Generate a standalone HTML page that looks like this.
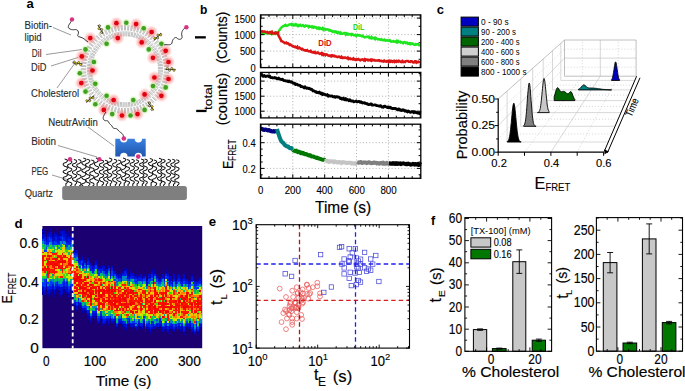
<!DOCTYPE html>
<html><head><meta charset="utf-8"><style>
html,body{margin:0;padding:0;background:#fff;width:685px;height:391px;overflow:hidden}
svg{display:block}
text{font-family:"Liberation Sans", sans-serif}
</style></head><body>
<svg width="685" height="391" viewBox="0 0 685 391" font-family="Liberation Sans, sans-serif">
<rect width="685" height="391" fill="#fff"/>
<text x="26.5" y="8.2" font-size="13" font-weight="bold" >a</text>
<text x="24.5" y="29.2" font-size="10.5" stroke="#2a2a2a" stroke-width="0.12" fill="#2a2a2a" textLength="27.5" lengthAdjust="spacingAndGlyphs" >Biotin-</text>
<text x="24.5" y="41.1" font-size="10.5" stroke="#2a2a2a" stroke-width="0.12" fill="#2a2a2a" textLength="17.2" lengthAdjust="spacingAndGlyphs" >lipid</text>
<text x="31.8" y="56.8" font-size="10.5" stroke="#2a2a2a" stroke-width="0.12" fill="#2a2a2a" textLength="10" lengthAdjust="spacingAndGlyphs" >DiI</text>
<text x="31.1" y="70.6" font-size="10.5" stroke="#2a2a2a" stroke-width="0.12" fill="#2a2a2a" textLength="15.4" lengthAdjust="spacingAndGlyphs" >DiD</text>
<text x="31.1" y="97.4" font-size="10.5" stroke="#2a2a2a" stroke-width="0.12" fill="#2a2a2a" textLength="48" lengthAdjust="spacingAndGlyphs" >Cholesterol</text>
<text x="48.2" y="125.7" font-size="10.5" stroke="#2a2a2a" stroke-width="0.12" fill="#2a2a2a" textLength="49.6" lengthAdjust="spacingAndGlyphs" >NeutrAvidin</text>
<text x="31.2" y="144.7" font-size="10.5" stroke="#2a2a2a" stroke-width="0.12" fill="#2a2a2a" textLength="24.8" lengthAdjust="spacingAndGlyphs" >Biotin</text>
<text x="31.5" y="174.7" font-size="10.5" stroke="#2a2a2a" stroke-width="0.12" fill="#2a2a2a" textLength="16.7" lengthAdjust="spacingAndGlyphs" >PEG</text>
<text x="24.8" y="197.2" font-size="10.5" stroke="#2a2a2a" stroke-width="0.12" fill="#2a2a2a" textLength="28.2" lengthAdjust="spacingAndGlyphs" >Quartz</text>
<g stroke="#555" stroke-width="0.6" fill="none">
<line x1="53" y1="27.5" x2="71" y2="35"/>
<line x1="46" y1="54.5" x2="82" y2="49.5"/>
<line x1="51" y1="66" x2="78" y2="57.5"/>
<line x1="57" y1="88" x2="75" y2="63"/>
<line x1="88" y1="127" x2="114" y2="146"/>
<line x1="58" y1="145.5" x2="97" y2="157"/>
<line x1="52" y1="175" x2="69" y2="180"/>
</g>
<g stroke="#9c9c9c" stroke-width="0.65">
<line x1="169.3" y1="68.8" x2="163.9" y2="68.8"/>
<line x1="169.3" y1="69.8" x2="163.9" y2="69.8"/>
<line x1="163.1" y1="70.2" x2="158.0" y2="70.1"/>
<line x1="163.0" y1="71.4" x2="157.9" y2="71.1"/>
<line x1="169.2" y1="72.2" x2="163.8" y2="71.9"/>
<line x1="169.1" y1="73.3" x2="163.7" y2="72.8"/>
<line x1="162.9" y1="73.2" x2="157.8" y2="72.7"/>
<line x1="162.8" y1="74.4" x2="157.7" y2="73.7"/>
<line x1="168.8" y1="75.7" x2="163.5" y2="74.9"/>
<line x1="168.7" y1="76.8" x2="163.3" y2="75.8"/>
<line x1="162.5" y1="76.1" x2="157.5" y2="75.2"/>
<line x1="162.2" y1="77.3" x2="157.3" y2="76.3"/>
<line x1="168.2" y1="79.1" x2="162.9" y2="77.9"/>
<line x1="167.9" y1="80.2" x2="162.7" y2="78.8"/>
<line x1="161.8" y1="79.1" x2="156.9" y2="77.7"/>
<line x1="161.5" y1="80.2" x2="156.6" y2="78.8"/>
<line x1="167.3" y1="82.5" x2="162.1" y2="80.9"/>
<line x1="167.0" y1="83.5" x2="161.8" y2="81.8"/>
<line x1="161.0" y1="81.9" x2="156.1" y2="80.2"/>
<line x1="160.5" y1="83.1" x2="155.8" y2="81.2"/>
<line x1="166.1" y1="85.8" x2="161.1" y2="83.8"/>
<line x1="165.7" y1="86.7" x2="160.8" y2="84.6"/>
<line x1="159.9" y1="84.7" x2="155.2" y2="82.6"/>
<line x1="159.3" y1="85.8" x2="154.7" y2="83.6"/>
<line x1="164.7" y1="88.9" x2="159.9" y2="86.5"/>
<line x1="164.2" y1="89.9" x2="159.4" y2="87.4"/>
<line x1="158.5" y1="87.4" x2="154.0" y2="85.0"/>
<line x1="157.9" y1="88.4" x2="153.5" y2="85.9"/>
<line x1="163.0" y1="92.0" x2="158.4" y2="89.2"/>
<line x1="162.5" y1="92.9" x2="157.9" y2="90.0"/>
<line x1="157.0" y1="90.0" x2="152.7" y2="87.2"/>
<line x1="156.3" y1="91.0" x2="152.1" y2="88.1"/>
<line x1="161.1" y1="94.9" x2="156.7" y2="91.8"/>
<line x1="160.5" y1="95.8" x2="156.2" y2="92.5"/>
<line x1="155.3" y1="92.4" x2="151.2" y2="89.3"/>
<line x1="154.5" y1="93.4" x2="150.6" y2="90.1"/>
<line x1="159.0" y1="97.7" x2="154.9" y2="94.2"/>
<line x1="158.3" y1="98.5" x2="154.3" y2="94.9"/>
<line x1="153.4" y1="94.7" x2="149.6" y2="91.3"/>
<line x1="152.6" y1="95.6" x2="148.9" y2="92.1"/>
<line x1="156.7" y1="100.2" x2="152.8" y2="96.5"/>
<line x1="155.9" y1="101.0" x2="152.2" y2="97.1"/>
<line x1="151.3" y1="96.9" x2="147.8" y2="93.2"/>
<line x1="150.4" y1="97.7" x2="147.0" y2="93.9"/>
<line x1="154.2" y1="102.6" x2="150.6" y2="98.6"/>
<line x1="153.4" y1="103.3" x2="149.9" y2="99.2"/>
<line x1="149.1" y1="98.8" x2="145.8" y2="94.9"/>
<line x1="148.1" y1="99.6" x2="145.0" y2="95.5"/>
<line x1="151.5" y1="104.8" x2="148.2" y2="100.5"/>
<line x1="150.6" y1="105.4" x2="147.5" y2="101.0"/>
<line x1="146.7" y1="100.6" x2="143.8" y2="96.4"/>
<line x1="145.7" y1="101.3" x2="142.9" y2="97.0"/>
<line x1="148.6" y1="106.8" x2="145.7" y2="102.2"/>
<line x1="147.7" y1="107.3" x2="144.9" y2="102.7"/>
<line x1="144.1" y1="102.2" x2="141.6" y2="97.8"/>
<line x1="143.1" y1="102.8" x2="140.7" y2="98.3"/>
<line x1="145.6" y1="108.5" x2="143.1" y2="103.7"/>
<line x1="144.6" y1="109.0" x2="142.2" y2="104.2"/>
<line x1="141.5" y1="103.6" x2="139.3" y2="99.0"/>
<line x1="140.4" y1="104.2" x2="138.3" y2="99.5"/>
<line x1="142.4" y1="110.0" x2="140.3" y2="105.1"/>
<line x1="141.5" y1="110.4" x2="139.5" y2="105.4"/>
<line x1="138.8" y1="104.8" x2="136.9" y2="100.1"/>
<line x1="137.6" y1="105.3" x2="135.9" y2="100.4"/>
<line x1="139.2" y1="111.3" x2="137.5" y2="106.1"/>
<line x1="138.2" y1="111.6" x2="136.6" y2="106.4"/>
<line x1="135.9" y1="105.8" x2="134.5" y2="100.9"/>
<line x1="134.8" y1="106.1" x2="133.4" y2="101.2"/>
<line x1="135.9" y1="112.2" x2="134.5" y2="107.0"/>
<line x1="134.8" y1="112.5" x2="133.6" y2="107.2"/>
<line x1="133.0" y1="106.5" x2="132.0" y2="101.6"/>
<line x1="131.8" y1="106.8" x2="130.9" y2="101.8"/>
<line x1="132.5" y1="113.0" x2="131.5" y2="107.6"/>
<line x1="131.4" y1="113.1" x2="130.6" y2="107.8"/>
<line x1="130.1" y1="107.1" x2="129.4" y2="102.0"/>
<line x1="128.9" y1="107.2" x2="128.4" y2="102.1"/>
<line x1="129.0" y1="113.4" x2="128.5" y2="108.0"/>
<line x1="127.9" y1="113.5" x2="127.6" y2="108.1"/>
<line x1="127.1" y1="107.3" x2="126.8" y2="102.2"/>
<line x1="125.9" y1="107.4" x2="125.8" y2="102.3"/>
<line x1="125.5" y1="113.6" x2="125.5" y2="108.2"/>
<line x1="124.5" y1="113.6" x2="124.5" y2="108.2"/>
<line x1="124.1" y1="107.4" x2="124.2" y2="102.3"/>
<line x1="122.9" y1="107.3" x2="123.2" y2="102.2"/>
<line x1="122.1" y1="113.5" x2="122.4" y2="108.1"/>
<line x1="121.0" y1="113.4" x2="121.5" y2="108.0"/>
<line x1="121.1" y1="107.2" x2="121.6" y2="102.1"/>
<line x1="119.9" y1="107.1" x2="120.6" y2="102.0"/>
<line x1="118.6" y1="113.1" x2="119.4" y2="107.8"/>
<line x1="117.5" y1="113.0" x2="118.5" y2="107.6"/>
<line x1="118.2" y1="106.8" x2="119.1" y2="101.8"/>
<line x1="117.0" y1="106.5" x2="118.0" y2="101.6"/>
<line x1="115.2" y1="112.5" x2="116.4" y2="107.2"/>
<line x1="114.1" y1="112.2" x2="115.5" y2="107.0"/>
<line x1="115.2" y1="106.1" x2="116.6" y2="101.2"/>
<line x1="114.1" y1="105.8" x2="115.5" y2="100.9"/>
<line x1="111.8" y1="111.6" x2="113.4" y2="106.4"/>
<line x1="110.8" y1="111.3" x2="112.5" y2="106.1"/>
<line x1="112.4" y1="105.3" x2="114.1" y2="100.4"/>
<line x1="111.2" y1="104.8" x2="113.1" y2="100.1"/>
<line x1="108.5" y1="110.4" x2="110.5" y2="105.4"/>
<line x1="107.6" y1="110.0" x2="109.7" y2="105.1"/>
<line x1="109.6" y1="104.2" x2="111.7" y2="99.5"/>
<line x1="108.5" y1="103.6" x2="110.7" y2="99.0"/>
<line x1="105.4" y1="109.0" x2="107.8" y2="104.2"/>
<line x1="104.4" y1="108.5" x2="106.9" y2="103.7"/>
<line x1="106.9" y1="102.8" x2="109.3" y2="98.3"/>
<line x1="105.9" y1="102.2" x2="108.4" y2="97.8"/>
<line x1="102.3" y1="107.3" x2="105.1" y2="102.7"/>
<line x1="101.4" y1="106.8" x2="104.3" y2="102.2"/>
<line x1="104.3" y1="101.3" x2="107.1" y2="97.0"/>
<line x1="103.3" y1="100.6" x2="106.2" y2="96.4"/>
<line x1="99.4" y1="105.4" x2="102.5" y2="101.0"/>
<line x1="98.5" y1="104.8" x2="101.8" y2="100.5"/>
<line x1="101.9" y1="99.6" x2="105.0" y2="95.5"/>
<line x1="100.9" y1="98.8" x2="104.2" y2="94.9"/>
<line x1="96.6" y1="103.3" x2="100.1" y2="99.2"/>
<line x1="95.8" y1="102.6" x2="99.4" y2="98.6"/>
<line x1="99.6" y1="97.7" x2="103.0" y2="93.9"/>
<line x1="98.7" y1="96.9" x2="102.2" y2="93.2"/>
<line x1="94.1" y1="101.0" x2="97.8" y2="97.1"/>
<line x1="93.3" y1="100.2" x2="97.2" y2="96.5"/>
<line x1="97.4" y1="95.6" x2="101.1" y2="92.1"/>
<line x1="96.6" y1="94.7" x2="100.4" y2="91.3"/>
<line x1="91.7" y1="98.5" x2="95.7" y2="94.9"/>
<line x1="91.0" y1="97.7" x2="95.1" y2="94.2"/>
<line x1="95.5" y1="93.4" x2="99.4" y2="90.1"/>
<line x1="94.7" y1="92.4" x2="98.8" y2="89.3"/>
<line x1="89.5" y1="95.8" x2="93.8" y2="92.5"/>
<line x1="88.9" y1="94.9" x2="93.3" y2="91.8"/>
<line x1="93.7" y1="91.0" x2="97.9" y2="88.1"/>
<line x1="93.0" y1="90.0" x2="97.3" y2="87.2"/>
<line x1="87.5" y1="92.9" x2="92.1" y2="90.0"/>
<line x1="87.0" y1="92.0" x2="91.6" y2="89.2"/>
<line x1="92.1" y1="88.4" x2="96.5" y2="85.9"/>
<line x1="91.5" y1="87.4" x2="96.0" y2="85.0"/>
<line x1="85.8" y1="89.9" x2="90.6" y2="87.4"/>
<line x1="85.3" y1="88.9" x2="90.1" y2="86.5"/>
<line x1="90.7" y1="85.8" x2="95.3" y2="83.6"/>
<line x1="90.1" y1="84.7" x2="94.8" y2="82.6"/>
<line x1="84.3" y1="86.7" x2="89.2" y2="84.6"/>
<line x1="83.9" y1="85.8" x2="88.9" y2="83.8"/>
<line x1="89.5" y1="83.1" x2="94.2" y2="81.2"/>
<line x1="89.0" y1="81.9" x2="93.9" y2="80.2"/>
<line x1="83.0" y1="83.5" x2="88.2" y2="81.8"/>
<line x1="82.7" y1="82.5" x2="87.9" y2="80.9"/>
<line x1="88.5" y1="80.2" x2="93.4" y2="78.8"/>
<line x1="88.2" y1="79.1" x2="93.1" y2="77.7"/>
<line x1="82.1" y1="80.2" x2="87.3" y2="78.8"/>
<line x1="81.8" y1="79.1" x2="87.1" y2="77.9"/>
<line x1="87.8" y1="77.3" x2="92.7" y2="76.3"/>
<line x1="87.5" y1="76.1" x2="92.5" y2="75.2"/>
<line x1="81.3" y1="76.8" x2="86.7" y2="75.8"/>
<line x1="81.2" y1="75.7" x2="86.5" y2="74.9"/>
<line x1="87.2" y1="74.4" x2="92.3" y2="73.7"/>
<line x1="87.1" y1="73.2" x2="92.2" y2="72.7"/>
<line x1="80.9" y1="73.3" x2="86.3" y2="72.8"/>
<line x1="80.8" y1="72.2" x2="86.2" y2="71.9"/>
<line x1="87.0" y1="71.4" x2="92.1" y2="71.1"/>
<line x1="86.9" y1="70.2" x2="92.0" y2="70.1"/>
<line x1="80.7" y1="69.8" x2="86.1" y2="69.8"/>
<line x1="80.7" y1="68.8" x2="86.1" y2="68.8"/>
<line x1="86.9" y1="68.4" x2="92.0" y2="68.5"/>
<line x1="87.0" y1="67.2" x2="92.1" y2="67.5"/>
<line x1="80.8" y1="66.4" x2="86.2" y2="66.7"/>
<line x1="80.9" y1="65.3" x2="86.3" y2="65.8"/>
<line x1="87.1" y1="65.4" x2="92.2" y2="65.9"/>
<line x1="87.2" y1="64.2" x2="92.3" y2="64.9"/>
<line x1="81.2" y1="62.9" x2="86.5" y2="63.7"/>
<line x1="81.3" y1="61.8" x2="86.7" y2="62.8"/>
<line x1="87.5" y1="62.5" x2="92.5" y2="63.4"/>
<line x1="87.8" y1="61.3" x2="92.7" y2="62.3"/>
<line x1="81.8" y1="59.5" x2="87.1" y2="60.7"/>
<line x1="82.1" y1="58.4" x2="87.3" y2="59.8"/>
<line x1="88.2" y1="59.5" x2="93.1" y2="60.9"/>
<line x1="88.5" y1="58.4" x2="93.4" y2="59.8"/>
<line x1="82.7" y1="56.1" x2="87.9" y2="57.7"/>
<line x1="83.0" y1="55.1" x2="88.2" y2="56.8"/>
<line x1="89.0" y1="56.7" x2="93.9" y2="58.4"/>
<line x1="89.5" y1="55.5" x2="94.2" y2="57.4"/>
<line x1="83.9" y1="52.8" x2="88.9" y2="54.8"/>
<line x1="84.3" y1="51.9" x2="89.2" y2="54.0"/>
<line x1="90.1" y1="53.9" x2="94.8" y2="56.0"/>
<line x1="90.7" y1="52.8" x2="95.3" y2="55.0"/>
<line x1="85.3" y1="49.7" x2="90.1" y2="52.1"/>
<line x1="85.8" y1="48.7" x2="90.6" y2="51.2"/>
<line x1="91.5" y1="51.2" x2="96.0" y2="53.6"/>
<line x1="92.1" y1="50.2" x2="96.5" y2="52.7"/>
<line x1="87.0" y1="46.6" x2="91.6" y2="49.4"/>
<line x1="87.5" y1="45.7" x2="92.1" y2="48.6"/>
<line x1="93.0" y1="48.6" x2="97.3" y2="51.4"/>
<line x1="93.7" y1="47.6" x2="97.9" y2="50.5"/>
<line x1="88.9" y1="43.7" x2="93.3" y2="46.8"/>
<line x1="89.5" y1="42.8" x2="93.8" y2="46.1"/>
<line x1="94.7" y1="46.2" x2="98.8" y2="49.3"/>
<line x1="95.5" y1="45.2" x2="99.4" y2="48.5"/>
<line x1="91.0" y1="40.9" x2="95.1" y2="44.4"/>
<line x1="91.7" y1="40.1" x2="95.7" y2="43.7"/>
<line x1="96.6" y1="43.9" x2="100.4" y2="47.3"/>
<line x1="97.4" y1="43.0" x2="101.1" y2="46.5"/>
<line x1="93.3" y1="38.4" x2="97.2" y2="42.1"/>
<line x1="94.1" y1="37.6" x2="97.8" y2="41.5"/>
<line x1="98.7" y1="41.7" x2="102.2" y2="45.4"/>
<line x1="99.6" y1="40.9" x2="103.0" y2="44.7"/>
<line x1="95.8" y1="36.0" x2="99.4" y2="40.0"/>
<line x1="96.6" y1="35.3" x2="100.1" y2="39.4"/>
<line x1="100.9" y1="39.8" x2="104.2" y2="43.7"/>
<line x1="101.9" y1="39.0" x2="105.0" y2="43.1"/>
<line x1="98.5" y1="33.8" x2="101.8" y2="38.1"/>
<line x1="99.4" y1="33.2" x2="102.5" y2="37.6"/>
<line x1="103.3" y1="38.0" x2="106.2" y2="42.2"/>
<line x1="104.3" y1="37.3" x2="107.1" y2="41.6"/>
<line x1="101.4" y1="31.8" x2="104.3" y2="36.4"/>
<line x1="102.3" y1="31.3" x2="105.1" y2="35.9"/>
<line x1="105.9" y1="36.4" x2="108.4" y2="40.8"/>
<line x1="106.9" y1="35.8" x2="109.3" y2="40.3"/>
<line x1="104.4" y1="30.1" x2="106.9" y2="34.9"/>
<line x1="105.4" y1="29.6" x2="107.8" y2="34.4"/>
<line x1="108.5" y1="35.0" x2="110.7" y2="39.6"/>
<line x1="109.6" y1="34.4" x2="111.7" y2="39.1"/>
<line x1="107.6" y1="28.6" x2="109.7" y2="33.5"/>
<line x1="108.5" y1="28.2" x2="110.5" y2="33.2"/>
<line x1="111.2" y1="33.8" x2="113.1" y2="38.5"/>
<line x1="112.4" y1="33.3" x2="114.1" y2="38.2"/>
<line x1="110.8" y1="27.3" x2="112.5" y2="32.5"/>
<line x1="111.8" y1="27.0" x2="113.4" y2="32.2"/>
<line x1="114.1" y1="32.8" x2="115.5" y2="37.7"/>
<line x1="115.2" y1="32.5" x2="116.6" y2="37.4"/>
<line x1="114.1" y1="26.4" x2="115.5" y2="31.6"/>
<line x1="115.2" y1="26.1" x2="116.4" y2="31.4"/>
<line x1="117.0" y1="32.1" x2="118.0" y2="37.0"/>
<line x1="118.2" y1="31.8" x2="119.1" y2="36.8"/>
<line x1="117.5" y1="25.6" x2="118.5" y2="31.0"/>
<line x1="118.6" y1="25.5" x2="119.4" y2="30.8"/>
<line x1="119.9" y1="31.5" x2="120.6" y2="36.6"/>
<line x1="121.1" y1="31.4" x2="121.6" y2="36.5"/>
<line x1="121.0" y1="25.2" x2="121.5" y2="30.6"/>
<line x1="122.1" y1="25.1" x2="122.4" y2="30.5"/>
<line x1="122.9" y1="31.3" x2="123.2" y2="36.4"/>
<line x1="124.1" y1="31.2" x2="124.2" y2="36.3"/>
<line x1="124.5" y1="25.0" x2="124.5" y2="30.4"/>
<line x1="125.5" y1="25.0" x2="125.5" y2="30.4"/>
<line x1="125.9" y1="31.2" x2="125.8" y2="36.3"/>
<line x1="127.1" y1="31.3" x2="126.8" y2="36.4"/>
<line x1="127.9" y1="25.1" x2="127.6" y2="30.5"/>
<line x1="129.0" y1="25.2" x2="128.5" y2="30.6"/>
<line x1="128.9" y1="31.4" x2="128.4" y2="36.5"/>
<line x1="130.1" y1="31.5" x2="129.4" y2="36.6"/>
<line x1="131.4" y1="25.5" x2="130.6" y2="30.8"/>
<line x1="132.5" y1="25.6" x2="131.5" y2="31.0"/>
<line x1="131.8" y1="31.8" x2="130.9" y2="36.8"/>
<line x1="133.0" y1="32.1" x2="132.0" y2="37.0"/>
<line x1="134.8" y1="26.1" x2="133.6" y2="31.4"/>
<line x1="135.9" y1="26.4" x2="134.5" y2="31.6"/>
<line x1="134.8" y1="32.5" x2="133.4" y2="37.4"/>
<line x1="135.9" y1="32.8" x2="134.5" y2="37.7"/>
<line x1="138.2" y1="27.0" x2="136.6" y2="32.2"/>
<line x1="139.2" y1="27.3" x2="137.5" y2="32.5"/>
<line x1="137.6" y1="33.3" x2="135.9" y2="38.2"/>
<line x1="138.8" y1="33.8" x2="136.9" y2="38.5"/>
<line x1="141.5" y1="28.2" x2="139.5" y2="33.2"/>
<line x1="142.4" y1="28.6" x2="140.3" y2="33.5"/>
<line x1="140.4" y1="34.4" x2="138.3" y2="39.1"/>
<line x1="141.5" y1="35.0" x2="139.3" y2="39.6"/>
<line x1="144.6" y1="29.6" x2="142.2" y2="34.4"/>
<line x1="145.6" y1="30.1" x2="143.1" y2="34.9"/>
<line x1="143.1" y1="35.8" x2="140.7" y2="40.3"/>
<line x1="144.1" y1="36.4" x2="141.6" y2="40.8"/>
<line x1="147.7" y1="31.3" x2="144.9" y2="35.9"/>
<line x1="148.6" y1="31.8" x2="145.7" y2="36.4"/>
<line x1="145.7" y1="37.3" x2="142.9" y2="41.6"/>
<line x1="146.7" y1="38.0" x2="143.8" y2="42.2"/>
<line x1="150.6" y1="33.2" x2="147.5" y2="37.6"/>
<line x1="151.5" y1="33.8" x2="148.2" y2="38.1"/>
<line x1="148.1" y1="39.0" x2="145.0" y2="43.1"/>
<line x1="149.1" y1="39.8" x2="145.8" y2="43.7"/>
<line x1="153.4" y1="35.3" x2="149.9" y2="39.4"/>
<line x1="154.2" y1="36.0" x2="150.6" y2="40.0"/>
<line x1="150.4" y1="40.9" x2="147.0" y2="44.7"/>
<line x1="151.3" y1="41.7" x2="147.8" y2="45.4"/>
<line x1="155.9" y1="37.6" x2="152.2" y2="41.5"/>
<line x1="156.7" y1="38.4" x2="152.8" y2="42.1"/>
<line x1="152.6" y1="43.0" x2="148.9" y2="46.5"/>
<line x1="153.4" y1="43.9" x2="149.6" y2="47.3"/>
<line x1="158.3" y1="40.1" x2="154.3" y2="43.7"/>
<line x1="159.0" y1="40.9" x2="154.9" y2="44.4"/>
<line x1="154.5" y1="45.2" x2="150.6" y2="48.5"/>
<line x1="155.3" y1="46.2" x2="151.2" y2="49.3"/>
<line x1="160.5" y1="42.8" x2="156.2" y2="46.1"/>
<line x1="161.1" y1="43.7" x2="156.7" y2="46.8"/>
<line x1="156.3" y1="47.6" x2="152.1" y2="50.5"/>
<line x1="157.0" y1="48.6" x2="152.7" y2="51.4"/>
<line x1="162.5" y1="45.7" x2="157.9" y2="48.6"/>
<line x1="163.0" y1="46.6" x2="158.4" y2="49.4"/>
<line x1="157.9" y1="50.2" x2="153.5" y2="52.7"/>
<line x1="158.5" y1="51.2" x2="154.0" y2="53.6"/>
<line x1="164.2" y1="48.7" x2="159.4" y2="51.2"/>
<line x1="164.7" y1="49.7" x2="159.9" y2="52.1"/>
<line x1="159.3" y1="52.8" x2="154.7" y2="55.0"/>
<line x1="159.9" y1="53.9" x2="155.2" y2="56.0"/>
<line x1="165.7" y1="51.9" x2="160.8" y2="54.0"/>
<line x1="166.1" y1="52.8" x2="161.1" y2="54.8"/>
<line x1="160.5" y1="55.5" x2="155.8" y2="57.4"/>
<line x1="161.0" y1="56.7" x2="156.1" y2="58.4"/>
<line x1="167.0" y1="55.1" x2="161.8" y2="56.8"/>
<line x1="167.3" y1="56.1" x2="162.1" y2="57.7"/>
<line x1="161.5" y1="58.4" x2="156.6" y2="59.8"/>
<line x1="161.8" y1="59.5" x2="156.9" y2="60.9"/>
<line x1="167.9" y1="58.4" x2="162.7" y2="59.8"/>
<line x1="168.2" y1="59.5" x2="162.9" y2="60.7"/>
<line x1="162.2" y1="61.3" x2="157.3" y2="62.3"/>
<line x1="162.5" y1="62.5" x2="157.5" y2="63.4"/>
<line x1="168.7" y1="61.8" x2="163.3" y2="62.8"/>
<line x1="168.8" y1="62.9" x2="163.5" y2="63.7"/>
<line x1="162.8" y1="64.2" x2="157.7" y2="64.9"/>
<line x1="162.9" y1="65.4" x2="157.8" y2="65.9"/>
<line x1="169.1" y1="65.3" x2="163.7" y2="65.8"/>
<line x1="169.2" y1="66.4" x2="163.8" y2="66.7"/>
<line x1="163.0" y1="67.2" x2="157.9" y2="67.5"/>
<line x1="163.1" y1="68.4" x2="158.0" y2="68.5"/>
</g>
<defs><radialGradient id="glr"><stop offset="0" stop-color="#ff5050" stop-opacity="0.8"/><stop offset="0.55" stop-color="#ff7070" stop-opacity="0.45"/><stop offset="1" stop-color="#ffa0a0" stop-opacity="0"/></radialGradient><radialGradient id="glg"><stop offset="0" stop-color="#a0e070" stop-opacity="0.9"/><stop offset="0.6" stop-color="#b8ec90" stop-opacity="0.5"/><stop offset="1" stop-color="#d0f4b0" stop-opacity="0"/></radialGradient><linearGradient id="nav" x1="0" y1="0" x2="0" y2="1"><stop offset="0" stop-color="#3a80e0"/><stop offset="1" stop-color="#1e56ae"/></linearGradient></defs>
<circle cx="116.4" cy="23.2" r="6.8" fill="url(#glr)"/><circle cx="116.4" cy="23.2" r="2.35" fill="#e00010"/>
<circle cx="126.3" cy="22.7" r="4.6" fill="url(#glg)"/><circle cx="126.3" cy="22.7" r="2.3" fill="#40a020"/>
<circle cx="136.1" cy="24.1" r="6.8" fill="url(#glr)"/><circle cx="136.1" cy="24.1" r="2.35" fill="#e00010"/>
<circle cx="143.7" cy="28.3" r="4.6" fill="url(#glg)"/><circle cx="143.7" cy="28.3" r="2.3" fill="#40a020"/>
<circle cx="151.6" cy="32" r="6.8" fill="url(#glr)"/><circle cx="151.6" cy="32" r="2.35" fill="#e00010"/>
<circle cx="161.4" cy="43.8" r="4.6" fill="url(#glg)"/><circle cx="161.4" cy="43.8" r="2.3" fill="#40a020"/>
<circle cx="165.7" cy="50.8" r="6.8" fill="url(#glr)"/><circle cx="165.7" cy="50.8" r="2.35" fill="#e00010"/>
<circle cx="168.5" cy="62" r="6.8" fill="url(#glr)"/><circle cx="168.5" cy="62" r="2.35" fill="#e00010"/>
<circle cx="168.5" cy="79" r="6.8" fill="url(#glr)"/><circle cx="168.5" cy="79" r="2.35" fill="#e00010"/>
<circle cx="165.7" cy="87.4" r="4.6" fill="url(#glg)"/><circle cx="165.7" cy="87.4" r="2.3" fill="#40a020"/>
<circle cx="161.4" cy="95.8" r="6.8" fill="url(#glr)"/><circle cx="161.4" cy="95.8" r="2.35" fill="#e00010"/>
<circle cx="144.6" cy="109.9" r="4.6" fill="url(#glg)"/><circle cx="144.6" cy="109.9" r="2.3" fill="#40a020"/>
<circle cx="137.5" cy="114.1" r="6.8" fill="url(#glr)"/><circle cx="137.5" cy="114.1" r="2.35" fill="#e00010"/>
<circle cx="130.5" cy="115.5" r="4.6" fill="url(#glg)"/><circle cx="130.5" cy="115.5" r="2.3" fill="#40a020"/>
<circle cx="122" cy="115.5" r="6.8" fill="url(#glr)"/><circle cx="122" cy="115.5" r="2.35" fill="#e00010"/>
<circle cx="112.2" cy="114.1" r="4.6" fill="url(#glg)"/><circle cx="112.2" cy="114.1" r="2.3" fill="#40a020"/>
<circle cx="103.8" cy="109.9" r="6.8" fill="url(#glr)"/><circle cx="103.8" cy="109.9" r="2.35" fill="#e00010"/>
<circle cx="95.3" cy="104.2" r="4.6" fill="url(#glg)"/><circle cx="95.3" cy="104.2" r="2.3" fill="#40a020"/>
<circle cx="85.5" cy="91.6" r="4.6" fill="url(#glg)"/><circle cx="85.5" cy="91.6" r="2.3" fill="#40a020"/>
<circle cx="81.3" cy="83.1" r="6.8" fill="url(#glr)"/><circle cx="81.3" cy="83.1" r="2.35" fill="#e00010"/>
<circle cx="79.8" cy="73.3" r="4.6" fill="url(#glg)"/><circle cx="79.8" cy="73.3" r="2.3" fill="#40a020"/>
<circle cx="81.8" cy="56.4" r="6.8" fill="url(#glr)"/><circle cx="81.8" cy="56.4" r="2.35" fill="#e00010"/>
<circle cx="85.5" cy="49.4" r="4.6" fill="url(#glg)"/><circle cx="85.5" cy="49.4" r="2.3" fill="#40a020"/>
<circle cx="90.3" cy="38.1" r="6.8" fill="url(#glr)"/><circle cx="90.3" cy="38.1" r="2.35" fill="#e00010"/>
<circle cx="108" cy="27.4" r="4.6" fill="url(#glg)"/><circle cx="108" cy="27.4" r="2.3" fill="#40a020"/>
<circle cx="117.8" cy="38.1" r="6.8" fill="url(#glr)"/><circle cx="117.8" cy="38.1" r="2.35" fill="#e00010"/>
<circle cx="106.6" cy="43.8" r="4.6" fill="url(#glg)"/><circle cx="106.6" cy="43.8" r="2.3" fill="#40a020"/>
<circle cx="92.5" cy="70.5" r="6.8" fill="url(#glr)"/><circle cx="92.5" cy="70.5" r="2.35" fill="#e00010"/>
<circle cx="93.9" cy="62" r="4.6" fill="url(#glg)"/><circle cx="93.9" cy="62" r="2.3" fill="#40a020"/>
<circle cx="95.3" cy="83.7" r="4.6" fill="url(#glg)"/><circle cx="95.3" cy="83.7" r="2.3" fill="#40a020"/>
<circle cx="113.6" cy="100" r="6.8" fill="url(#glr)"/><circle cx="113.6" cy="100" r="2.35" fill="#e00010"/>
<circle cx="106.6" cy="95.8" r="4.6" fill="url(#glg)"/><circle cx="106.6" cy="95.8" r="2.3" fill="#40a020"/>
<circle cx="133.3" cy="100" r="4.6" fill="url(#glg)"/><circle cx="133.3" cy="100" r="2.3" fill="#40a020"/>
<circle cx="144.6" cy="94.4" r="6.8" fill="url(#glr)"/><circle cx="144.6" cy="94.4" r="2.35" fill="#e00010"/>
<circle cx="153" cy="86" r="4.6" fill="url(#glg)"/><circle cx="153" cy="86" r="2.3" fill="#40a020"/>
<circle cx="154.4" cy="77.5" r="6.8" fill="url(#glr)"/><circle cx="154.4" cy="77.5" r="2.35" fill="#e00010"/>
<circle cx="153" cy="57.8" r="6.8" fill="url(#glr)"/><circle cx="153" cy="57.8" r="2.35" fill="#e00010"/>
<circle cx="148.8" cy="49.4" r="4.6" fill="url(#glg)"/><circle cx="148.8" cy="49.4" r="2.3" fill="#40a020"/>
<circle cx="141.7" cy="42.4" r="6.8" fill="url(#glr)"/><circle cx="141.7" cy="42.4" r="2.35" fill="#e00010"/>
<g transform="translate(100.5,29.2) rotate(-121)"><path d="M-5,0 L5,0" stroke="#222" stroke-width="1"/><circle cx="-3.2" cy="-0.9" r="1.1" fill="#e8d020" stroke="#222" stroke-width="0.5"/><circle cx="-1" cy="0.9" r="1.1" fill="#e8d020" stroke="#222" stroke-width="0.5"/><circle cx="1.2" cy="-0.9" r="1.1" fill="#e8d020" stroke="#222" stroke-width="0.5"/><circle cx="3.4" cy="0.9" r="1.1" fill="#e8d020" stroke="#222" stroke-width="0.5"/></g>
<g transform="translate(157.7,36.6) rotate(-45)"><path d="M-5,0 L5,0" stroke="#222" stroke-width="1"/><circle cx="-3.2" cy="-0.9" r="1.1" fill="#e8d020" stroke="#222" stroke-width="0.5"/><circle cx="-1" cy="0.9" r="1.1" fill="#e8d020" stroke="#222" stroke-width="0.5"/><circle cx="1.2" cy="-0.9" r="1.1" fill="#e8d020" stroke="#222" stroke-width="0.5"/><circle cx="3.4" cy="0.9" r="1.1" fill="#e8d020" stroke="#222" stroke-width="0.5"/></g>
<g transform="translate(170.6,69.4) rotate(0)"><path d="M-5,0 L5,0" stroke="#222" stroke-width="1"/><circle cx="-3.2" cy="-0.9" r="1.1" fill="#e8d020" stroke="#222" stroke-width="0.5"/><circle cx="-1" cy="0.9" r="1.1" fill="#e8d020" stroke="#222" stroke-width="0.5"/><circle cx="1.2" cy="-0.9" r="1.1" fill="#e8d020" stroke="#222" stroke-width="0.5"/><circle cx="3.4" cy="0.9" r="1.1" fill="#e8d020" stroke="#222" stroke-width="0.5"/></g>
<g transform="translate(150.7,106.1) rotate(55)"><path d="M-5,0 L5,0" stroke="#222" stroke-width="1"/><circle cx="-3.2" cy="-0.9" r="1.1" fill="#e8d020" stroke="#222" stroke-width="0.5"/><circle cx="-1" cy="0.9" r="1.1" fill="#e8d020" stroke="#222" stroke-width="0.5"/><circle cx="1.2" cy="-0.9" r="1.1" fill="#e8d020" stroke="#222" stroke-width="0.5"/><circle cx="3.4" cy="0.9" r="1.1" fill="#e8d020" stroke="#222" stroke-width="0.5"/></g>
<g transform="translate(90,99.2) rotate(139)"><path d="M-5,0 L5,0" stroke="#222" stroke-width="1"/><circle cx="-3.2" cy="-0.9" r="1.1" fill="#e8d020" stroke="#222" stroke-width="0.5"/><circle cx="-1" cy="0.9" r="1.1" fill="#e8d020" stroke="#222" stroke-width="0.5"/><circle cx="1.2" cy="-0.9" r="1.1" fill="#e8d020" stroke="#222" stroke-width="0.5"/><circle cx="3.4" cy="0.9" r="1.1" fill="#e8d020" stroke="#222" stroke-width="0.5"/></g>
<g transform="translate(77.5,63.3) rotate(-173)"><path d="M-5,0 L5,0" stroke="#222" stroke-width="1"/><circle cx="-3.2" cy="-0.9" r="1.1" fill="#e8d020" stroke="#222" stroke-width="0.5"/><circle cx="-1" cy="0.9" r="1.1" fill="#e8d020" stroke="#222" stroke-width="0.5"/><circle cx="1.2" cy="-0.9" r="1.1" fill="#e8d020" stroke="#222" stroke-width="0.5"/><circle cx="3.4" cy="0.9" r="1.1" fill="#e8d020" stroke="#222" stroke-width="0.5"/></g>
<g fill="none" stroke="#222" stroke-width="0.9">
<path d="M72,20 C70,24 66,27 70,29 C74,31 76,28 78,31 C80,34 75,36 80,37 C84,38 85,40 88,42"/>
<path d="M186,27 C182,30 181,33 182,36 C183,40 178,40 177,38 C175,36 172,40 172,43 C171,46 166,44 164,45"/>
<path d="M106,112 C104,115 102,118 104,120 C106,122 107,119 108.5,122 C110,125 111,124 112.5,127 C114,130 116,127 118,130 C120,133 122.5,132 123.8,137"/>
</g>
<circle cx="72" cy="19.4" r="2.2" fill="#d63384"/>
<circle cx="186.4" cy="27.3" r="2.2" fill="#d63384"/>
<path d="M115.3,138.8 H120.1 A3.7,3.7 0 0 0 127.5,138.8 H134.7 A3.7,3.7 0 0 0 142.1,138.8 H145.7 V156.4 H142.1 A3.7,3.7 0 0 0 134.7,156.4 H127.5 A3.7,3.7 0 0 0 120.1,156.4 H115.3 Z" fill="url(#nav)"/>
<circle cx="123.8" cy="138.5" r="2.3" fill="#d63384"/>
<circle cx="138.2" cy="156.6" r="2.3" fill="#d63384"/>
<g fill="none" stroke="#111" stroke-width="1.05">
<path d="M64.7,159.1 q5.0,1.0 1.2,3.5 q-5.0,1.1 -1.2,3.7 q5.0,1.1 1.2,3.7 q-5.0,1.0 -1.2,3.3 q5.0,1.0 1.2,3.2 q-5.0,1.2 -1.2,3.9 q5.0,1.0 1.2,3.4 L65.9,186"/>
<path d="M69.1,160.2 q5.0,1.1 1.2,3.6 q-5.0,1.2 -1.2,3.9 q5.0,1.1 1.2,3.6 q-5.0,1.1 -1.2,3.7 q5.0,1.0 1.2,3.3 q-5.0,1.1 -1.2,3.7 q5.0,1.2 1.2,3.9 L70.3,186"/>
<path d="M73.9,159.6 q5.0,1.1 1.2,3.7 q-5.0,1.0 -1.2,3.3 q5.0,1.1 1.2,3.8 q-5.0,1.1 -1.2,3.7 q5.0,1.0 1.2,3.4 q-5.0,1.0 -1.2,3.2 q5.0,1.2 1.2,3.9 L75.1,186"/>
<path d="M78.3,159.5 q5.0,1.2 1.2,3.9 q-5.0,1.1 -1.2,3.8 q5.0,1.2 1.2,3.9 q-5.0,1.1 -1.2,3.5 q5.0,1.2 1.2,3.8 q-5.0,1.1 -1.2,3.6 q5.0,1.2 1.2,3.9 L79.5,186"/>
<path d="M83.3,158.0 q5.0,1.0 1.2,3.3 q-5.0,1.0 -1.2,3.4 q5.0,1.2 1.2,4.0 q-5.0,1.1 -1.2,3.5 q5.0,1.1 1.2,3.7 q-5.0,1.0 -1.2,3.4 q5.0,1.1 1.2,3.6 q-5.0,1.1 -1.2,3.5 L83.3,186"/>
<path d="M87.1,159.2 q5.0,1.1 1.2,3.7 q-5.0,1.2 -1.2,3.9 q5.0,1.1 1.2,3.7 q-5.0,1.2 -1.2,3.9 q5.0,1.2 1.2,3.9 q-5.0,1.2 -1.2,4.0 q5.0,1.1 1.2,3.7 L88.3,186"/>
<path d="M91.3,159.9 q5.0,1.2 1.2,4.0 q-5.0,1.2 -1.2,3.9 q5.0,1.1 1.2,3.7 q-5.0,1.1 -1.2,3.8 q5.0,1.0 1.2,3.4 q-5.0,1.2 -1.2,3.9 q5.0,1.1 1.2,3.7 L92.5,186"/>
<path d="M95.9,158.0 q5.0,1.2 1.2,3.9 q-5.0,1.2 -1.2,4.0 q5.0,1.0 1.2,3.3 q-5.0,1.2 -1.2,3.8 q5.0,1.1 1.2,3.5 q-5.0,1.0 -1.2,3.3 q5.0,1.0 1.2,3.4 L97.1,186"/>
<path d="M100.9,159.9 q5.0,1.0 1.2,3.2 q-5.0,1.1 -1.2,3.7 q5.0,1.0 1.2,3.2 q-5.0,1.1 -1.2,3.8 q5.0,1.0 1.2,3.5 q-5.0,1.2 -1.2,3.9 q5.0,1.2 1.2,4.0 L102.1,186"/>
<path d="M105.1,160.2 q5.0,1.0 1.2,3.4 q-5.0,1.0 -1.2,3.3 q5.0,1.1 1.2,3.7 q-5.0,1.0 -1.2,3.2 q5.0,1.0 1.2,3.4 q-5.0,1.1 -1.2,3.5 q5.0,1.1 1.2,3.7 L106.3,186"/>
<path d="M109.1,157.9 q5.0,1.2 1.2,3.9 q-5.0,1.0 -1.2,3.5 q5.0,1.2 1.2,4.0 q-5.0,1.2 -1.2,3.9 q5.0,1.1 1.2,3.5 q-5.0,1.1 -1.2,3.6 q5.0,1.1 1.2,3.6 L110.3,186"/>
<path d="M114.1,159.2 q5.0,1.1 1.2,3.6 q-5.0,1.1 -1.2,3.7 q5.0,1.2 1.2,4.0 q-5.0,1.1 -1.2,3.6 q5.0,1.1 1.2,3.5 q-5.0,1.1 -1.2,3.8 q5.0,1.0 1.2,3.4 L115.3,186"/>
<path d="M118.2,160.1 q5.0,1.1 1.2,3.6 q-5.0,1.1 -1.2,3.6 q5.0,1.0 1.2,3.2 q-5.0,1.1 -1.2,3.5 q5.0,1.1 1.2,3.7 q-5.0,1.0 -1.2,3.2 q5.0,1.1 1.2,3.7 L119.4,186"/>
<path d="M123.0,157.9 q5.0,1.1 1.2,3.7 q-5.0,1.1 -1.2,3.6 q5.0,1.1 1.2,3.7 q-5.0,1.0 -1.2,3.5 q5.0,1.1 1.2,3.8 q-5.0,1.1 -1.2,3.8 q5.0,1.0 1.2,3.2 L124.2,186"/>
<path d="M126.8,159.4 q5.0,1.2 1.2,4.0 q-5.0,1.0 -1.2,3.4 q5.0,1.1 1.2,3.6 q-5.0,1.1 -1.2,3.7 q5.0,1.0 1.2,3.5 q-5.0,1.0 -1.2,3.5 q5.0,1.0 1.2,3.5 L128.0,186"/>
<path d="M131.6,159.2 q5.0,1.0 1.2,3.4 q-5.0,1.1 -1.2,3.5 q5.0,1.1 1.2,3.8 q-5.0,1.0 -1.2,3.2 q5.0,1.1 1.2,3.7 q-5.0,1.1 -1.2,3.8 q5.0,1.0 1.2,3.4 L132.8,186"/>
<path d="M135.9,159.7 q5.0,1.0 1.2,3.4 q-5.0,1.0 -1.2,3.3 q5.0,1.1 1.2,3.5 q-5.0,1.1 -1.2,3.8 q5.0,1.0 1.2,3.3 q-5.0,1.0 -1.2,3.5 q5.0,1.0 1.2,3.5 L137.1,186"/>
<path d="M141.1,158.9 q5.0,1.2 1.2,3.9 q-5.0,1.0 -1.2,3.3 q5.0,1.0 1.2,3.5 q-5.0,1.1 -1.2,3.7 q5.0,1.2 1.2,3.9 q-5.0,1.1 -1.2,3.6 q5.0,1.0 1.2,3.4 L142.3,186"/>
<path d="M144.6,159.1 q5.0,1.0 1.2,3.4 q-5.0,1.2 -1.2,3.8 q5.0,1.2 1.2,3.9 q-5.0,1.0 -1.2,3.3 q5.0,1.0 1.2,3.4 q-5.0,1.2 -1.2,3.8 q5.0,1.1 1.2,3.7 L145.8,186"/>
<path d="M149.9,158.6 q5.0,1.0 1.2,3.3 q-5.0,1.0 -1.2,3.4 q5.0,1.2 1.2,3.8 q-5.0,1.0 -1.2,3.4 q5.0,1.0 1.2,3.5 q-5.0,1.1 -1.2,3.5 q5.0,1.1 1.2,3.5 L151.1,186"/>
<path d="M153.9,160.0 q5.0,1.0 1.2,3.3 q-5.0,1.0 -1.2,3.2 q5.0,1.2 1.2,4.0 q-5.0,1.2 -1.2,3.9 q5.0,1.2 1.2,4.0 q-5.0,1.1 -1.2,3.5 q5.0,1.2 1.2,4.0 L155.1,186"/>
<path d="M159.0,158.3 q5.0,1.1 1.2,3.8 q-5.0,1.2 -1.2,3.9 q5.0,1.1 1.2,3.7 q-5.0,1.1 -1.2,3.6 q5.0,1.0 1.2,3.4 q-5.0,1.0 -1.2,3.5 q5.0,1.0 1.2,3.4 L160.2,186"/>
<path d="M162.4,159.2 q5.0,1.0 1.2,3.4 q-5.0,1.2 -1.2,3.8 q5.0,1.0 1.2,3.2 q-5.0,1.2 -1.2,3.9 q5.0,1.1 1.2,3.8 q-5.0,1.2 -1.2,3.9 q5.0,1.2 1.2,3.9 L163.6,186"/>
<path d="M167.8,159.2 q5.0,1.0 1.2,3.2 q-5.0,1.1 -1.2,3.8 q5.0,1.0 1.2,3.3 q-5.0,1.0 -1.2,3.4 q5.0,1.1 1.2,3.7 q-5.0,1.1 -1.2,3.6 q5.0,1.1 1.2,3.5 L169.0,186"/>
<path d="M172.3,159.3 q5.0,1.0 1.2,3.5 q-5.0,1.0 -1.2,3.4 q5.0,1.2 1.2,3.9 q-5.0,1.1 -1.2,3.6 q5.0,1.1 1.2,3.8 q-5.0,1.0 -1.2,3.5 q5.0,1.0 1.2,3.4 L173.5,186"/>
<path d="M176.3,159.8 q5.0,1.0 1.2,3.3 q-5.0,1.2 -1.2,3.8 q5.0,1.2 1.2,3.9 q-5.0,1.2 -1.2,3.8 q5.0,1.2 1.2,3.9 q-5.0,1.0 -1.2,3.2 q5.0,1.1 1.2,3.7 L177.5,186"/>
</g>
<rect x="62.2" y="186" width="124.7" height="14" rx="2.5" fill="#7f7f7f"/>
<circle cx="70" cy="159.3" r="2.2" fill="#d63384"/>
<circle cx="99.3" cy="159.3" r="2.2" fill="#d63384"/>
<text x="200" y="14.3" font-size="12" font-weight="bold" >b</text>
<g stroke="#9a9a9a" stroke-width="0.8" stroke-dasharray="1,2.2">
<line x1="292.8" y1="14.9" x2="292.8" y2="67.6"/>
<line x1="324.7" y1="14.9" x2="324.7" y2="67.6"/>
<line x1="356.5" y1="14.9" x2="356.5" y2="67.6"/>
<line x1="388.4" y1="14.9" x2="388.4" y2="67.6"/>
<line x1="260.5" y1="51.1" x2="420.8" y2="51.1"/>
<line x1="260.5" y1="34.6" x2="420.8" y2="34.6"/>
<line x1="260.5" y1="18.1" x2="420.8" y2="18.1"/>
</g>
<g stroke="#9a9a9a" stroke-width="0.8" stroke-dasharray="1,2.2">
<line x1="292.8" y1="72.4" x2="292.8" y2="117.9"/>
<line x1="324.7" y1="72.4" x2="324.7" y2="117.9"/>
<line x1="356.5" y1="72.4" x2="356.5" y2="117.9"/>
<line x1="388.4" y1="72.4" x2="388.4" y2="117.9"/>
<line x1="260.5" y1="111.2" x2="420.8" y2="111.2"/>
<line x1="260.5" y1="96.2" x2="420.8" y2="96.2"/>
<line x1="260.5" y1="81.1" x2="420.8" y2="81.1"/>
</g>
<g stroke="#9a9a9a" stroke-width="0.8" stroke-dasharray="1,2.2">
<line x1="292.8" y1="124.2" x2="292.8" y2="178.3"/>
<line x1="324.7" y1="124.2" x2="324.7" y2="178.3"/>
<line x1="356.5" y1="124.2" x2="356.5" y2="178.3"/>
<line x1="388.4" y1="124.2" x2="388.4" y2="178.3"/>
<line x1="260.5" y1="168.4" x2="420.8" y2="168.4"/>
<line x1="260.5" y1="142.7" x2="420.8" y2="142.7"/>
</g>
<path d="M261.0,32.9L261.7,33.1L262.4,33.7L263.1,33.0L263.8,33.1L264.5,33.3L265.2,32.7L265.9,33.2L266.6,33.4L267.3,33.7L268.0,32.7L268.7,33.1L269.4,32.8L270.1,33.8L270.8,33.7L271.5,32.7L272.2,34.0L272.9,34.0L273.6,33.6L274.3,33.5L275.0,32.9L275.7,32.6L276.4,33.4L277.1,32.7L277.8,32.9L278.5,32.0L279.2,30.4L279.9,29.7L280.6,28.5L281.3,27.8L282.0,26.8L282.7,26.6L283.4,26.0L284.1,25.9L284.8,25.2L285.5,24.8L286.2,25.8L286.9,25.7L287.6,25.5L288.3,25.2L289.0,24.6L289.7,24.4L290.4,24.4L291.1,24.1L291.8,25.0L292.5,24.5L293.2,25.2L293.9,24.6L294.6,25.5L295.3,25.4L296.0,24.3L296.7,24.7L297.4,25.8L298.1,25.2L298.8,26.0L299.5,25.3L300.2,24.9L300.9,25.7L301.6,26.0L302.3,25.4L303.0,25.2L303.7,25.6L304.4,26.6L305.1,26.4L305.8,25.5L306.5,25.8L307.2,25.7L307.9,25.8L308.6,26.9L309.3,26.2L310.0,26.8L310.7,26.8L311.4,26.5L312.1,27.4L312.8,26.7L313.5,27.5L314.2,26.9L314.9,27.4L315.6,27.2L316.3,27.4L317.0,28.5L317.7,28.4L318.4,27.8L319.1,28.7L319.8,27.9L320.5,28.3L321.2,29.0L321.9,28.9L322.6,28.2L323.3,29.6L324.0,28.6L324.7,28.8L325.4,29.7L326.1,29.3L326.8,29.4L327.5,29.3L328.2,29.5L328.9,30.3L329.6,30.0L330.3,30.7L331.0,30.6L331.7,30.9L332.4,31.7L333.1,31.3L333.8,31.6L334.5,32.1L335.2,31.4L335.9,31.5L336.6,32.7L337.3,32.8L338.0,32.1L338.7,32.2L339.4,33.2L340.1,33.6L340.8,32.7L341.5,33.8L342.2,33.8L342.9,33.5L343.6,33.4L344.3,33.0L345.0,33.0L345.7,34.4L346.4,33.5L347.1,34.3L347.8,33.7L348.5,34.6L349.2,34.4L349.9,34.1L350.6,34.0L351.3,34.9L352.0,34.0L352.7,34.4L353.4,34.9L354.1,35.4L354.8,35.2L355.5,34.8L356.2,35.8L356.9,34.9L357.6,34.8L358.3,35.3L359.0,35.6L359.7,35.2L360.4,35.5L361.1,35.9L361.8,36.3L362.5,35.8L363.2,36.2L363.9,37.0L364.6,37.3L365.3,37.0L366.0,37.1L366.7,37.1L367.4,36.6L368.1,36.5L368.8,36.6L369.5,38.0L370.2,37.8L370.9,38.3L371.6,37.1L372.3,38.1L373.0,38.0L373.7,38.4L374.4,38.0L375.1,39.0L375.8,37.9L376.5,38.6L377.2,39.0L377.9,39.4L378.6,39.3L379.3,39.3L380.0,39.6L380.7,39.8L381.4,39.2L382.1,39.8L382.8,40.2L383.5,40.2L384.2,39.7L384.9,40.4L385.6,40.6L386.3,40.3L387.0,40.5L387.7,40.3L388.4,40.7L389.1,40.8L389.8,40.2L390.5,41.1L391.2,41.7L391.9,41.6L392.6,41.5L393.3,41.1L394.0,41.7L394.7,41.6L395.4,41.4L396.1,42.1L396.8,41.1L397.5,42.2L398.2,41.3L398.9,42.1L399.6,42.1L400.3,41.8L401.0,42.6L401.7,42.4L402.4,42.6L403.1,43.2L403.8,42.3L404.5,42.1L405.2,42.6L405.9,43.2L406.6,42.6L407.3,42.7L408.0,43.8L408.7,43.6L409.4,43.3L410.1,44.1L410.8,43.4L411.5,43.9L412.2,43.4L412.9,43.8L413.6,44.4L414.3,44.7L415.0,44.7L415.7,44.1L416.4,44.5L417.1,44.2L417.8,44.1L418.5,44.7L419.2,45.2L419.9,45.3L420.6,45.2" fill="none" stroke="#1ee61e" stroke-width="2.5"/>
<path d="M261.0,32.1L261.7,31.3L262.4,31.2L263.1,31.7L263.8,31.5L264.5,31.5L265.2,31.9L265.9,32.3L266.6,32.2L267.3,32.0L268.0,32.8L268.7,33.1L269.4,32.5L270.1,32.0L270.8,32.0L271.5,33.3L272.2,32.2L272.9,33.3L273.6,33.1L274.3,32.9L275.0,33.6L275.7,32.6L276.4,32.9L277.1,33.4L277.8,32.9L278.5,35.5L279.2,36.8L279.9,38.2L280.6,39.4L281.3,41.1L282.0,41.2L282.7,41.7L283.4,42.0L284.1,42.5L284.8,43.1L285.5,43.0L286.2,42.6L286.9,43.4L287.6,43.3L288.3,43.4L289.0,44.3L289.7,45.0L290.4,44.6L291.1,45.1L291.8,45.5L292.5,46.2L293.2,46.2L293.9,46.6L294.6,47.0L295.3,46.7L296.0,47.5L296.7,47.8L297.4,46.9L298.1,48.3L298.8,48.2L299.5,47.6L300.2,48.3L300.9,48.8L301.6,49.4L302.3,48.9L303.0,49.4L303.7,50.0L304.4,50.1L305.1,50.5L305.8,50.1L306.5,50.5L307.2,50.1L307.9,51.0L308.6,51.3L309.3,51.2L310.0,51.5L310.7,50.9L311.4,52.0L312.1,52.3L312.8,52.5L313.5,52.0L314.2,52.6L314.9,52.1L315.6,53.1L316.3,53.2L317.0,52.6L317.7,52.4L318.4,53.1L319.1,53.4L319.8,53.9L320.5,53.6L321.2,53.2L321.9,54.4L322.6,53.6L323.3,54.8L324.0,54.0L324.7,54.4L325.4,55.1L326.1,54.3L326.8,54.4L327.5,55.1L328.2,55.5L328.9,55.7L329.6,55.6L330.3,56.1L331.0,55.6L331.7,56.3L332.4,55.2L333.1,55.5L333.8,56.1L334.5,55.8L335.2,56.6L335.9,56.6L336.6,56.5L337.3,57.1L338.0,56.8L338.7,56.5L339.4,56.7L340.1,57.5L340.8,57.7L341.5,56.8L342.2,57.8L342.9,58.1L343.6,57.6L344.3,57.8L345.0,57.4L345.7,57.9L346.4,58.0L347.1,58.3L347.8,57.6L348.5,59.0L349.2,58.5L349.9,58.4L350.6,59.1L351.3,58.9L352.0,58.9L352.7,59.3L353.4,58.5L354.1,59.3L354.8,59.2L355.5,60.1L356.2,60.1L356.9,59.2L357.6,59.5L358.3,59.1L359.0,59.6L359.7,60.1L360.4,60.3L361.1,59.7L361.8,59.6L362.5,59.4L363.2,60.0L363.9,60.5L364.6,59.4L365.3,60.4L366.0,59.4L366.7,59.6L367.4,59.7L368.1,60.4L368.8,59.9L369.5,60.0L370.2,60.4L370.9,59.7L371.6,60.6L372.3,59.8L373.0,60.4L373.7,60.1L374.4,60.1L375.1,60.6L375.8,60.5L376.5,60.4L377.2,60.5L377.9,60.7L378.6,60.2L379.3,60.3L380.0,61.0L380.7,61.0L381.4,60.9L382.1,61.4L382.8,61.1L383.5,61.5L384.2,60.6L384.9,61.4L385.6,61.5L386.3,61.7L387.0,60.9L387.7,60.9L388.4,61.8L389.1,60.9L389.8,62.0L390.5,61.9L391.2,60.8L391.9,61.0L392.6,61.7L393.3,61.0L394.0,60.8L394.7,61.9L395.4,61.3L396.1,61.8L396.8,60.9L397.5,61.3L398.2,61.7L398.9,60.8L399.6,61.1L400.3,61.8L401.0,62.1L401.7,62.2L402.4,61.0L403.1,61.6L403.8,62.0L404.5,61.6L405.2,61.9L405.9,61.2L406.6,61.1L407.3,61.1L408.0,61.1L408.7,61.8L409.4,61.8L410.1,61.9L410.8,61.3L411.5,61.3L412.2,61.4L412.9,62.3L413.6,62.5L414.3,62.4L415.0,61.3L415.7,61.3L416.4,62.5L417.1,61.9L417.8,62.3L418.5,61.7L419.2,61.9L419.9,62.0L420.6,61.9" fill="none" stroke="#dc1414" stroke-width="2.5"/>
<text x="352.9" y="30.4" font-size="8.5" font-weight="bold" fill="#22dd22" textLength="11.3" lengthAdjust="spacingAndGlyphs" >DiL</text>
<text x="318.3" y="46.4" font-size="8.5" font-weight="bold" fill="#dd1111" textLength="13.4" lengthAdjust="spacingAndGlyphs" >DiD</text>
<path d="M261.0,75.6L261.8,74.8L262.6,76.0L263.4,76.4L264.2,75.4L265.0,76.0L265.8,76.6L266.6,76.2L267.4,76.0L268.2,76.1L269.0,76.8L269.8,76.1L270.6,77.6L271.4,77.6L272.2,77.6L273.0,78.0L273.8,77.8L274.6,77.5L275.4,78.0L276.2,78.0L277.0,78.9L277.8,78.7L278.6,78.0L279.4,79.2L280.2,79.1L281.0,79.4L281.8,79.7L282.6,79.3L283.4,80.4L284.2,80.6L285.0,80.6L285.8,80.9L286.6,81.2L287.4,80.9L288.2,81.7L289.0,80.9L289.8,81.6L290.6,82.1L291.4,81.6L292.2,82.4L293.0,83.1L293.8,83.4L294.6,83.1L295.4,84.5L296.2,84.4L297.0,84.1L297.8,85.0L298.6,85.1L299.4,85.4L300.2,85.4L301.0,86.7L301.8,86.4L302.6,86.8L303.4,87.2L304.2,87.9L305.0,86.7L305.8,87.9L306.6,88.4L307.4,87.9L308.2,88.5L309.0,88.2L309.8,88.7L310.6,89.3L311.4,89.2L312.2,89.7L313.0,91.0L313.8,90.8L314.6,91.0L315.4,92.0L316.2,91.7L317.0,92.7L317.8,92.4L318.6,92.9L319.4,92.1L320.2,93.2L321.0,93.7L321.8,92.9L322.6,94.6L323.4,93.7L324.2,94.5L325.0,94.3L325.8,95.0L326.6,95.3L327.4,94.6L328.2,96.2L329.0,95.5L329.8,95.9L330.6,96.2L331.4,96.0L332.2,96.0L333.0,96.8L333.8,96.8L334.6,96.5L335.4,97.4L336.2,96.9L337.0,96.6L337.8,97.2L338.6,97.0L339.4,97.4L340.2,98.5L341.0,98.1L341.8,99.1L342.6,99.0L343.4,98.0L344.2,99.7L345.0,99.8L345.8,98.6L346.6,100.1L347.4,99.5L348.2,99.8L349.0,100.7L349.8,99.7L350.6,100.4L351.4,101.2L352.2,101.0L353.0,100.8L353.8,101.8L354.6,101.7L355.4,101.5L356.2,100.9L357.0,101.9L357.8,101.8L358.6,101.5L359.4,101.4L360.2,102.3L361.0,101.8L361.8,102.5L362.6,103.0L363.4,102.8L364.2,102.7L365.0,103.3L365.8,103.2L366.6,103.9L367.4,103.7L368.2,104.6L369.0,104.7L369.8,104.5L370.6,103.8L371.4,103.8L372.2,105.2L373.0,105.2L373.8,105.0L374.6,104.8L375.4,104.8L376.2,105.6L377.0,105.6L377.8,105.7L378.6,106.0L379.4,106.3L380.2,105.6L381.0,105.8L381.8,107.1L382.6,107.2L383.4,107.3L384.2,106.1L385.0,106.2L385.8,106.7L386.6,107.1L387.4,107.6L388.2,106.9L389.0,107.8L389.8,107.2L390.6,107.3L391.4,108.4L392.2,108.4L393.0,108.7L393.8,108.4L394.6,108.7L395.4,108.4L396.2,108.8L397.0,109.6L397.8,109.9L398.6,108.8L399.4,109.0L400.2,110.3L401.0,110.1L401.8,110.5L402.6,109.8L403.4,110.3L404.2,110.1L405.0,111.2L405.8,110.6L406.6,111.2L407.4,111.9L408.2,111.0L409.0,111.5L409.8,112.0L410.6,112.4L411.4,111.7L412.2,111.8L413.0,111.4L413.8,112.8L414.6,111.7L415.4,111.8L416.2,112.7L417.0,112.7L417.8,113.2L418.6,112.7L419.4,113.6L420.2,112.6L421.0,112.9" fill="none" stroke="#000" stroke-width="2.8" stroke-linejoin="round"/>
<path d="M261.0,129.4L261.8,128.8L262.6,129.2L263.4,129.8L264.2,129.9L265.0,129.5L265.8,129.5L266.6,129.9L267.4,130.4L268.2,130.1L269.0,129.9L269.8,130.8L270.6,130.7L271.4,131.3L272.2,131.4L273.0,131.5L273.8,131.0L274.6,131.6L275.4,131.1L276.2,131.3L277.0,131.5" fill="none" stroke="#000080" stroke-width="4" stroke-linejoin="round"/>
<path d="M277.0,129.0L277.8,132.0L278.6,134.2L279.4,136.8L280.2,138.8L281.0,140.8L281.8,141.7L282.6,142.5L283.4,143.0L284.2,144.3L285.0,145.4L285.8,145.5L286.6,146.3L287.4,146.4L288.2,146.4L289.0,147.6L289.8,148.2L290.6,147.9L291.4,148.0L292.2,149.1L293.0,149.6" fill="none" stroke="#007f7f" stroke-width="4" stroke-linejoin="round"/>
<path d="M293.0,150.1L293.8,150.8L294.6,150.8L295.4,151.2L296.2,150.6L297.0,151.5L297.8,152.1L298.6,151.5L299.4,151.8L300.2,152.8L301.0,153.3L301.8,152.5L302.6,153.4L303.4,153.1L304.2,154.1L305.0,154.2L305.8,153.9L306.6,154.1L307.4,155.0L308.2,155.0L309.0,155.5L309.8,155.3L310.6,155.5L311.4,156.5L312.2,156.4L313.0,156.4L313.8,156.7L314.6,157.1L315.4,157.4L316.2,157.9L317.0,157.5L317.8,158.2L318.6,158.3L319.4,158.7L320.2,158.9L321.0,159.2L321.8,159.5L322.6,159.8L323.4,159.7L324.2,159.8L325.0,160.3" fill="none" stroke="#007800" stroke-width="4" stroke-linejoin="round"/>
<path d="M325.0,161.4L325.8,161.0L326.6,161.1L327.4,160.8L328.2,161.6L329.0,162.0L329.8,161.3L330.6,161.2L331.4,161.3L332.2,161.6L333.0,161.6L333.8,162.4L334.6,161.4L335.4,161.8L336.2,161.7L337.0,162.4L337.8,162.6L338.6,162.0L339.4,161.9L340.2,162.5L341.0,162.7L341.8,163.1L342.6,162.1L343.4,162.2L344.2,162.4L345.0,162.5L345.8,162.5L346.6,163.1L347.4,163.0L348.2,162.7L349.0,162.7L349.8,162.8L350.6,162.7L351.4,163.5L352.2,163.0L353.0,163.3L353.8,163.7L354.6,163.3L355.4,163.1L356.2,163.9L357.0,164.0" fill="none" stroke="#c4c4c4" stroke-width="4" stroke-linejoin="round"/>
<path d="M357.0,162.1L357.8,162.4L358.6,162.9L359.4,162.4L360.2,162.1L361.0,161.9L361.8,163.0L362.6,162.9L363.4,162.4L364.2,162.6L365.0,162.6L365.8,162.4L366.6,163.2L367.4,162.9L368.2,162.4L369.0,162.2L369.8,162.7L370.6,162.7L371.4,163.2L372.2,163.1L373.0,163.0L373.8,162.5L374.6,162.5L375.4,162.8L376.2,162.7L377.0,163.5L377.8,163.1L378.6,163.3L379.4,163.7L380.2,162.9L381.0,163.2L381.8,162.8L382.6,163.6L383.4,162.7L384.2,163.7L385.0,163.8L385.8,163.8L386.6,162.9L387.4,163.2L388.2,163.7L389.0,163.0" fill="none" stroke="#7f7f7f" stroke-width="4" stroke-linejoin="round"/>
<path d="M389.0,163.2L389.8,163.2L390.6,163.8L391.4,163.4L392.2,163.8L393.0,163.1L393.8,163.8L394.6,163.3L395.4,164.0L396.2,163.0L397.0,163.9L397.8,163.2L398.6,163.7L399.4,163.7L400.2,163.3L401.0,164.1L401.8,163.5L402.6,163.6L403.4,163.3L404.2,163.6L405.0,163.9L405.8,164.2L406.6,163.8L407.4,164.2L408.2,163.6L409.0,163.9L409.8,164.1L410.6,164.7L411.4,164.6L412.2,164.4L413.0,163.7L413.8,164.1L414.6,164.6L415.4,164.0L416.2,164.5L417.0,164.4L417.8,163.9L418.6,165.1L419.4,164.9L420.2,164.2L421.0,164.7" fill="none" stroke="#000000" stroke-width="4" stroke-linejoin="round"/>
<g stroke="#000" fill="none">
<rect x="260.5" y="14.9" width="160.3" height="52.7" stroke-width="1.3"/>
<line x1="261.0" y1="67.6" x2="261.0" y2="63.599999999999994" stroke-width="1"/>
<line x1="261.0" y1="14.9" x2="261.0" y2="18.9" stroke-width="1"/>
<line x1="269.0" y1="67.6" x2="269.0" y2="65.39999999999999" stroke-width="1"/>
<line x1="269.0" y1="14.9" x2="269.0" y2="17.1" stroke-width="1"/>
<line x1="276.9" y1="67.6" x2="276.9" y2="65.39999999999999" stroke-width="1"/>
<line x1="276.9" y1="14.9" x2="276.9" y2="17.1" stroke-width="1"/>
<line x1="284.9" y1="67.6" x2="284.9" y2="65.39999999999999" stroke-width="1"/>
<line x1="284.9" y1="14.9" x2="284.9" y2="17.1" stroke-width="1"/>
<line x1="292.8" y1="67.6" x2="292.8" y2="63.599999999999994" stroke-width="1"/>
<line x1="292.8" y1="14.9" x2="292.8" y2="18.9" stroke-width="1"/>
<line x1="300.8" y1="67.6" x2="300.8" y2="65.39999999999999" stroke-width="1"/>
<line x1="300.8" y1="14.9" x2="300.8" y2="17.1" stroke-width="1"/>
<line x1="308.8" y1="67.6" x2="308.8" y2="65.39999999999999" stroke-width="1"/>
<line x1="308.8" y1="14.9" x2="308.8" y2="17.1" stroke-width="1"/>
<line x1="316.7" y1="67.6" x2="316.7" y2="65.39999999999999" stroke-width="1"/>
<line x1="316.7" y1="14.9" x2="316.7" y2="17.1" stroke-width="1"/>
<line x1="324.7" y1="67.6" x2="324.7" y2="63.599999999999994" stroke-width="1"/>
<line x1="324.7" y1="14.9" x2="324.7" y2="18.9" stroke-width="1"/>
<line x1="332.6" y1="67.6" x2="332.6" y2="65.39999999999999" stroke-width="1"/>
<line x1="332.6" y1="14.9" x2="332.6" y2="17.1" stroke-width="1"/>
<line x1="340.6" y1="67.6" x2="340.6" y2="65.39999999999999" stroke-width="1"/>
<line x1="340.6" y1="14.9" x2="340.6" y2="17.1" stroke-width="1"/>
<line x1="348.6" y1="67.6" x2="348.6" y2="65.39999999999999" stroke-width="1"/>
<line x1="348.6" y1="14.9" x2="348.6" y2="17.1" stroke-width="1"/>
<line x1="356.5" y1="67.6" x2="356.5" y2="63.599999999999994" stroke-width="1"/>
<line x1="356.5" y1="14.9" x2="356.5" y2="18.9" stroke-width="1"/>
<line x1="364.5" y1="67.6" x2="364.5" y2="65.39999999999999" stroke-width="1"/>
<line x1="364.5" y1="14.9" x2="364.5" y2="17.1" stroke-width="1"/>
<line x1="372.4" y1="67.6" x2="372.4" y2="65.39999999999999" stroke-width="1"/>
<line x1="372.4" y1="14.9" x2="372.4" y2="17.1" stroke-width="1"/>
<line x1="380.4" y1="67.6" x2="380.4" y2="65.39999999999999" stroke-width="1"/>
<line x1="380.4" y1="14.9" x2="380.4" y2="17.1" stroke-width="1"/>
<line x1="388.4" y1="67.6" x2="388.4" y2="63.599999999999994" stroke-width="1"/>
<line x1="388.4" y1="14.9" x2="388.4" y2="18.9" stroke-width="1"/>
<line x1="396.3" y1="67.6" x2="396.3" y2="65.39999999999999" stroke-width="1"/>
<line x1="396.3" y1="14.9" x2="396.3" y2="17.1" stroke-width="1"/>
<line x1="404.3" y1="67.6" x2="404.3" y2="65.39999999999999" stroke-width="1"/>
<line x1="404.3" y1="14.9" x2="404.3" y2="17.1" stroke-width="1"/>
<line x1="412.2" y1="67.6" x2="412.2" y2="65.39999999999999" stroke-width="1"/>
<line x1="412.2" y1="14.9" x2="412.2" y2="17.1" stroke-width="1"/>
<line x1="420.2" y1="67.6" x2="420.2" y2="63.599999999999994" stroke-width="1"/>
<line x1="420.2" y1="14.9" x2="420.2" y2="18.9" stroke-width="1"/>
<line x1="260.5" y1="59.3" x2="262.7" y2="59.3" stroke-width="1"/>
<line x1="420.8" y1="59.3" x2="418.6" y2="59.3" stroke-width="1"/>
<line x1="260.5" y1="51.1" x2="264.5" y2="51.1" stroke-width="1"/>
<line x1="420.8" y1="51.1" x2="416.8" y2="51.1" stroke-width="1"/>
<line x1="260.5" y1="42.8" x2="262.7" y2="42.8" stroke-width="1"/>
<line x1="420.8" y1="42.8" x2="418.6" y2="42.8" stroke-width="1"/>
<line x1="260.5" y1="34.6" x2="264.5" y2="34.6" stroke-width="1"/>
<line x1="420.8" y1="34.6" x2="416.8" y2="34.6" stroke-width="1"/>
<line x1="260.5" y1="26.3" x2="262.7" y2="26.3" stroke-width="1"/>
<line x1="420.8" y1="26.3" x2="418.6" y2="26.3" stroke-width="1"/>
<line x1="260.5" y1="18.1" x2="264.5" y2="18.1" stroke-width="1"/>
<line x1="420.8" y1="18.1" x2="416.8" y2="18.1" stroke-width="1"/>
<rect x="260.5" y="72.4" width="160.3" height="45.5" stroke-width="1.3"/>
<line x1="261.0" y1="117.9" x2="261.0" y2="113.9" stroke-width="1"/>
<line x1="261.0" y1="72.4" x2="261.0" y2="76.4" stroke-width="1"/>
<line x1="269.0" y1="117.9" x2="269.0" y2="115.7" stroke-width="1"/>
<line x1="269.0" y1="72.4" x2="269.0" y2="74.60000000000001" stroke-width="1"/>
<line x1="276.9" y1="117.9" x2="276.9" y2="115.7" stroke-width="1"/>
<line x1="276.9" y1="72.4" x2="276.9" y2="74.60000000000001" stroke-width="1"/>
<line x1="284.9" y1="117.9" x2="284.9" y2="115.7" stroke-width="1"/>
<line x1="284.9" y1="72.4" x2="284.9" y2="74.60000000000001" stroke-width="1"/>
<line x1="292.8" y1="117.9" x2="292.8" y2="113.9" stroke-width="1"/>
<line x1="292.8" y1="72.4" x2="292.8" y2="76.4" stroke-width="1"/>
<line x1="300.8" y1="117.9" x2="300.8" y2="115.7" stroke-width="1"/>
<line x1="300.8" y1="72.4" x2="300.8" y2="74.60000000000001" stroke-width="1"/>
<line x1="308.8" y1="117.9" x2="308.8" y2="115.7" stroke-width="1"/>
<line x1="308.8" y1="72.4" x2="308.8" y2="74.60000000000001" stroke-width="1"/>
<line x1="316.7" y1="117.9" x2="316.7" y2="115.7" stroke-width="1"/>
<line x1="316.7" y1="72.4" x2="316.7" y2="74.60000000000001" stroke-width="1"/>
<line x1="324.7" y1="117.9" x2="324.7" y2="113.9" stroke-width="1"/>
<line x1="324.7" y1="72.4" x2="324.7" y2="76.4" stroke-width="1"/>
<line x1="332.6" y1="117.9" x2="332.6" y2="115.7" stroke-width="1"/>
<line x1="332.6" y1="72.4" x2="332.6" y2="74.60000000000001" stroke-width="1"/>
<line x1="340.6" y1="117.9" x2="340.6" y2="115.7" stroke-width="1"/>
<line x1="340.6" y1="72.4" x2="340.6" y2="74.60000000000001" stroke-width="1"/>
<line x1="348.6" y1="117.9" x2="348.6" y2="115.7" stroke-width="1"/>
<line x1="348.6" y1="72.4" x2="348.6" y2="74.60000000000001" stroke-width="1"/>
<line x1="356.5" y1="117.9" x2="356.5" y2="113.9" stroke-width="1"/>
<line x1="356.5" y1="72.4" x2="356.5" y2="76.4" stroke-width="1"/>
<line x1="364.5" y1="117.9" x2="364.5" y2="115.7" stroke-width="1"/>
<line x1="364.5" y1="72.4" x2="364.5" y2="74.60000000000001" stroke-width="1"/>
<line x1="372.4" y1="117.9" x2="372.4" y2="115.7" stroke-width="1"/>
<line x1="372.4" y1="72.4" x2="372.4" y2="74.60000000000001" stroke-width="1"/>
<line x1="380.4" y1="117.9" x2="380.4" y2="115.7" stroke-width="1"/>
<line x1="380.4" y1="72.4" x2="380.4" y2="74.60000000000001" stroke-width="1"/>
<line x1="388.4" y1="117.9" x2="388.4" y2="113.9" stroke-width="1"/>
<line x1="388.4" y1="72.4" x2="388.4" y2="76.4" stroke-width="1"/>
<line x1="396.3" y1="117.9" x2="396.3" y2="115.7" stroke-width="1"/>
<line x1="396.3" y1="72.4" x2="396.3" y2="74.60000000000001" stroke-width="1"/>
<line x1="404.3" y1="117.9" x2="404.3" y2="115.7" stroke-width="1"/>
<line x1="404.3" y1="72.4" x2="404.3" y2="74.60000000000001" stroke-width="1"/>
<line x1="412.2" y1="117.9" x2="412.2" y2="115.7" stroke-width="1"/>
<line x1="412.2" y1="72.4" x2="412.2" y2="74.60000000000001" stroke-width="1"/>
<line x1="420.2" y1="117.9" x2="420.2" y2="113.9" stroke-width="1"/>
<line x1="420.2" y1="72.4" x2="420.2" y2="76.4" stroke-width="1"/>
<line x1="260.5" y1="111.2" x2="264.5" y2="111.2" stroke-width="1"/>
<line x1="420.8" y1="111.2" x2="416.8" y2="111.2" stroke-width="1"/>
<line x1="260.5" y1="103.7" x2="262.7" y2="103.7" stroke-width="1"/>
<line x1="420.8" y1="103.7" x2="418.6" y2="103.7" stroke-width="1"/>
<line x1="260.5" y1="96.2" x2="264.5" y2="96.2" stroke-width="1"/>
<line x1="420.8" y1="96.2" x2="416.8" y2="96.2" stroke-width="1"/>
<line x1="260.5" y1="88.6" x2="262.7" y2="88.6" stroke-width="1"/>
<line x1="420.8" y1="88.6" x2="418.6" y2="88.6" stroke-width="1"/>
<line x1="260.5" y1="81.1" x2="264.5" y2="81.1" stroke-width="1"/>
<line x1="420.8" y1="81.1" x2="416.8" y2="81.1" stroke-width="1"/>
<line x1="260.5" y1="73.6" x2="262.7" y2="73.6" stroke-width="1"/>
<line x1="420.8" y1="73.6" x2="418.6" y2="73.6" stroke-width="1"/>
<rect x="260.5" y="124.2" width="160.3" height="54.1" stroke-width="1.3"/>
<line x1="261.0" y1="178.3" x2="261.0" y2="174.3" stroke-width="1"/>
<line x1="261.0" y1="124.2" x2="261.0" y2="128.2" stroke-width="1"/>
<line x1="269.0" y1="178.3" x2="269.0" y2="176.10000000000002" stroke-width="1"/>
<line x1="269.0" y1="124.2" x2="269.0" y2="126.4" stroke-width="1"/>
<line x1="276.9" y1="178.3" x2="276.9" y2="176.10000000000002" stroke-width="1"/>
<line x1="276.9" y1="124.2" x2="276.9" y2="126.4" stroke-width="1"/>
<line x1="284.9" y1="178.3" x2="284.9" y2="176.10000000000002" stroke-width="1"/>
<line x1="284.9" y1="124.2" x2="284.9" y2="126.4" stroke-width="1"/>
<line x1="292.8" y1="178.3" x2="292.8" y2="174.3" stroke-width="1"/>
<line x1="292.8" y1="124.2" x2="292.8" y2="128.2" stroke-width="1"/>
<line x1="300.8" y1="178.3" x2="300.8" y2="176.10000000000002" stroke-width="1"/>
<line x1="300.8" y1="124.2" x2="300.8" y2="126.4" stroke-width="1"/>
<line x1="308.8" y1="178.3" x2="308.8" y2="176.10000000000002" stroke-width="1"/>
<line x1="308.8" y1="124.2" x2="308.8" y2="126.4" stroke-width="1"/>
<line x1="316.7" y1="178.3" x2="316.7" y2="176.10000000000002" stroke-width="1"/>
<line x1="316.7" y1="124.2" x2="316.7" y2="126.4" stroke-width="1"/>
<line x1="324.7" y1="178.3" x2="324.7" y2="174.3" stroke-width="1"/>
<line x1="324.7" y1="124.2" x2="324.7" y2="128.2" stroke-width="1"/>
<line x1="332.6" y1="178.3" x2="332.6" y2="176.10000000000002" stroke-width="1"/>
<line x1="332.6" y1="124.2" x2="332.6" y2="126.4" stroke-width="1"/>
<line x1="340.6" y1="178.3" x2="340.6" y2="176.10000000000002" stroke-width="1"/>
<line x1="340.6" y1="124.2" x2="340.6" y2="126.4" stroke-width="1"/>
<line x1="348.6" y1="178.3" x2="348.6" y2="176.10000000000002" stroke-width="1"/>
<line x1="348.6" y1="124.2" x2="348.6" y2="126.4" stroke-width="1"/>
<line x1="356.5" y1="178.3" x2="356.5" y2="174.3" stroke-width="1"/>
<line x1="356.5" y1="124.2" x2="356.5" y2="128.2" stroke-width="1"/>
<line x1="364.5" y1="178.3" x2="364.5" y2="176.10000000000002" stroke-width="1"/>
<line x1="364.5" y1="124.2" x2="364.5" y2="126.4" stroke-width="1"/>
<line x1="372.4" y1="178.3" x2="372.4" y2="176.10000000000002" stroke-width="1"/>
<line x1="372.4" y1="124.2" x2="372.4" y2="126.4" stroke-width="1"/>
<line x1="380.4" y1="178.3" x2="380.4" y2="176.10000000000002" stroke-width="1"/>
<line x1="380.4" y1="124.2" x2="380.4" y2="126.4" stroke-width="1"/>
<line x1="388.4" y1="178.3" x2="388.4" y2="174.3" stroke-width="1"/>
<line x1="388.4" y1="124.2" x2="388.4" y2="128.2" stroke-width="1"/>
<line x1="396.3" y1="178.3" x2="396.3" y2="176.10000000000002" stroke-width="1"/>
<line x1="396.3" y1="124.2" x2="396.3" y2="126.4" stroke-width="1"/>
<line x1="404.3" y1="178.3" x2="404.3" y2="176.10000000000002" stroke-width="1"/>
<line x1="404.3" y1="124.2" x2="404.3" y2="126.4" stroke-width="1"/>
<line x1="412.2" y1="178.3" x2="412.2" y2="176.10000000000002" stroke-width="1"/>
<line x1="412.2" y1="124.2" x2="412.2" y2="126.4" stroke-width="1"/>
<line x1="420.2" y1="178.3" x2="420.2" y2="174.3" stroke-width="1"/>
<line x1="420.2" y1="124.2" x2="420.2" y2="128.2" stroke-width="1"/>
<line x1="260.5" y1="174.8" x2="262.7" y2="174.8" stroke-width="1"/>
<line x1="420.8" y1="174.8" x2="418.6" y2="174.8" stroke-width="1"/>
<line x1="260.5" y1="168.4" x2="264.5" y2="168.4" stroke-width="1"/>
<line x1="420.8" y1="168.4" x2="416.8" y2="168.4" stroke-width="1"/>
<line x1="260.5" y1="162.0" x2="262.7" y2="162.0" stroke-width="1"/>
<line x1="420.8" y1="162.0" x2="418.6" y2="162.0" stroke-width="1"/>
<line x1="260.5" y1="155.6" x2="262.7" y2="155.6" stroke-width="1"/>
<line x1="420.8" y1="155.6" x2="418.6" y2="155.6" stroke-width="1"/>
<line x1="260.5" y1="149.1" x2="262.7" y2="149.1" stroke-width="1"/>
<line x1="420.8" y1="149.1" x2="418.6" y2="149.1" stroke-width="1"/>
<line x1="260.5" y1="142.7" x2="264.5" y2="142.7" stroke-width="1"/>
<line x1="420.8" y1="142.7" x2="416.8" y2="142.7" stroke-width="1"/>
<line x1="260.5" y1="136.3" x2="262.7" y2="136.3" stroke-width="1"/>
<line x1="420.8" y1="136.3" x2="418.6" y2="136.3" stroke-width="1"/>
<line x1="260.5" y1="129.9" x2="262.7" y2="129.9" stroke-width="1"/>
<line x1="420.8" y1="129.9" x2="418.6" y2="129.9" stroke-width="1"/>
</g>
<text x="255.6" y="22.9" font-size="11.2" stroke="#000" stroke-width="0.12" text-anchor="end" textLength="21" lengthAdjust="spacingAndGlyphs" >1500</text>
<text x="255.6" y="38.8" font-size="11.2" stroke="#000" stroke-width="0.12" text-anchor="end" textLength="21" lengthAdjust="spacingAndGlyphs" >1000</text>
<text x="255.6" y="54.7" font-size="11.2" stroke="#000" stroke-width="0.12" text-anchor="end" textLength="15.7" lengthAdjust="spacingAndGlyphs" >500</text>
<text x="255.6" y="71.5" font-size="11.2" stroke="#000" stroke-width="0.12" text-anchor="end" textLength="5.2" lengthAdjust="spacingAndGlyphs" >0</text>
<text x="255.6" y="85.2" font-size="11.2" stroke="#000" stroke-width="0.12" text-anchor="end" textLength="21" lengthAdjust="spacingAndGlyphs" >2000</text>
<text x="255.6" y="100.2" font-size="11.2" stroke="#000" stroke-width="0.12" text-anchor="end" textLength="21" lengthAdjust="spacingAndGlyphs" >1500</text>
<text x="255.6" y="114.9" font-size="11.2" stroke="#000" stroke-width="0.12" text-anchor="end" textLength="21" lengthAdjust="spacingAndGlyphs" >1000</text>
<text x="255.6" y="146.5" font-size="11.2" stroke="#000" stroke-width="0.12" text-anchor="end" textLength="13" lengthAdjust="spacingAndGlyphs" >0.4</text>
<text x="255.6" y="172.5" font-size="11.2" stroke="#000" stroke-width="0.12" text-anchor="end" textLength="13" lengthAdjust="spacingAndGlyphs" >0.2</text>
<text x="260.7" y="194" font-size="11" stroke="#000" stroke-width="0.12" text-anchor="middle" textLength="5.3" lengthAdjust="spacingAndGlyphs" >0</text>
<text x="292.8" y="194" font-size="11" stroke="#000" stroke-width="0.12" text-anchor="middle" textLength="16.3" lengthAdjust="spacingAndGlyphs" >200</text>
<text x="324.6" y="194" font-size="11" stroke="#000" stroke-width="0.12" text-anchor="middle" textLength="16.3" lengthAdjust="spacingAndGlyphs" >400</text>
<text x="356.8" y="194" font-size="11" stroke="#000" stroke-width="0.12" text-anchor="middle" textLength="16.3" lengthAdjust="spacingAndGlyphs" >600</text>
<text x="388.6" y="194" font-size="11" stroke="#000" stroke-width="0.12" text-anchor="middle" textLength="16.3" lengthAdjust="spacingAndGlyphs" >800</text>
<text x="315" y="213.4" font-size="16.5" stroke="#000" stroke-width="0.18" textLength="56.2" lengthAdjust="spacingAndGlyphs" >Time (s)</text>
<rect x="195" y="36.2" width="10.8" height="2.3" fill="#000"/>
<text transform="translate(226.6,37.6) rotate(-90)" font-size="15" stroke="#000" stroke-width="0.16" text-anchor="middle" textLength="51.5" lengthAdjust="spacingAndGlyphs" >(Counts)</text>
<rect x="196.2" y="109.8" width="10.3" height="2.3" fill="#000"/>
<text transform="translate(211.6,109.9) rotate(-90)" font-size="10" stroke="#000" stroke-width="0.11" textLength="25.6" lengthAdjust="spacingAndGlyphs" >total</text>
<text transform="translate(227,99.1) rotate(-90)" font-size="15" stroke="#000" stroke-width="0.16" text-anchor="middle" textLength="52.2" lengthAdjust="spacingAndGlyphs" >(counts)</text>
<text transform="translate(232.5,169.1) rotate(-90)" font-size="15.5" stroke="#000" stroke-width="0.17" textLength="8.2" lengthAdjust="spacingAndGlyphs" >E</text>
<text transform="translate(236.2,160.9) rotate(-90)" font-size="11" stroke="#000" stroke-width="0.12" textLength="21.5" lengthAdjust="spacingAndGlyphs" >FRET</text>
<text x="436.8" y="14.2" font-size="13" font-weight="bold" >c</text>
<line x1="564.5" y1="67.2" x2="636.1" y2="67.2" stroke="#bbb" stroke-width="0.6" stroke-dasharray="1,2"/>
<line x1="564.5" y1="49.1" x2="636.1" y2="49.1" stroke="#bbb" stroke-width="0.6" stroke-dasharray="1,2"/>
<line x1="582.4" y1="76.2" x2="582.4" y2="40.0" stroke="#bbb" stroke-width="0.6" stroke-dasharray="1,2"/>
<line x1="618.2" y1="76.2" x2="618.2" y2="40.0" stroke="#bbb" stroke-width="0.6" stroke-dasharray="1,2"/>
<line x1="564.5" y1="58.1" x2="636.1" y2="58.1" stroke="#c4c4c4" stroke-width="0.7"/>
<line x1="600.3" y1="76.2" x2="600.3" y2="40.0" stroke="#c4c4c4" stroke-width="0.7"/>
<line x1="507.1" y1="142.0" x2="507.1" y2="91.1" stroke="#c8c8c8" stroke-width="0.7"/>
<line x1="520.8" y1="126.3" x2="520.8" y2="78.9" stroke="#c8c8c8" stroke-width="0.7"/>
<line x1="532.7" y1="112.6" x2="532.7" y2="68.3" stroke="#c8c8c8" stroke-width="0.7"/>
<line x1="543.2" y1="100.6" x2="543.2" y2="58.9" stroke="#c8c8c8" stroke-width="0.7"/>
<line x1="552.5" y1="89.9" x2="552.5" y2="50.7" stroke="#c8c8c8" stroke-width="0.7"/>
<line x1="560.8" y1="80.4" x2="560.8" y2="43.3" stroke="#c8c8c8" stroke-width="0.7"/>
<line x1="498.2" y1="138.9" x2="564.5" y2="67.2" stroke="#bbb" stroke-width="0.6" stroke-dasharray="1,2"/>
<line x1="498.2" y1="112.3" x2="564.5" y2="49.1" stroke="#bbb" stroke-width="0.6" stroke-dasharray="1,2"/>
<line x1="498.2" y1="125.6" x2="564.5" y2="58.1" stroke="#c8c8c8" stroke-width="0.7"/>
<line x1="524.5" y1="152.2" x2="582.4" y2="76.2" stroke="#bbb" stroke-width="0.6" stroke-dasharray="1,2"/>
<line x1="577.2" y1="152.2" x2="618.2" y2="76.2" stroke="#bbb" stroke-width="0.6" stroke-dasharray="1,2"/>
<line x1="550.9" y1="152.2" x2="600.3" y2="76.2" stroke="#c8c8c8" stroke-width="0.7"/>
<line x1="507.1" y1="142.0" x2="608.0" y2="142.0" stroke="#c8c8c8" stroke-width="0.7"/>
<line x1="520.8" y1="126.3" x2="614.7" y2="126.3" stroke="#c8c8c8" stroke-width="0.7"/>
<line x1="532.7" y1="112.6" x2="620.6" y2="112.6" stroke="#c8c8c8" stroke-width="0.7"/>
<line x1="543.2" y1="100.6" x2="625.7" y2="100.6" stroke="#c8c8c8" stroke-width="0.7"/>
<line x1="552.5" y1="89.9" x2="630.3" y2="89.9" stroke="#c8c8c8" stroke-width="0.7"/>
<line x1="560.8" y1="80.4" x2="634.3" y2="80.4" stroke="#c8c8c8" stroke-width="0.7"/>
<line x1="514.2" y1="133.9" x2="611.4" y2="133.9" stroke="#bbb" stroke-width="0.6" stroke-dasharray="1,2"/>
<line x1="526.9" y1="119.2" x2="617.7" y2="119.2" stroke="#bbb" stroke-width="0.6" stroke-dasharray="1,2"/>
<line x1="538.1" y1="106.4" x2="623.2" y2="106.4" stroke="#bbb" stroke-width="0.6" stroke-dasharray="1,2"/>
<line x1="548.0" y1="95.1" x2="628.0" y2="95.1" stroke="#bbb" stroke-width="0.6" stroke-dasharray="1,2"/>
<line x1="556.7" y1="85.1" x2="632.4" y2="85.1" stroke="#bbb" stroke-width="0.6" stroke-dasharray="1,2"/>
<line x1="498.2" y1="99.0" x2="564.5" y2="40.0" stroke="#b0b0b0" stroke-width="0.8"/>
<line x1="564.5" y1="40.0" x2="636.1" y2="40.0" stroke="#b0b0b0" stroke-width="0.8"/>
<line x1="636.1" y1="76.2" x2="636.1" y2="40.0" stroke="#b0b0b0" stroke-width="0.8"/>
<line x1="564.5" y1="76.2" x2="564.5" y2="40.0" stroke="#b0b0b0" stroke-width="0.8"/>
<line x1="564.5" y1="76.2" x2="636.1" y2="76.2" stroke="#b0b0b0" stroke-width="0.8"/>
<polygon points="611.5,80.4 611.5,79.8 611.7,79.5 611.9,79.2 612.1,78.8 612.3,78.3 612.5,77.6 612.7,76.8 612.9,75.9 613.1,74.9 613.3,73.7 613.5,72.4 613.8,71.0 614.0,69.6 614.2,68.1 614.4,66.7 614.6,65.4 614.8,64.2 615.0,63.2 615.2,62.5 615.4,62.0 615.6,61.9 615.8,62.0 616.0,62.5 616.2,63.2 616.4,64.2 616.6,65.4 616.8,66.7 617.0,68.1 617.2,69.6 617.4,71.0 617.6,72.4 617.8,73.7 618.0,74.9 618.2,75.9 618.4,76.8 618.6,77.6 618.8,78.3 619.0,78.8 619.2,79.2 619.4,79.5 619.6,79.8 619.6,80.4" fill="#0000c0" stroke="#000" stroke-width="0.9" stroke-linejoin="round"/>
<polygon points="578.5,89.9 578.5,89.2 579.4,88.8 580.2,88.2 581.0,87.3 581.9,86.2 582.7,85.4 583.5,84.9 584.3,85.0 585.2,85.6 586.0,86.3 586.8,87.1 587.6,87.6 588.5,87.9 589.3,88.0 590.1,88.0 590.9,88.0 591.8,88.1 592.6,88.1 593.4,88.1 594.2,88.2 595.1,88.3 595.9,88.3 596.7,88.4 597.6,88.6 598.4,88.7 599.2,88.8 600.0,88.9 600.9,89.0 601.7,89.2 602.5,89.3 603.3,89.4 604.2,89.4 605.0,89.5 605.8,89.6 606.6,89.7 607.5,89.7 608.3,89.8 609.1,89.8 609.9,89.8 610.8,89.9 611.6,89.9 611.6,89.9" fill="#008080" stroke="#000" stroke-width="0.9" stroke-linejoin="round"/>
<polygon points="554.2,100.6 554.2,96.5 554.8,94.9 555.3,93.0 555.8,91.2 556.3,89.6 556.8,88.4 557.3,87.8 557.9,87.7 558.4,88.2 558.9,89.0 559.4,89.9 559.9,90.7 560.4,91.3 561.0,91.7 561.5,91.8 562.0,91.7 562.5,91.6 563.0,91.4 563.5,91.4 564.1,91.4 564.6,91.6 565.1,91.9 565.6,92.3 566.1,92.8 566.6,93.3 567.2,93.6 567.7,93.8 568.2,93.7 568.7,93.3 569.2,92.8 569.7,92.2 570.3,91.7 570.8,91.6 571.3,91.9 571.8,92.8 572.3,94.0 572.8,95.4 573.4,96.8 573.9,98.0 574.4,98.9 574.9,99.6 574.9,100.6" fill="#006400" stroke="#000" stroke-width="0.9" stroke-linejoin="round"/>
<polygon points="537.5,112.6 537.5,112.5 537.8,112.5 538.1,112.4 538.4,112.3 538.7,112.0 539.0,111.7 539.3,111.3 539.6,110.7 539.9,109.8 540.2,108.7 540.5,107.2 540.7,105.5 541.0,103.3 541.3,100.8 541.6,98.0 541.9,94.9 542.2,91.7 542.5,88.5 542.8,85.5 543.1,82.8 543.4,80.7 543.7,79.2 543.9,78.5 544.2,78.7 544.5,79.6 544.8,81.3 545.1,83.6 545.4,86.4 545.7,89.5 546.0,92.7 546.3,95.9 546.6,98.9 546.9,101.6 547.1,104.0 547.4,106.1 547.7,107.7 548.0,109.1 548.3,110.1 548.6,110.9 548.9,111.4 549.2,111.8 549.2,112.6" fill="#c8c8c8" stroke="#000" stroke-width="0.9" stroke-linejoin="round"/>
<polygon points="523.7,126.3 523.7,125.7 524.0,125.4 524.3,124.9 524.6,124.1 525.0,123.1 525.3,121.7 525.6,119.8 525.9,117.5 526.2,114.6 526.5,111.2 526.8,107.4 527.1,103.2 527.4,98.9 527.7,94.7 528.1,90.7 528.4,87.4 528.7,84.9 529.0,83.4 529.3,83.0 529.6,83.8 529.9,85.7 530.2,88.6 530.5,92.2 530.8,96.3 531.1,100.6 531.5,104.9 531.8,109.0 532.1,112.6 532.4,115.8 532.7,118.4 533.0,120.6 533.3,122.3 533.6,123.5 533.9,124.4 534.2,125.1 534.6,125.5 534.9,125.8 535.2,126.0 535.5,126.1 535.8,126.2 536.1,126.3 536.1,126.3" fill="#808080" stroke="#000" stroke-width="0.9" stroke-linejoin="round"/>
<polygon points="507.1,142.0 507.1,141.7 507.4,141.6 507.8,141.3 508.1,140.8 508.5,140.2 508.8,139.4 509.2,138.2 509.5,136.6 509.9,134.7 510.2,132.3 510.6,129.4 510.9,126.1 511.3,122.5 511.6,118.7 512.0,114.9 512.3,111.3 512.7,108.1 513.0,105.6 513.4,103.9 513.7,103.2 514.1,103.6 514.4,104.9 514.8,107.2 515.1,110.1 515.5,113.6 515.8,117.4 516.2,121.2 516.5,124.9 516.9,128.3 517.2,131.3 517.6,133.9 517.9,136.0 518.3,137.7 518.6,139.0 519.0,140.0 519.3,140.7 519.7,141.1 520.0,141.5 520.4,141.7 520.7,141.8 521.1,141.9 521.1,142.0" fill="#000000" stroke="#000" stroke-width="0.9" stroke-linejoin="round"/>
<g stroke="#000" stroke-width="1.2" fill="none">
<line x1="498.2" y1="98.5" x2="498.2" y2="152.2"/><line x1="497.6" y1="152.2" x2="604" y2="152.2"/>
<line x1="494.7" y1="152.2" x2="498.2" y2="152.2" stroke-width="1"/>
<line x1="496.2" y1="138.9" x2="498.2" y2="138.9" stroke-width="1"/>
<line x1="494.7" y1="125.6" x2="498.2" y2="125.6" stroke-width="1"/>
<line x1="496.2" y1="112.3" x2="498.2" y2="112.3" stroke-width="1"/>
<line x1="494.7" y1="99.0" x2="498.2" y2="99.0" stroke-width="1"/>
<line x1="498.2" y1="152.2" x2="498.2" y2="155.8" stroke-width="1"/>
<line x1="524.5" y1="152.2" x2="524.5" y2="155.8" stroke-width="1"/>
<line x1="550.9" y1="152.2" x2="550.9" y2="155.8" stroke-width="1"/>
<line x1="577.2" y1="152.2" x2="577.2" y2="155.8" stroke-width="1"/>
<line x1="603.6" y1="152.2" x2="603.6" y2="155.8" stroke-width="1"/>
<line x1="636.6" y1="76.3" x2="604.2" y2="151.5" stroke-width="1"/>
<line x1="640" y1="77.8" x2="607.4" y2="152.8" stroke-width="1"/>
</g>
<path d="M604.5,154.5 L604.3,149.2 L608.8,151.6 Z" fill="#000"/>
<text transform="translate(631.5,117.5) rotate(-66.6)" font-size="10.5" stroke="#000" stroke-width="0.12" textLength="19" lengthAdjust="spacingAndGlyphs" >Time</text>
<text x="495.1" y="102.6" font-size="10.5" stroke="#000" stroke-width="0.12" text-anchor="end" textLength="23.6" lengthAdjust="spacingAndGlyphs" >0.50</text>
<text x="495.1" y="129.1" font-size="10.5" stroke="#000" stroke-width="0.12" text-anchor="end" textLength="23.6" lengthAdjust="spacingAndGlyphs" >0.25</text>
<text x="495.1" y="155.8" font-size="10.5" stroke="#000" stroke-width="0.12" text-anchor="end" textLength="23.6" lengthAdjust="spacingAndGlyphs" >0.00</text>
<text x="499.1" y="167.3" font-size="10.5" stroke="#000" stroke-width="0.12" text-anchor="middle" textLength="15.5" lengthAdjust="spacingAndGlyphs" >0.2</text>
<text x="551.5" y="167.3" font-size="10.5" stroke="#000" stroke-width="0.12" text-anchor="middle" textLength="15.5" lengthAdjust="spacingAndGlyphs" >0.4</text>
<text x="603.8" y="167.3" font-size="10.5" stroke="#000" stroke-width="0.12" text-anchor="middle" textLength="15.5" lengthAdjust="spacingAndGlyphs" >0.6</text>
<text transform="translate(467.2,125) rotate(-90)" font-size="14.5" stroke="#000" stroke-width="0.16" text-anchor="middle" textLength="68.5" lengthAdjust="spacingAndGlyphs" >Probability</text>
<text x="534.4" y="188.8" font-size="16" stroke="#000" stroke-width="0.18" textLength="10.8" lengthAdjust="spacingAndGlyphs" >E</text>
<text x="545.5" y="190.6" font-size="10.5" stroke="#000" stroke-width="0.12" textLength="24.7" lengthAdjust="spacingAndGlyphs" >FRET</text>
<rect x="461.1" y="17.1" width="17.3" height="9" fill="#0000c0" stroke="#000" stroke-width="1"/>
<text x="481" y="24.8" font-size="8.2" textLength="27.6" lengthAdjust="spacingAndGlyphs" >0 - 90 s</text>
<rect x="461.1" y="27.1" width="17.3" height="9" fill="#008080" stroke="#000" stroke-width="1"/>
<text x="481" y="34.8" font-size="8.2" textLength="35" lengthAdjust="spacingAndGlyphs" >90 - 200 s</text>
<rect x="461.1" y="37.1" width="17.3" height="9" fill="#006400" stroke="#000" stroke-width="1"/>
<text x="481" y="44.8" font-size="8.2" textLength="38.5" lengthAdjust="spacingAndGlyphs" >200 - 400 s</text>
<rect x="461.1" y="47.1" width="17.3" height="9" fill="#d0d0d0" stroke="#000" stroke-width="1"/>
<text x="481" y="54.8" font-size="8.2" textLength="38.5" lengthAdjust="spacingAndGlyphs" >400 - 600 s</text>
<rect x="461.1" y="57.1" width="17.3" height="9" fill="#808080" stroke="#000" stroke-width="1"/>
<text x="481" y="64.8" font-size="8.2" textLength="38.5" lengthAdjust="spacingAndGlyphs" >600 - 800 s</text>
<rect x="461.1" y="67.1" width="17.3" height="9" fill="#000000" stroke="#000" stroke-width="1"/>
<text x="481" y="74.8" font-size="8.2" textLength="45.5" lengthAdjust="spacingAndGlyphs" >800 - 1000 s</text>
<text x="14.4" y="227.5" font-size="13.3" font-weight="bold" >d</text>
<rect x="42.4" y="226.0" width="159.8" height="122.2" fill="#1a0070"/>
<g shape-rendering="crispEdges"><rect x="42.4" y="229.2" width="1.7" height="1.7" fill="#0900a2"/><rect x="42.4" y="230.8" width="1.7" height="1.7" fill="#000aca"/><rect x="42.4" y="232.4" width="1.7" height="1.7" fill="#0900a2"/><rect x="42.4" y="234.0" width="1.7" height="4.9" fill="#000aca"/><rect x="42.4" y="238.9" width="1.7" height="1.7" fill="#003bf2"/><rect x="42.4" y="240.5" width="1.7" height="3.3" fill="#0088c0"/><rect x="42.4" y="243.7" width="1.7" height="1.7" fill="#36d81e"/><rect x="42.4" y="245.3" width="1.7" height="1.7" fill="#00bd6b"/><rect x="42.4" y="246.9" width="1.7" height="1.7" fill="#36d81e"/><rect x="42.4" y="248.5" width="1.7" height="1.7" fill="#c1ea07"/><rect x="42.4" y="250.1" width="1.7" height="1.7" fill="#f3c300"/><rect x="42.4" y="251.7" width="1.7" height="1.7" fill="#fe1800"/><rect x="42.4" y="253.3" width="1.7" height="1.7" fill="#c1ea07"/><rect x="42.4" y="254.9" width="1.7" height="1.7" fill="#f60e00"/><rect x="42.4" y="256.6" width="1.7" height="1.7" fill="#ee0400"/><rect x="42.4" y="258.2" width="1.7" height="1.7" fill="#f60e00"/><rect x="42.4" y="259.8" width="1.7" height="1.7" fill="#ee0400"/><rect x="42.4" y="261.4" width="1.7" height="4.9" fill="#fe1800"/><rect x="42.4" y="266.2" width="1.7" height="1.7" fill="#ff7c00"/><rect x="42.4" y="267.8" width="1.7" height="1.7" fill="#fe1800"/><rect x="42.4" y="269.4" width="1.7" height="1.7" fill="#ee0400"/><rect x="42.4" y="271.0" width="1.7" height="1.7" fill="#ff7c00"/><rect x="42.4" y="272.6" width="1.7" height="1.7" fill="#c1ea07"/><rect x="42.4" y="274.2" width="1.7" height="1.7" fill="#f3c300"/><rect x="42.4" y="275.8" width="1.7" height="1.7" fill="#36d81e"/><rect x="42.4" y="277.5" width="1.7" height="1.7" fill="#00bd6b"/><rect x="42.4" y="279.1" width="1.7" height="1.7" fill="#0088c0"/><rect x="42.4" y="280.7" width="1.7" height="1.7" fill="#00bd6b"/><rect x="42.4" y="282.3" width="1.7" height="3.3" fill="#003bf2"/><rect x="42.4" y="285.5" width="1.7" height="1.7" fill="#001be8"/><rect x="42.4" y="287.1" width="1.7" height="4.9" fill="#000aca"/><rect x="42.4" y="291.9" width="1.7" height="3.3" fill="#0900a2"/><rect x="44.0" y="229.2" width="1.7" height="4.9" fill="#0900a2"/><rect x="44.0" y="234.0" width="1.7" height="3.3" fill="#000aca"/><rect x="44.0" y="237.3" width="1.7" height="3.3" fill="#001be8"/><rect x="44.0" y="240.5" width="1.7" height="3.3" fill="#003bf2"/><rect x="44.0" y="243.7" width="1.7" height="1.7" fill="#0088c0"/><rect x="44.0" y="245.3" width="1.7" height="3.3" fill="#00bd6b"/><rect x="44.0" y="248.5" width="1.7" height="1.7" fill="#0088c0"/><rect x="44.0" y="250.1" width="1.7" height="1.7" fill="#003bf2"/><rect x="44.0" y="251.7" width="1.7" height="1.7" fill="#c1ea07"/><rect x="44.0" y="253.3" width="1.7" height="1.7" fill="#f3c300"/><rect x="44.0" y="254.9" width="1.7" height="1.7" fill="#fe1800"/><rect x="44.0" y="256.6" width="1.7" height="3.3" fill="#f3c300"/><rect x="44.0" y="259.8" width="1.7" height="1.7" fill="#fe1800"/><rect x="44.0" y="261.4" width="1.7" height="3.3" fill="#c1ea07"/><rect x="44.0" y="264.6" width="1.7" height="1.7" fill="#f3c300"/><rect x="44.0" y="266.2" width="1.7" height="1.7" fill="#fe1800"/><rect x="44.0" y="267.8" width="1.7" height="1.7" fill="#ee0400"/><rect x="44.0" y="269.4" width="1.7" height="3.3" fill="#fe1800"/><rect x="44.0" y="272.6" width="1.7" height="1.7" fill="#f3c300"/><rect x="44.0" y="274.2" width="1.7" height="1.7" fill="#c1ea07"/><rect x="44.0" y="275.8" width="1.7" height="1.7" fill="#36d81e"/><rect x="44.0" y="277.5" width="1.7" height="1.7" fill="#00bd6b"/><rect x="44.0" y="279.1" width="1.7" height="8.1" fill="#003bf2"/><rect x="44.0" y="287.1" width="1.7" height="3.3" fill="#001be8"/><rect x="44.0" y="290.3" width="1.7" height="4.9" fill="#000aca"/><rect x="45.6" y="235.6" width="1.7" height="3.3" fill="#0900a2"/><rect x="45.6" y="238.9" width="1.7" height="3.3" fill="#000aca"/><rect x="45.6" y="242.1" width="1.7" height="3.3" fill="#001be8"/><rect x="45.6" y="245.3" width="1.7" height="1.7" fill="#0088c0"/><rect x="45.6" y="246.9" width="1.7" height="1.7" fill="#003bf2"/><rect x="45.6" y="248.5" width="1.7" height="1.7" fill="#0088c0"/><rect x="45.6" y="250.1" width="1.7" height="1.7" fill="#003bf2"/><rect x="45.6" y="251.7" width="1.7" height="1.7" fill="#f3c300"/><rect x="45.6" y="253.3" width="1.7" height="1.7" fill="#c1ea07"/><rect x="45.6" y="254.9" width="1.7" height="1.7" fill="#f3c300"/><rect x="45.6" y="256.6" width="1.7" height="1.7" fill="#ff7c00"/><rect x="45.6" y="258.2" width="1.7" height="1.7" fill="#f60e00"/><rect x="45.6" y="259.8" width="1.7" height="1.7" fill="#36d81e"/><rect x="45.6" y="261.4" width="1.7" height="1.7" fill="#c1ea07"/><rect x="45.6" y="263.0" width="1.7" height="1.7" fill="#fe1800"/><rect x="45.6" y="264.6" width="1.7" height="1.7" fill="#ff7c00"/><rect x="45.6" y="266.2" width="1.7" height="1.7" fill="#c1ea07"/><rect x="45.6" y="267.8" width="1.7" height="1.7" fill="#fe1800"/><rect x="45.6" y="269.4" width="1.7" height="1.7" fill="#f60e00"/><rect x="45.6" y="271.0" width="1.7" height="3.3" fill="#36d81e"/><rect x="45.6" y="274.2" width="1.7" height="1.7" fill="#0088c0"/><rect x="45.6" y="275.8" width="1.7" height="1.7" fill="#00bd6b"/><rect x="45.6" y="277.5" width="1.7" height="1.7" fill="#0088c0"/><rect x="45.6" y="279.1" width="1.7" height="4.9" fill="#001be8"/><rect x="45.6" y="283.9" width="1.7" height="3.3" fill="#000aca"/><rect x="45.6" y="287.1" width="1.7" height="1.7" fill="#0900a2"/><rect x="47.2" y="232.4" width="1.7" height="1.7" fill="#0900a2"/><rect x="47.2" y="234.0" width="1.7" height="3.3" fill="#000aca"/><rect x="47.2" y="237.3" width="1.7" height="6.5" fill="#001be8"/><rect x="47.2" y="243.7" width="1.7" height="1.7" fill="#003bf2"/><rect x="47.2" y="245.3" width="1.7" height="1.7" fill="#0088c0"/><rect x="47.2" y="246.9" width="1.7" height="1.7" fill="#36d81e"/><rect x="47.2" y="248.5" width="1.7" height="1.7" fill="#c1ea07"/><rect x="47.2" y="250.1" width="1.7" height="1.7" fill="#f3c300"/><rect x="47.2" y="251.7" width="1.7" height="1.7" fill="#fe1800"/><rect x="47.2" y="253.3" width="1.7" height="1.7" fill="#ff7c00"/><rect x="47.2" y="254.9" width="1.7" height="1.7" fill="#ee0400"/><rect x="47.2" y="256.6" width="1.7" height="1.7" fill="#ff7c00"/><rect x="47.2" y="258.2" width="1.7" height="3.3" fill="#fe1800"/><rect x="47.2" y="261.4" width="1.7" height="1.7" fill="#ee0400"/><rect x="47.2" y="263.0" width="1.7" height="1.7" fill="#f60e00"/><rect x="47.2" y="264.6" width="1.7" height="1.7" fill="#fe1800"/><rect x="47.2" y="266.2" width="1.7" height="3.3" fill="#ee0400"/><rect x="47.2" y="269.4" width="1.7" height="1.7" fill="#f60e00"/><rect x="47.2" y="271.0" width="1.7" height="1.7" fill="#fe1800"/><rect x="47.2" y="272.6" width="1.7" height="1.7" fill="#ee0400"/><rect x="47.2" y="274.2" width="1.7" height="1.7" fill="#f60e00"/><rect x="47.2" y="275.8" width="1.7" height="1.7" fill="#fe1800"/><rect x="47.2" y="277.5" width="1.7" height="1.7" fill="#36d81e"/><rect x="47.2" y="279.1" width="1.7" height="1.7" fill="#c1ea07"/><rect x="47.2" y="280.7" width="1.7" height="1.7" fill="#36d81e"/><rect x="47.2" y="282.3" width="1.7" height="1.7" fill="#003bf2"/><rect x="47.2" y="283.9" width="1.7" height="1.7" fill="#0088c0"/><rect x="47.2" y="285.5" width="1.7" height="1.7" fill="#003bf2"/><rect x="47.2" y="287.1" width="1.7" height="3.3" fill="#001be8"/><rect x="47.2" y="290.3" width="1.7" height="3.3" fill="#000aca"/><rect x="47.2" y="293.5" width="1.7" height="3.3" fill="#0900a2"/><rect x="48.8" y="227.6" width="1.7" height="3.3" fill="#0900a2"/><rect x="48.8" y="230.8" width="1.7" height="4.9" fill="#000aca"/><rect x="48.8" y="235.6" width="1.7" height="1.7" fill="#001be8"/><rect x="48.8" y="237.3" width="1.7" height="3.3" fill="#003bf2"/><rect x="48.8" y="240.5" width="1.7" height="1.7" fill="#001be8"/><rect x="48.8" y="242.1" width="1.7" height="1.7" fill="#00bd6b"/><rect x="48.8" y="243.7" width="1.7" height="1.7" fill="#36d81e"/><rect x="48.8" y="245.3" width="1.7" height="1.7" fill="#00bd6b"/><rect x="48.8" y="246.9" width="1.7" height="1.7" fill="#36d81e"/><rect x="48.8" y="248.5" width="1.7" height="1.7" fill="#c1ea07"/><rect x="48.8" y="250.1" width="1.7" height="1.7" fill="#ff7c00"/><rect x="48.8" y="251.7" width="1.7" height="1.7" fill="#c1ea07"/><rect x="48.8" y="253.3" width="1.7" height="1.7" fill="#f3c300"/><rect x="48.8" y="254.9" width="1.7" height="1.7" fill="#ee0400"/><rect x="48.8" y="256.6" width="1.7" height="1.7" fill="#f60e00"/><rect x="48.8" y="258.2" width="1.7" height="1.7" fill="#ee0400"/><rect x="48.8" y="259.8" width="1.7" height="1.7" fill="#f3c300"/><rect x="48.8" y="261.4" width="1.7" height="3.3" fill="#f60e00"/><rect x="48.8" y="264.6" width="1.7" height="1.7" fill="#fe1800"/><rect x="48.8" y="266.2" width="1.7" height="1.7" fill="#36d81e"/><rect x="48.8" y="267.8" width="1.7" height="1.7" fill="#ee0400"/><rect x="48.8" y="269.4" width="1.7" height="1.7" fill="#fe1800"/><rect x="48.8" y="271.0" width="1.7" height="1.7" fill="#ee0400"/><rect x="48.8" y="272.6" width="1.7" height="1.7" fill="#fe1800"/><rect x="48.8" y="274.2" width="1.7" height="3.3" fill="#ff7c00"/><rect x="48.8" y="277.5" width="1.7" height="1.7" fill="#f3c300"/><rect x="48.8" y="279.1" width="1.7" height="3.3" fill="#00bd6b"/><rect x="48.8" y="282.3" width="1.7" height="1.7" fill="#0088c0"/><rect x="48.8" y="283.9" width="1.7" height="1.7" fill="#003bf2"/><rect x="48.8" y="285.5" width="1.7" height="3.3" fill="#001be8"/><rect x="48.8" y="288.7" width="1.7" height="4.9" fill="#000aca"/><rect x="48.8" y="293.5" width="1.7" height="1.7" fill="#0900a2"/><rect x="50.4" y="230.8" width="1.7" height="1.7" fill="#0900a2"/><rect x="50.4" y="232.4" width="1.7" height="4.9" fill="#000aca"/><rect x="50.4" y="237.3" width="1.7" height="1.7" fill="#001be8"/><rect x="50.4" y="238.9" width="1.7" height="3.3" fill="#003bf2"/><rect x="50.4" y="242.1" width="1.7" height="3.3" fill="#0088c0"/><rect x="50.4" y="245.3" width="1.7" height="1.7" fill="#36d81e"/><rect x="50.4" y="246.9" width="1.7" height="1.7" fill="#00bd6b"/><rect x="50.4" y="248.5" width="1.7" height="1.7" fill="#c1ea07"/><rect x="50.4" y="250.1" width="1.7" height="1.7" fill="#f3c300"/><rect x="50.4" y="251.7" width="1.7" height="1.7" fill="#fe1800"/><rect x="50.4" y="253.3" width="1.7" height="1.7" fill="#f3c300"/><rect x="50.4" y="254.9" width="1.7" height="1.7" fill="#fe1800"/><rect x="50.4" y="256.6" width="1.7" height="4.9" fill="#ff7c00"/><rect x="50.4" y="261.4" width="1.7" height="1.7" fill="#f60e00"/><rect x="50.4" y="263.0" width="1.7" height="1.7" fill="#ee0400"/><rect x="50.4" y="264.6" width="1.7" height="4.9" fill="#ff7c00"/><rect x="50.4" y="269.4" width="1.7" height="3.3" fill="#fe1800"/><rect x="50.4" y="272.6" width="1.7" height="1.7" fill="#36d81e"/><rect x="50.4" y="274.2" width="1.7" height="1.7" fill="#f3c300"/><rect x="50.4" y="275.8" width="1.7" height="1.7" fill="#36d81e"/><rect x="50.4" y="277.5" width="1.7" height="1.7" fill="#c1ea07"/><rect x="50.4" y="279.1" width="1.7" height="1.7" fill="#0088c0"/><rect x="50.4" y="280.7" width="1.7" height="4.9" fill="#003bf2"/><rect x="50.4" y="285.5" width="1.7" height="3.3" fill="#001be8"/><rect x="50.4" y="288.7" width="1.7" height="3.3" fill="#000aca"/><rect x="50.4" y="291.9" width="1.7" height="3.3" fill="#0900a2"/><rect x="52.0" y="234.0" width="1.7" height="3.3" fill="#0900a2"/><rect x="52.0" y="237.3" width="1.7" height="3.3" fill="#000aca"/><rect x="52.0" y="240.5" width="1.7" height="3.3" fill="#001be8"/><rect x="52.0" y="243.7" width="1.7" height="1.7" fill="#003bf2"/><rect x="52.0" y="245.3" width="1.7" height="1.7" fill="#0088c0"/><rect x="52.0" y="246.9" width="1.7" height="1.7" fill="#36d81e"/><rect x="52.0" y="248.5" width="1.7" height="1.7" fill="#c1ea07"/><rect x="52.0" y="250.1" width="1.7" height="1.7" fill="#36d81e"/><rect x="52.0" y="251.7" width="1.7" height="1.7" fill="#0088c0"/><rect x="52.0" y="253.3" width="1.7" height="1.7" fill="#fe1800"/><rect x="52.0" y="254.9" width="1.7" height="3.3" fill="#ff7c00"/><rect x="52.0" y="258.2" width="1.7" height="1.7" fill="#fe1800"/><rect x="52.0" y="259.8" width="1.7" height="1.7" fill="#f3c300"/><rect x="52.0" y="261.4" width="1.7" height="1.7" fill="#ee0400"/><rect x="52.0" y="263.0" width="1.7" height="1.7" fill="#f60e00"/><rect x="52.0" y="264.6" width="1.7" height="1.7" fill="#ee0400"/><rect x="52.0" y="266.2" width="1.7" height="1.7" fill="#fe1800"/><rect x="52.0" y="267.8" width="1.7" height="1.7" fill="#ff7c00"/><rect x="52.0" y="269.4" width="1.7" height="1.7" fill="#fe1800"/><rect x="52.0" y="271.0" width="1.7" height="1.7" fill="#f60e00"/><rect x="52.0" y="272.6" width="1.7" height="1.7" fill="#ff7c00"/><rect x="52.0" y="274.2" width="1.7" height="1.7" fill="#0088c0"/><rect x="52.0" y="275.8" width="1.7" height="3.3" fill="#36d81e"/><rect x="52.0" y="279.1" width="1.7" height="3.3" fill="#0088c0"/><rect x="52.0" y="282.3" width="1.7" height="1.7" fill="#003bf2"/><rect x="52.0" y="283.9" width="1.7" height="1.7" fill="#001be8"/><rect x="52.0" y="285.5" width="1.7" height="4.9" fill="#000aca"/><rect x="52.0" y="290.3" width="1.7" height="1.7" fill="#0900a2"/><rect x="53.6" y="232.4" width="1.7" height="1.7" fill="#0900a2"/><rect x="53.6" y="234.0" width="1.7" height="6.5" fill="#000aca"/><rect x="53.6" y="240.5" width="1.7" height="4.9" fill="#003bf2"/><rect x="53.6" y="245.3" width="1.7" height="1.7" fill="#00bd6b"/><rect x="53.6" y="246.9" width="1.7" height="1.7" fill="#0088c0"/><rect x="53.6" y="248.5" width="1.7" height="1.7" fill="#36d81e"/><rect x="53.6" y="250.1" width="1.7" height="3.3" fill="#00bd6b"/><rect x="53.6" y="253.3" width="1.7" height="1.7" fill="#fe1800"/><rect x="53.6" y="254.9" width="1.7" height="1.7" fill="#c1ea07"/><rect x="53.6" y="256.6" width="1.7" height="1.7" fill="#36d81e"/><rect x="53.6" y="258.2" width="1.7" height="1.7" fill="#fe1800"/><rect x="53.6" y="259.8" width="1.7" height="1.7" fill="#f3c300"/><rect x="53.6" y="261.4" width="1.7" height="1.7" fill="#f60e00"/><rect x="53.6" y="263.0" width="1.7" height="1.7" fill="#ee0400"/><rect x="53.6" y="264.6" width="1.7" height="1.7" fill="#f60e00"/><rect x="53.6" y="266.2" width="1.7" height="3.3" fill="#ee0400"/><rect x="53.6" y="269.4" width="1.7" height="1.7" fill="#f60e00"/><rect x="53.6" y="271.0" width="1.7" height="1.7" fill="#fe1800"/><rect x="53.6" y="272.6" width="1.7" height="1.7" fill="#ee0400"/><rect x="53.6" y="274.2" width="1.7" height="1.7" fill="#ff7c00"/><rect x="53.6" y="275.8" width="1.7" height="1.7" fill="#f3c300"/><rect x="53.6" y="277.5" width="1.7" height="1.7" fill="#c1ea07"/><rect x="53.6" y="279.1" width="1.7" height="3.3" fill="#00bd6b"/><rect x="53.6" y="282.3" width="1.7" height="3.3" fill="#0088c0"/><rect x="53.6" y="285.5" width="1.7" height="3.3" fill="#003bf2"/><rect x="53.6" y="288.7" width="1.7" height="4.9" fill="#000aca"/><rect x="53.6" y="293.5" width="1.7" height="3.3" fill="#0900a2"/><rect x="55.2" y="232.4" width="1.7" height="1.7" fill="#0900a2"/><rect x="55.2" y="234.0" width="1.7" height="3.3" fill="#000aca"/><rect x="55.2" y="237.3" width="1.7" height="4.9" fill="#001be8"/><rect x="55.2" y="242.1" width="1.7" height="3.3" fill="#003bf2"/><rect x="55.2" y="245.3" width="1.7" height="1.7" fill="#36d81e"/><rect x="55.2" y="246.9" width="1.7" height="1.7" fill="#c1ea07"/><rect x="55.2" y="248.5" width="1.7" height="1.7" fill="#36d81e"/><rect x="55.2" y="250.1" width="1.7" height="1.7" fill="#c1ea07"/><rect x="55.2" y="251.7" width="1.7" height="1.7" fill="#ff7c00"/><rect x="55.2" y="253.3" width="1.7" height="1.7" fill="#fe1800"/><rect x="55.2" y="254.9" width="1.7" height="1.7" fill="#ff7c00"/><rect x="55.2" y="256.6" width="1.7" height="1.7" fill="#36d81e"/><rect x="55.2" y="258.2" width="1.7" height="3.3" fill="#ee0400"/><rect x="55.2" y="261.4" width="1.7" height="1.7" fill="#fe1800"/><rect x="55.2" y="263.0" width="1.7" height="3.3" fill="#ee0400"/><rect x="55.2" y="266.2" width="1.7" height="1.7" fill="#ff7c00"/><rect x="55.2" y="267.8" width="1.7" height="1.7" fill="#f60e00"/><rect x="55.2" y="269.4" width="1.7" height="1.7" fill="#f3c300"/><rect x="55.2" y="271.0" width="1.7" height="1.7" fill="#f60e00"/><rect x="55.2" y="272.6" width="1.7" height="1.7" fill="#f3c300"/><rect x="55.2" y="274.2" width="1.7" height="1.7" fill="#c1ea07"/><rect x="55.2" y="275.8" width="1.7" height="1.7" fill="#36d81e"/><rect x="55.2" y="277.5" width="1.7" height="3.3" fill="#00bd6b"/><rect x="55.2" y="280.7" width="1.7" height="1.7" fill="#0088c0"/><rect x="55.2" y="282.3" width="1.7" height="1.7" fill="#003bf2"/><rect x="55.2" y="283.9" width="1.7" height="3.3" fill="#001be8"/><rect x="55.2" y="287.1" width="1.7" height="1.7" fill="#000aca"/><rect x="55.2" y="288.7" width="1.7" height="3.3" fill="#0900a2"/><rect x="56.8" y="235.6" width="1.7" height="1.7" fill="#0900a2"/><rect x="56.8" y="237.3" width="1.7" height="4.9" fill="#000aca"/><rect x="56.8" y="242.1" width="1.7" height="1.7" fill="#001be8"/><rect x="56.8" y="243.7" width="1.7" height="1.7" fill="#003bf2"/><rect x="56.8" y="245.3" width="1.7" height="3.3" fill="#0088c0"/><rect x="56.8" y="248.5" width="1.7" height="1.7" fill="#00bd6b"/><rect x="56.8" y="250.1" width="1.7" height="1.7" fill="#f3c300"/><rect x="56.8" y="251.7" width="1.7" height="1.7" fill="#00bd6b"/><rect x="56.8" y="253.3" width="1.7" height="1.7" fill="#36d81e"/><rect x="56.8" y="254.9" width="1.7" height="1.7" fill="#fe1800"/><rect x="56.8" y="256.6" width="1.7" height="1.7" fill="#ee0400"/><rect x="56.8" y="258.2" width="1.7" height="1.7" fill="#fe1800"/><rect x="56.8" y="259.8" width="1.7" height="1.7" fill="#ff7c00"/><rect x="56.8" y="261.4" width="1.7" height="1.7" fill="#ee0400"/><rect x="56.8" y="263.0" width="1.7" height="1.7" fill="#f60e00"/><rect x="56.8" y="264.6" width="1.7" height="1.7" fill="#ee0400"/><rect x="56.8" y="266.2" width="1.7" height="1.7" fill="#c1ea07"/><rect x="56.8" y="267.8" width="1.7" height="1.7" fill="#ff7c00"/><rect x="56.8" y="269.4" width="1.7" height="1.7" fill="#c1ea07"/><rect x="56.8" y="271.0" width="1.7" height="1.7" fill="#36d81e"/><rect x="56.8" y="272.6" width="1.7" height="1.7" fill="#f3c300"/><rect x="56.8" y="274.2" width="1.7" height="1.7" fill="#c1ea07"/><rect x="56.8" y="275.8" width="1.7" height="1.7" fill="#00bd6b"/><rect x="56.8" y="277.5" width="1.7" height="3.3" fill="#0088c0"/><rect x="56.8" y="280.7" width="1.7" height="1.7" fill="#003bf2"/><rect x="56.8" y="282.3" width="1.7" height="1.7" fill="#001be8"/><rect x="56.8" y="283.9" width="1.7" height="3.3" fill="#000aca"/><rect x="56.8" y="287.1" width="1.7" height="1.7" fill="#0900a2"/><rect x="58.4" y="234.0" width="1.7" height="1.7" fill="#0900a2"/><rect x="58.4" y="235.6" width="1.7" height="4.9" fill="#000aca"/><rect x="58.4" y="240.5" width="1.7" height="3.3" fill="#001be8"/><rect x="58.4" y="243.7" width="1.7" height="1.7" fill="#003bf2"/><rect x="58.4" y="245.3" width="1.7" height="1.7" fill="#36d81e"/><rect x="58.4" y="246.9" width="1.7" height="1.7" fill="#0088c0"/><rect x="58.4" y="248.5" width="1.7" height="1.7" fill="#c1ea07"/><rect x="58.4" y="250.1" width="1.7" height="1.7" fill="#f3c300"/><rect x="58.4" y="251.7" width="1.7" height="3.3" fill="#c1ea07"/><rect x="58.4" y="254.9" width="1.7" height="1.7" fill="#fe1800"/><rect x="58.4" y="256.6" width="1.7" height="1.7" fill="#f60e00"/><rect x="58.4" y="258.2" width="1.7" height="1.7" fill="#f3c300"/><rect x="58.4" y="259.8" width="1.7" height="3.3" fill="#ee0400"/><rect x="58.4" y="263.0" width="1.7" height="3.3" fill="#fe1800"/><rect x="58.4" y="266.2" width="1.7" height="1.7" fill="#ee0400"/><rect x="58.4" y="267.8" width="1.7" height="1.7" fill="#fe1800"/><rect x="58.4" y="269.4" width="1.7" height="1.7" fill="#c1ea07"/><rect x="58.4" y="271.0" width="1.7" height="3.3" fill="#f3c300"/><rect x="58.4" y="274.2" width="1.7" height="1.7" fill="#c1ea07"/><rect x="58.4" y="275.8" width="1.7" height="1.7" fill="#ff7c00"/><rect x="58.4" y="277.5" width="1.7" height="1.7" fill="#36d81e"/><rect x="58.4" y="279.1" width="1.7" height="1.7" fill="#00bd6b"/><rect x="58.4" y="280.7" width="1.7" height="3.3" fill="#0088c0"/><rect x="58.4" y="283.9" width="1.7" height="1.7" fill="#003bf2"/><rect x="58.4" y="285.5" width="1.7" height="1.7" fill="#001be8"/><rect x="58.4" y="287.1" width="1.7" height="3.3" fill="#000aca"/><rect x="58.4" y="291.9" width="1.7" height="1.7" fill="#0900a2"/><rect x="60.0" y="230.8" width="1.7" height="3.3" fill="#000aca"/><rect x="60.0" y="234.0" width="1.7" height="1.7" fill="#0900a2"/><rect x="60.0" y="235.6" width="1.7" height="3.3" fill="#001be8"/><rect x="60.0" y="238.9" width="1.7" height="1.7" fill="#000aca"/><rect x="60.0" y="240.5" width="1.7" height="6.5" fill="#0088c0"/><rect x="60.0" y="246.9" width="1.7" height="1.7" fill="#36d81e"/><rect x="60.0" y="248.5" width="1.7" height="1.7" fill="#00bd6b"/><rect x="60.0" y="250.1" width="1.7" height="4.9" fill="#c1ea07"/><rect x="60.0" y="254.9" width="1.7" height="1.7" fill="#fe1800"/><rect x="60.0" y="256.6" width="1.7" height="3.3" fill="#f60e00"/><rect x="60.0" y="259.8" width="1.7" height="1.7" fill="#fe1800"/><rect x="60.0" y="261.4" width="1.7" height="1.7" fill="#ee0400"/><rect x="60.0" y="263.0" width="1.7" height="1.7" fill="#f3c300"/><rect x="60.0" y="264.6" width="1.7" height="3.3" fill="#fe1800"/><rect x="60.0" y="267.8" width="1.7" height="1.7" fill="#ee0400"/><rect x="60.0" y="269.4" width="1.7" height="1.7" fill="#00bd6b"/><rect x="60.0" y="271.0" width="1.7" height="4.9" fill="#f3c300"/><rect x="60.0" y="275.8" width="1.7" height="1.7" fill="#fe1800"/><rect x="60.0" y="277.5" width="1.7" height="1.7" fill="#36d81e"/><rect x="60.0" y="279.1" width="1.7" height="4.9" fill="#00bd6b"/><rect x="60.0" y="283.9" width="1.7" height="3.3" fill="#003bf2"/><rect x="60.0" y="287.1" width="1.7" height="1.7" fill="#000aca"/><rect x="60.0" y="288.7" width="1.7" height="1.7" fill="#001be8"/><rect x="60.0" y="290.3" width="1.7" height="4.9" fill="#000aca"/><rect x="60.0" y="295.1" width="1.7" height="1.7" fill="#0900a2"/><rect x="61.6" y="229.2" width="1.7" height="1.7" fill="#0900a2"/><rect x="61.6" y="230.8" width="1.7" height="3.3" fill="#000aca"/><rect x="61.6" y="234.0" width="1.7" height="3.3" fill="#001be8"/><rect x="61.6" y="237.3" width="1.7" height="6.5" fill="#003bf2"/><rect x="61.6" y="243.7" width="1.7" height="1.7" fill="#c1ea07"/><rect x="61.6" y="245.3" width="1.7" height="1.7" fill="#36d81e"/><rect x="61.6" y="246.9" width="1.7" height="6.5" fill="#f3c300"/><rect x="61.6" y="253.3" width="1.7" height="1.7" fill="#ee0400"/><rect x="61.6" y="254.9" width="1.7" height="1.7" fill="#ff7c00"/><rect x="61.6" y="256.6" width="1.7" height="1.7" fill="#fe1800"/><rect x="61.6" y="258.2" width="1.7" height="1.7" fill="#f60e00"/><rect x="61.6" y="259.8" width="1.7" height="8.1" fill="#ee0400"/><rect x="61.6" y="267.8" width="1.7" height="1.7" fill="#f60e00"/><rect x="61.6" y="269.4" width="1.7" height="1.7" fill="#ee0400"/><rect x="61.6" y="271.0" width="1.7" height="1.7" fill="#fe1800"/><rect x="61.6" y="272.6" width="1.7" height="1.7" fill="#36d81e"/><rect x="61.6" y="274.2" width="1.7" height="1.7" fill="#f3c300"/><rect x="61.6" y="275.8" width="1.7" height="1.7" fill="#fe1800"/><rect x="61.6" y="277.5" width="1.7" height="3.3" fill="#00bd6b"/><rect x="61.6" y="280.7" width="1.7" height="1.7" fill="#0088c0"/><rect x="61.6" y="282.3" width="1.7" height="4.9" fill="#003bf2"/><rect x="61.6" y="287.1" width="1.7" height="6.5" fill="#000aca"/><rect x="61.6" y="293.5" width="1.7" height="1.7" fill="#0900a2"/><rect x="63.2" y="229.2" width="1.7" height="1.7" fill="#0900a2"/><rect x="63.2" y="230.8" width="1.7" height="6.5" fill="#000aca"/><rect x="63.2" y="237.3" width="1.7" height="3.3" fill="#001be8"/><rect x="63.2" y="240.5" width="1.7" height="4.9" fill="#0088c0"/><rect x="63.2" y="245.3" width="1.7" height="1.7" fill="#c1ea07"/><rect x="63.2" y="246.9" width="1.7" height="1.7" fill="#f3c300"/><rect x="63.2" y="248.5" width="1.7" height="3.3" fill="#c1ea07"/><rect x="63.2" y="251.7" width="1.7" height="1.7" fill="#36d81e"/><rect x="63.2" y="253.3" width="1.7" height="1.7" fill="#f3c300"/><rect x="63.2" y="254.9" width="1.7" height="3.3" fill="#f60e00"/><rect x="63.2" y="258.2" width="1.7" height="1.7" fill="#f3c300"/><rect x="63.2" y="259.8" width="1.7" height="1.7" fill="#f60e00"/><rect x="63.2" y="261.4" width="1.7" height="1.7" fill="#ee0400"/><rect x="63.2" y="263.0" width="1.7" height="3.3" fill="#ff7c00"/><rect x="63.2" y="266.2" width="1.7" height="1.7" fill="#f3c300"/><rect x="63.2" y="267.8" width="1.7" height="1.7" fill="#fe1800"/><rect x="63.2" y="269.4" width="1.7" height="1.7" fill="#36d81e"/><rect x="63.2" y="271.0" width="1.7" height="3.3" fill="#f3c300"/><rect x="63.2" y="274.2" width="1.7" height="3.3" fill="#36d81e"/><rect x="63.2" y="277.5" width="1.7" height="1.7" fill="#00bd6b"/><rect x="63.2" y="279.1" width="1.7" height="1.7" fill="#003bf2"/><rect x="63.2" y="280.7" width="1.7" height="4.9" fill="#001be8"/><rect x="63.2" y="285.5" width="1.7" height="3.3" fill="#000aca"/><rect x="63.2" y="288.7" width="1.7" height="3.3" fill="#0900a2"/><rect x="64.8" y="232.4" width="1.7" height="1.7" fill="#0900a2"/><rect x="64.8" y="234.0" width="1.7" height="4.9" fill="#000aca"/><rect x="64.8" y="238.9" width="1.7" height="1.7" fill="#001be8"/><rect x="64.8" y="240.5" width="1.7" height="1.7" fill="#003bf2"/><rect x="64.8" y="242.1" width="1.7" height="1.7" fill="#0088c0"/><rect x="64.8" y="243.7" width="1.7" height="3.3" fill="#003bf2"/><rect x="64.8" y="246.9" width="1.7" height="1.7" fill="#0088c0"/><rect x="64.8" y="248.5" width="1.7" height="1.7" fill="#00bd6b"/><rect x="64.8" y="250.1" width="1.7" height="1.7" fill="#ff7c00"/><rect x="64.8" y="251.7" width="1.7" height="1.7" fill="#c1ea07"/><rect x="64.8" y="253.3" width="1.7" height="1.7" fill="#f3c300"/><rect x="64.8" y="254.9" width="1.7" height="1.7" fill="#ee0400"/><rect x="64.8" y="256.6" width="1.7" height="1.7" fill="#f60e00"/><rect x="64.8" y="258.2" width="1.7" height="1.7" fill="#f3c300"/><rect x="64.8" y="259.8" width="1.7" height="1.7" fill="#f60e00"/><rect x="64.8" y="261.4" width="1.7" height="1.7" fill="#ee0400"/><rect x="64.8" y="263.0" width="1.7" height="3.3" fill="#ff7c00"/><rect x="64.8" y="266.2" width="1.7" height="3.3" fill="#fe1800"/><rect x="64.8" y="269.4" width="1.7" height="1.7" fill="#f3c300"/><rect x="64.8" y="271.0" width="1.7" height="1.7" fill="#36d81e"/><rect x="64.8" y="272.6" width="1.7" height="1.7" fill="#ff7c00"/><rect x="64.8" y="274.2" width="1.7" height="1.7" fill="#c1ea07"/><rect x="64.8" y="275.8" width="1.7" height="4.9" fill="#36d81e"/><rect x="64.8" y="280.7" width="1.7" height="1.7" fill="#0088c0"/><rect x="64.8" y="282.3" width="1.7" height="3.3" fill="#003bf2"/><rect x="64.8" y="285.5" width="1.7" height="3.3" fill="#001be8"/><rect x="64.8" y="288.7" width="1.7" height="1.7" fill="#000aca"/><rect x="64.8" y="290.3" width="1.7" height="3.3" fill="#0900a2"/><rect x="66.4" y="235.6" width="1.7" height="1.7" fill="#0900a2"/><rect x="66.4" y="237.3" width="1.7" height="4.9" fill="#000aca"/><rect x="66.4" y="242.1" width="1.7" height="1.7" fill="#001be8"/><rect x="66.4" y="243.7" width="1.7" height="3.3" fill="#003bf2"/><rect x="66.4" y="246.9" width="1.7" height="1.7" fill="#0088c0"/><rect x="66.4" y="248.5" width="1.7" height="1.7" fill="#00bd6b"/><rect x="66.4" y="250.1" width="1.7" height="1.7" fill="#36d81e"/><rect x="66.4" y="251.7" width="1.7" height="1.7" fill="#ff7c00"/><rect x="66.4" y="253.3" width="1.7" height="1.7" fill="#c1ea07"/><rect x="66.4" y="254.9" width="1.7" height="1.7" fill="#f3c300"/><rect x="66.4" y="256.6" width="1.7" height="1.7" fill="#f60e00"/><rect x="66.4" y="258.2" width="1.7" height="3.3" fill="#f3c300"/><rect x="66.4" y="261.4" width="1.7" height="3.3" fill="#ff7c00"/><rect x="66.4" y="264.6" width="1.7" height="3.3" fill="#fe1800"/><rect x="66.4" y="267.8" width="1.7" height="1.7" fill="#f3c300"/><rect x="66.4" y="269.4" width="1.7" height="1.7" fill="#c1ea07"/><rect x="66.4" y="271.0" width="1.7" height="1.7" fill="#f3c300"/><rect x="66.4" y="272.6" width="1.7" height="3.3" fill="#36d81e"/><rect x="66.4" y="275.8" width="1.7" height="1.7" fill="#c1ea07"/><rect x="66.4" y="277.5" width="1.7" height="1.7" fill="#00bd6b"/><rect x="66.4" y="279.1" width="1.7" height="1.7" fill="#0088c0"/><rect x="66.4" y="280.7" width="1.7" height="1.7" fill="#003bf2"/><rect x="66.4" y="282.3" width="1.7" height="4.9" fill="#001be8"/><rect x="66.4" y="287.1" width="1.7" height="4.9" fill="#000aca"/><rect x="68.0" y="232.4" width="1.7" height="3.3" fill="#0900a2"/><rect x="68.0" y="235.6" width="1.7" height="3.3" fill="#000aca"/><rect x="68.0" y="238.9" width="1.7" height="1.7" fill="#001be8"/><rect x="68.0" y="240.5" width="1.7" height="1.7" fill="#000aca"/><rect x="68.0" y="242.1" width="1.7" height="3.3" fill="#001be8"/><rect x="68.0" y="245.3" width="1.7" height="1.7" fill="#00bd6b"/><rect x="68.0" y="246.9" width="1.7" height="3.3" fill="#0088c0"/><rect x="68.0" y="250.1" width="1.7" height="1.7" fill="#c1ea07"/><rect x="68.0" y="251.7" width="1.7" height="3.3" fill="#00bd6b"/><rect x="68.0" y="254.9" width="1.7" height="1.7" fill="#f3c300"/><rect x="68.0" y="256.6" width="1.7" height="1.7" fill="#c1ea07"/><rect x="68.0" y="258.2" width="1.7" height="1.7" fill="#fe1800"/><rect x="68.0" y="259.8" width="1.7" height="1.7" fill="#f60e00"/><rect x="68.0" y="261.4" width="1.7" height="1.7" fill="#fe1800"/><rect x="68.0" y="263.0" width="1.7" height="1.7" fill="#ee0400"/><rect x="68.0" y="264.6" width="1.7" height="1.7" fill="#fe1800"/><rect x="68.0" y="266.2" width="1.7" height="1.7" fill="#ff7c00"/><rect x="68.0" y="267.8" width="1.7" height="1.7" fill="#c1ea07"/><rect x="68.0" y="269.4" width="1.7" height="3.3" fill="#ff7c00"/><rect x="68.0" y="272.6" width="1.7" height="1.7" fill="#fe1800"/><rect x="68.0" y="274.2" width="1.7" height="3.3" fill="#c1ea07"/><rect x="68.0" y="277.5" width="1.7" height="1.7" fill="#f3c300"/><rect x="68.0" y="279.1" width="1.7" height="1.7" fill="#c1ea07"/><rect x="68.0" y="280.7" width="1.7" height="1.7" fill="#36d81e"/><rect x="68.0" y="282.3" width="1.7" height="1.7" fill="#00bd6b"/><rect x="68.0" y="283.9" width="1.7" height="1.7" fill="#0088c0"/><rect x="68.0" y="285.5" width="1.7" height="3.3" fill="#003bf2"/><rect x="68.0" y="288.7" width="1.7" height="3.3" fill="#001be8"/><rect x="68.0" y="291.9" width="1.7" height="1.7" fill="#000aca"/><rect x="68.0" y="293.5" width="1.7" height="1.7" fill="#0900a2"/><rect x="68.0" y="295.1" width="1.7" height="1.7" fill="#000aca"/><rect x="68.0" y="296.7" width="1.7" height="1.7" fill="#0900a2"/><rect x="69.6" y="235.6" width="1.7" height="1.7" fill="#0900a2"/><rect x="69.6" y="237.3" width="1.7" height="3.3" fill="#000aca"/><rect x="69.6" y="240.5" width="1.7" height="3.3" fill="#001be8"/><rect x="69.6" y="243.7" width="1.7" height="3.3" fill="#003bf2"/><rect x="69.6" y="246.9" width="1.7" height="1.7" fill="#00bd6b"/><rect x="69.6" y="248.5" width="1.7" height="1.7" fill="#36d81e"/><rect x="69.6" y="250.1" width="1.7" height="1.7" fill="#c1ea07"/><rect x="69.6" y="251.7" width="1.7" height="3.3" fill="#f3c300"/><rect x="69.6" y="254.9" width="1.7" height="1.7" fill="#fe1800"/><rect x="69.6" y="256.6" width="1.7" height="6.5" fill="#f60e00"/><rect x="69.6" y="263.0" width="1.7" height="1.7" fill="#ee0400"/><rect x="69.6" y="264.6" width="1.7" height="1.7" fill="#f60e00"/><rect x="69.6" y="266.2" width="1.7" height="1.7" fill="#ff7c00"/><rect x="69.6" y="267.8" width="1.7" height="3.3" fill="#ee0400"/><rect x="69.6" y="271.0" width="1.7" height="1.7" fill="#ff7c00"/><rect x="69.6" y="272.6" width="1.7" height="1.7" fill="#f60e00"/><rect x="69.6" y="274.2" width="1.7" height="1.7" fill="#00bd6b"/><rect x="69.6" y="275.8" width="1.7" height="1.7" fill="#f3c300"/><rect x="69.6" y="277.5" width="1.7" height="1.7" fill="#c1ea07"/><rect x="69.6" y="279.1" width="1.7" height="1.7" fill="#00bd6b"/><rect x="69.6" y="280.7" width="1.7" height="3.3" fill="#0088c0"/><rect x="69.6" y="283.9" width="1.7" height="1.7" fill="#003bf2"/><rect x="69.6" y="285.5" width="1.7" height="4.9" fill="#000aca"/><rect x="69.6" y="290.3" width="1.7" height="1.7" fill="#0900a2"/><rect x="71.2" y="232.4" width="1.7" height="1.7" fill="#0900a2"/><rect x="71.2" y="235.6" width="1.7" height="3.3" fill="#000aca"/><rect x="71.2" y="238.9" width="1.7" height="1.7" fill="#001be8"/><rect x="71.2" y="240.5" width="1.7" height="1.7" fill="#000aca"/><rect x="71.2" y="242.1" width="1.7" height="1.7" fill="#003bf2"/><rect x="71.2" y="243.7" width="1.7" height="4.9" fill="#0088c0"/><rect x="71.2" y="248.5" width="1.7" height="1.7" fill="#36d81e"/><rect x="71.2" y="250.1" width="1.7" height="1.7" fill="#f3c300"/><rect x="71.2" y="251.7" width="1.7" height="1.7" fill="#00bd6b"/><rect x="71.2" y="253.3" width="1.7" height="1.7" fill="#f60e00"/><rect x="71.2" y="254.9" width="1.7" height="1.7" fill="#ff7c00"/><rect x="71.2" y="256.6" width="1.7" height="1.7" fill="#f60e00"/><rect x="71.2" y="258.2" width="1.7" height="1.7" fill="#ff7c00"/><rect x="71.2" y="259.8" width="1.7" height="4.9" fill="#fe1800"/><rect x="71.2" y="264.6" width="1.7" height="4.9" fill="#ee0400"/><rect x="71.2" y="269.4" width="1.7" height="1.7" fill="#f3c300"/><rect x="71.2" y="271.0" width="1.7" height="1.7" fill="#fe1800"/><rect x="71.2" y="272.6" width="1.7" height="1.7" fill="#f60e00"/><rect x="71.2" y="274.2" width="1.7" height="3.3" fill="#c1ea07"/><rect x="71.2" y="277.5" width="1.7" height="1.7" fill="#f3c300"/><rect x="71.2" y="279.1" width="1.7" height="4.9" fill="#0088c0"/><rect x="71.2" y="283.9" width="1.7" height="1.7" fill="#003bf2"/><rect x="71.2" y="285.5" width="1.7" height="3.3" fill="#001be8"/><rect x="71.2" y="288.7" width="1.7" height="1.7" fill="#000aca"/><rect x="71.2" y="290.3" width="1.7" height="3.3" fill="#0900a2"/><rect x="72.8" y="248.5" width="1.7" height="1.7" fill="#0900a2"/><rect x="72.8" y="250.1" width="1.7" height="4.9" fill="#000aca"/><rect x="72.8" y="254.9" width="1.7" height="3.3" fill="#003bf2"/><rect x="72.8" y="258.2" width="1.7" height="1.7" fill="#00bd6b"/><rect x="72.8" y="259.8" width="1.7" height="3.3" fill="#36d81e"/><rect x="72.8" y="263.0" width="1.7" height="1.7" fill="#f3c300"/><rect x="72.8" y="264.6" width="1.7" height="4.9" fill="#fe1800"/><rect x="72.8" y="269.4" width="1.7" height="1.7" fill="#f60e00"/><rect x="72.8" y="271.0" width="1.7" height="1.7" fill="#ff7c00"/><rect x="72.8" y="272.6" width="1.7" height="1.7" fill="#f3c300"/><rect x="72.8" y="274.2" width="1.7" height="1.7" fill="#fe1800"/><rect x="72.8" y="275.8" width="1.7" height="8.1" fill="#ee0400"/><rect x="72.8" y="283.9" width="1.7" height="1.7" fill="#ff7c00"/><rect x="72.8" y="285.5" width="1.7" height="1.7" fill="#c1ea07"/><rect x="72.8" y="287.1" width="1.7" height="1.7" fill="#36d81e"/><rect x="72.8" y="288.7" width="1.7" height="1.7" fill="#ff7c00"/><rect x="72.8" y="290.3" width="1.7" height="1.7" fill="#36d81e"/><rect x="72.8" y="291.9" width="1.7" height="1.7" fill="#00bd6b"/><rect x="72.8" y="293.5" width="1.7" height="1.7" fill="#36d81e"/><rect x="72.8" y="295.1" width="1.7" height="1.7" fill="#00bd6b"/><rect x="72.8" y="296.7" width="1.7" height="4.9" fill="#001be8"/><rect x="72.8" y="301.6" width="1.7" height="1.7" fill="#000aca"/><rect x="72.8" y="303.2" width="1.7" height="1.7" fill="#0900a2"/><rect x="74.4" y="248.5" width="1.7" height="3.3" fill="#0900a2"/><rect x="74.4" y="251.7" width="1.7" height="1.7" fill="#000aca"/><rect x="74.4" y="253.3" width="1.7" height="1.7" fill="#001be8"/><rect x="74.4" y="254.9" width="1.7" height="3.3" fill="#003bf2"/><rect x="74.4" y="258.2" width="1.7" height="3.3" fill="#00bd6b"/><rect x="74.4" y="261.4" width="1.7" height="1.7" fill="#36d81e"/><rect x="74.4" y="263.0" width="1.7" height="1.7" fill="#c1ea07"/><rect x="74.4" y="264.6" width="1.7" height="1.7" fill="#f3c300"/><rect x="74.4" y="266.2" width="1.7" height="1.7" fill="#c1ea07"/><rect x="74.4" y="267.8" width="1.7" height="1.7" fill="#fe1800"/><rect x="74.4" y="269.4" width="1.7" height="1.7" fill="#f3c300"/><rect x="74.4" y="271.0" width="1.7" height="1.7" fill="#f60e00"/><rect x="74.4" y="272.6" width="1.7" height="4.9" fill="#fe1800"/><rect x="74.4" y="277.5" width="1.7" height="6.5" fill="#ee0400"/><rect x="74.4" y="283.9" width="1.7" height="1.7" fill="#f3c300"/><rect x="74.4" y="285.5" width="1.7" height="3.3" fill="#f60e00"/><rect x="74.4" y="288.7" width="1.7" height="1.7" fill="#f3c300"/><rect x="74.4" y="290.3" width="1.7" height="1.7" fill="#f60e00"/><rect x="74.4" y="291.9" width="1.7" height="1.7" fill="#f3c300"/><rect x="74.4" y="293.5" width="1.7" height="1.7" fill="#0088c0"/><rect x="74.4" y="295.1" width="1.7" height="1.7" fill="#00bd6b"/><rect x="74.4" y="296.7" width="1.7" height="1.7" fill="#0088c0"/><rect x="74.4" y="298.4" width="1.7" height="1.7" fill="#00bd6b"/><rect x="74.4" y="300.0" width="1.7" height="1.7" fill="#003bf2"/><rect x="74.4" y="301.6" width="1.7" height="1.7" fill="#001be8"/><rect x="74.4" y="303.2" width="1.7" height="1.7" fill="#000aca"/><rect x="74.4" y="304.8" width="1.7" height="1.7" fill="#0900a2"/><rect x="76.0" y="250.1" width="1.7" height="3.3" fill="#000aca"/><rect x="76.0" y="253.3" width="1.7" height="1.7" fill="#001be8"/><rect x="76.0" y="254.9" width="1.7" height="1.7" fill="#003bf2"/><rect x="76.0" y="256.6" width="1.7" height="3.3" fill="#0088c0"/><rect x="76.0" y="259.8" width="1.7" height="1.7" fill="#003bf2"/><rect x="76.0" y="261.4" width="1.7" height="1.7" fill="#36d81e"/><rect x="76.0" y="263.0" width="1.7" height="1.7" fill="#f3c300"/><rect x="76.0" y="264.6" width="1.7" height="1.7" fill="#c1ea07"/><rect x="76.0" y="266.2" width="1.7" height="1.7" fill="#f60e00"/><rect x="76.0" y="267.8" width="1.7" height="1.7" fill="#ff7c00"/><rect x="76.0" y="269.4" width="1.7" height="1.7" fill="#fe1800"/><rect x="76.0" y="271.0" width="1.7" height="1.7" fill="#ff7c00"/><rect x="76.0" y="272.6" width="1.7" height="1.7" fill="#fe1800"/><rect x="76.0" y="274.2" width="1.7" height="6.5" fill="#ee0400"/><rect x="76.0" y="280.7" width="1.7" height="1.7" fill="#f60e00"/><rect x="76.0" y="282.3" width="1.7" height="1.7" fill="#f3c300"/><rect x="76.0" y="283.9" width="1.7" height="1.7" fill="#ee0400"/><rect x="76.0" y="285.5" width="1.7" height="1.7" fill="#ff7c00"/><rect x="76.0" y="287.1" width="1.7" height="1.7" fill="#f60e00"/><rect x="76.0" y="288.7" width="1.7" height="1.7" fill="#fe1800"/><rect x="76.0" y="290.3" width="1.7" height="1.7" fill="#f60e00"/><rect x="76.0" y="291.9" width="1.7" height="1.7" fill="#f3c300"/><rect x="76.0" y="293.5" width="1.7" height="1.7" fill="#fe1800"/><rect x="76.0" y="295.1" width="1.7" height="1.7" fill="#f3c300"/><rect x="76.0" y="296.7" width="1.7" height="1.7" fill="#ff7c00"/><rect x="76.0" y="298.4" width="1.7" height="1.7" fill="#36d81e"/><rect x="76.0" y="300.0" width="1.7" height="1.7" fill="#00bd6b"/><rect x="76.0" y="301.6" width="1.7" height="1.7" fill="#001be8"/><rect x="76.0" y="303.2" width="1.7" height="1.7" fill="#003bf2"/><rect x="76.0" y="304.8" width="1.7" height="1.7" fill="#001be8"/><rect x="76.0" y="306.4" width="1.7" height="3.3" fill="#000aca"/><rect x="76.0" y="309.6" width="1.7" height="1.7" fill="#0900a2"/><rect x="77.6" y="258.2" width="1.7" height="3.3" fill="#000aca"/><rect x="77.6" y="261.4" width="1.7" height="1.7" fill="#001be8"/><rect x="77.6" y="263.0" width="1.7" height="1.7" fill="#0088c0"/><rect x="77.6" y="264.6" width="1.7" height="1.7" fill="#00bd6b"/><rect x="77.6" y="266.2" width="1.7" height="1.7" fill="#36d81e"/><rect x="77.6" y="267.8" width="1.7" height="1.7" fill="#f3c300"/><rect x="77.6" y="269.4" width="1.7" height="3.3" fill="#ff7c00"/><rect x="77.6" y="272.6" width="1.7" height="1.7" fill="#fe1800"/><rect x="77.6" y="274.2" width="1.7" height="1.7" fill="#c1ea07"/><rect x="77.6" y="275.8" width="1.7" height="3.3" fill="#ee0400"/><rect x="77.6" y="279.1" width="1.7" height="1.7" fill="#fe1800"/><rect x="77.6" y="280.7" width="1.7" height="1.7" fill="#f60e00"/><rect x="77.6" y="282.3" width="1.7" height="1.7" fill="#fe1800"/><rect x="77.6" y="283.9" width="1.7" height="1.7" fill="#ee0400"/><rect x="77.6" y="285.5" width="1.7" height="1.7" fill="#fe1800"/><rect x="77.6" y="287.1" width="1.7" height="1.7" fill="#c1ea07"/><rect x="77.6" y="288.7" width="1.7" height="1.7" fill="#f60e00"/><rect x="77.6" y="290.3" width="1.7" height="1.7" fill="#f3c300"/><rect x="77.6" y="291.9" width="1.7" height="1.7" fill="#ee0400"/><rect x="77.6" y="293.5" width="1.7" height="1.7" fill="#36d81e"/><rect x="77.6" y="295.1" width="1.7" height="1.7" fill="#ff7c00"/><rect x="77.6" y="296.7" width="1.7" height="1.7" fill="#36d81e"/><rect x="77.6" y="298.4" width="1.7" height="1.7" fill="#001be8"/><rect x="77.6" y="300.0" width="1.7" height="1.7" fill="#003bf2"/><rect x="77.6" y="301.6" width="1.7" height="3.3" fill="#000aca"/><rect x="77.6" y="304.8" width="1.7" height="1.7" fill="#0900a2"/><rect x="79.2" y="259.8" width="1.7" height="1.7" fill="#000aca"/><rect x="79.2" y="261.4" width="1.7" height="3.3" fill="#001be8"/><rect x="79.2" y="264.6" width="1.7" height="1.7" fill="#0088c0"/><rect x="79.2" y="266.2" width="1.7" height="1.7" fill="#003bf2"/><rect x="79.2" y="267.8" width="1.7" height="1.7" fill="#00bd6b"/><rect x="79.2" y="269.4" width="1.7" height="1.7" fill="#36d81e"/><rect x="79.2" y="271.0" width="1.7" height="1.7" fill="#ff7c00"/><rect x="79.2" y="272.6" width="1.7" height="1.7" fill="#c1ea07"/><rect x="79.2" y="274.2" width="1.7" height="1.7" fill="#f60e00"/><rect x="79.2" y="275.8" width="1.7" height="1.7" fill="#ee0400"/><rect x="79.2" y="277.5" width="1.7" height="1.7" fill="#f60e00"/><rect x="79.2" y="279.1" width="1.7" height="1.7" fill="#ee0400"/><rect x="79.2" y="280.7" width="1.7" height="1.7" fill="#f60e00"/><rect x="79.2" y="282.3" width="1.7" height="1.7" fill="#fe1800"/><rect x="79.2" y="283.9" width="1.7" height="1.7" fill="#f60e00"/><rect x="79.2" y="285.5" width="1.7" height="3.3" fill="#ee0400"/><rect x="79.2" y="288.7" width="1.7" height="1.7" fill="#f60e00"/><rect x="79.2" y="290.3" width="1.7" height="1.7" fill="#ff7c00"/><rect x="79.2" y="291.9" width="1.7" height="1.7" fill="#f60e00"/><rect x="79.2" y="293.5" width="1.7" height="1.7" fill="#f3c300"/><rect x="79.2" y="295.1" width="1.7" height="1.7" fill="#00bd6b"/><rect x="79.2" y="296.7" width="1.7" height="1.7" fill="#c1ea07"/><rect x="79.2" y="298.4" width="1.7" height="3.3" fill="#00bd6b"/><rect x="79.2" y="301.6" width="1.7" height="1.7" fill="#003bf2"/><rect x="79.2" y="303.2" width="1.7" height="3.3" fill="#000aca"/><rect x="79.2" y="306.4" width="1.7" height="1.7" fill="#0900a2"/><rect x="80.8" y="254.9" width="1.7" height="1.7" fill="#0900a2"/><rect x="80.8" y="256.6" width="1.7" height="3.3" fill="#000aca"/><rect x="80.8" y="259.8" width="1.7" height="1.7" fill="#001be8"/><rect x="80.8" y="261.4" width="1.7" height="3.3" fill="#003bf2"/><rect x="80.8" y="264.6" width="1.7" height="1.7" fill="#00bd6b"/><rect x="80.8" y="266.2" width="1.7" height="1.7" fill="#c1ea07"/><rect x="80.8" y="267.8" width="1.7" height="1.7" fill="#36d81e"/><rect x="80.8" y="269.4" width="1.7" height="1.7" fill="#c1ea07"/><rect x="80.8" y="271.0" width="1.7" height="1.7" fill="#00bd6b"/><rect x="80.8" y="272.6" width="1.7" height="1.7" fill="#c1ea07"/><rect x="80.8" y="274.2" width="1.7" height="1.7" fill="#f60e00"/><rect x="80.8" y="275.8" width="1.7" height="1.7" fill="#ee0400"/><rect x="80.8" y="277.5" width="1.7" height="1.7" fill="#f3c300"/><rect x="80.8" y="279.1" width="1.7" height="1.7" fill="#ee0400"/><rect x="80.8" y="280.7" width="1.7" height="1.7" fill="#fe1800"/><rect x="80.8" y="282.3" width="1.7" height="1.7" fill="#ee0400"/><rect x="80.8" y="283.9" width="1.7" height="1.7" fill="#f3c300"/><rect x="80.8" y="285.5" width="1.7" height="1.7" fill="#fe1800"/><rect x="80.8" y="287.1" width="1.7" height="1.7" fill="#ee0400"/><rect x="80.8" y="288.7" width="1.7" height="1.7" fill="#ff7c00"/><rect x="80.8" y="290.3" width="1.7" height="1.7" fill="#f3c300"/><rect x="80.8" y="291.9" width="1.7" height="1.7" fill="#fe1800"/><rect x="80.8" y="293.5" width="1.7" height="1.7" fill="#f3c300"/><rect x="80.8" y="295.1" width="1.7" height="3.3" fill="#c1ea07"/><rect x="80.8" y="298.4" width="1.7" height="1.7" fill="#f3c300"/><rect x="80.8" y="300.0" width="1.7" height="1.7" fill="#00bd6b"/><rect x="80.8" y="301.6" width="1.7" height="1.7" fill="#0088c0"/><rect x="80.8" y="303.2" width="1.7" height="1.7" fill="#003bf2"/><rect x="80.8" y="304.8" width="1.7" height="1.7" fill="#001be8"/><rect x="80.8" y="306.4" width="1.7" height="1.7" fill="#000aca"/><rect x="80.8" y="308.0" width="1.7" height="1.7" fill="#0900a2"/><rect x="82.3" y="263.0" width="1.7" height="3.3" fill="#000aca"/><rect x="82.3" y="266.2" width="1.7" height="1.7" fill="#001be8"/><rect x="82.3" y="267.8" width="1.7" height="1.7" fill="#003bf2"/><rect x="82.3" y="269.4" width="1.7" height="1.7" fill="#00bd6b"/><rect x="82.3" y="271.0" width="1.7" height="1.7" fill="#c1ea07"/><rect x="82.3" y="272.6" width="1.7" height="6.5" fill="#f3c300"/><rect x="82.3" y="279.1" width="1.7" height="1.7" fill="#fe1800"/><rect x="82.3" y="280.7" width="1.7" height="1.7" fill="#ee0400"/><rect x="82.3" y="282.3" width="1.7" height="1.7" fill="#ff7c00"/><rect x="82.3" y="283.9" width="1.7" height="3.3" fill="#fe1800"/><rect x="82.3" y="287.1" width="1.7" height="1.7" fill="#ee0400"/><rect x="82.3" y="288.7" width="1.7" height="1.7" fill="#f60e00"/><rect x="82.3" y="290.3" width="1.7" height="3.3" fill="#ee0400"/><rect x="82.3" y="293.5" width="1.7" height="3.3" fill="#f60e00"/><rect x="82.3" y="296.7" width="1.7" height="1.7" fill="#ee0400"/><rect x="82.3" y="298.4" width="1.7" height="1.7" fill="#f3c300"/><rect x="82.3" y="300.0" width="1.7" height="1.7" fill="#fe1800"/><rect x="82.3" y="301.6" width="1.7" height="4.9" fill="#00bd6b"/><rect x="82.3" y="306.4" width="1.7" height="1.7" fill="#003bf2"/><rect x="82.3" y="308.0" width="1.7" height="3.3" fill="#000aca"/><rect x="82.3" y="311.2" width="1.7" height="1.7" fill="#0900a2"/><rect x="83.9" y="259.8" width="1.7" height="3.3" fill="#000aca"/><rect x="83.9" y="263.0" width="1.7" height="1.7" fill="#003bf2"/><rect x="83.9" y="264.6" width="1.7" height="1.7" fill="#0088c0"/><rect x="83.9" y="266.2" width="1.7" height="1.7" fill="#003bf2"/><rect x="83.9" y="267.8" width="1.7" height="1.7" fill="#00bd6b"/><rect x="83.9" y="269.4" width="1.7" height="1.7" fill="#ff7c00"/><rect x="83.9" y="271.0" width="1.7" height="1.7" fill="#00bd6b"/><rect x="83.9" y="272.6" width="1.7" height="1.7" fill="#ff7c00"/><rect x="83.9" y="274.2" width="1.7" height="1.7" fill="#c1ea07"/><rect x="83.9" y="275.8" width="1.7" height="1.7" fill="#f60e00"/><rect x="83.9" y="277.5" width="1.7" height="1.7" fill="#fe1800"/><rect x="83.9" y="279.1" width="1.7" height="1.7" fill="#ee0400"/><rect x="83.9" y="280.7" width="1.7" height="1.7" fill="#f3c300"/><rect x="83.9" y="282.3" width="1.7" height="1.7" fill="#ee0400"/><rect x="83.9" y="283.9" width="1.7" height="1.7" fill="#f60e00"/><rect x="83.9" y="285.5" width="1.7" height="1.7" fill="#ff7c00"/><rect x="83.9" y="287.1" width="1.7" height="1.7" fill="#ee0400"/><rect x="83.9" y="288.7" width="1.7" height="1.7" fill="#f60e00"/><rect x="83.9" y="290.3" width="1.7" height="1.7" fill="#ff7c00"/><rect x="83.9" y="291.9" width="1.7" height="1.7" fill="#ee0400"/><rect x="83.9" y="293.5" width="1.7" height="3.3" fill="#fe1800"/><rect x="83.9" y="296.7" width="1.7" height="1.7" fill="#36d81e"/><rect x="83.9" y="298.4" width="1.7" height="3.3" fill="#ff7c00"/><rect x="83.9" y="301.6" width="1.7" height="1.7" fill="#00bd6b"/><rect x="83.9" y="303.2" width="1.7" height="1.7" fill="#0088c0"/><rect x="83.9" y="304.8" width="1.7" height="3.3" fill="#003bf2"/><rect x="83.9" y="308.0" width="1.7" height="1.7" fill="#000aca"/><rect x="83.9" y="309.6" width="1.7" height="3.3" fill="#0900a2"/><rect x="85.5" y="263.0" width="1.7" height="1.7" fill="#0900a2"/><rect x="85.5" y="264.6" width="1.7" height="1.7" fill="#000aca"/><rect x="85.5" y="266.2" width="1.7" height="1.7" fill="#001be8"/><rect x="85.5" y="267.8" width="1.7" height="1.7" fill="#003bf2"/><rect x="85.5" y="269.4" width="1.7" height="1.7" fill="#0088c0"/><rect x="85.5" y="271.0" width="1.7" height="1.7" fill="#00bd6b"/><rect x="85.5" y="272.6" width="1.7" height="3.3" fill="#c1ea07"/><rect x="85.5" y="275.8" width="1.7" height="1.7" fill="#36d81e"/><rect x="85.5" y="277.5" width="1.7" height="1.7" fill="#ee0400"/><rect x="85.5" y="279.1" width="1.7" height="3.3" fill="#ff7c00"/><rect x="85.5" y="282.3" width="1.7" height="1.7" fill="#ee0400"/><rect x="85.5" y="283.9" width="1.7" height="3.3" fill="#f60e00"/><rect x="85.5" y="287.1" width="1.7" height="1.7" fill="#fe1800"/><rect x="85.5" y="288.7" width="1.7" height="1.7" fill="#f60e00"/><rect x="85.5" y="290.3" width="1.7" height="4.9" fill="#ee0400"/><rect x="85.5" y="295.1" width="1.7" height="1.7" fill="#ff7c00"/><rect x="85.5" y="296.7" width="1.7" height="1.7" fill="#fe1800"/><rect x="85.5" y="298.4" width="1.7" height="1.7" fill="#f60e00"/><rect x="85.5" y="300.0" width="1.7" height="1.7" fill="#c1ea07"/><rect x="85.5" y="301.6" width="1.7" height="4.9" fill="#36d81e"/><rect x="85.5" y="306.4" width="1.7" height="3.3" fill="#003bf2"/><rect x="85.5" y="309.6" width="1.7" height="1.7" fill="#000aca"/><rect x="85.5" y="311.2" width="1.7" height="1.7" fill="#0900a2"/><rect x="87.1" y="258.2" width="1.7" height="3.3" fill="#000aca"/><rect x="87.1" y="261.4" width="1.7" height="3.3" fill="#001be8"/><rect x="87.1" y="264.6" width="1.7" height="3.3" fill="#0088c0"/><rect x="87.1" y="267.8" width="1.7" height="1.7" fill="#36d81e"/><rect x="87.1" y="269.4" width="1.7" height="1.7" fill="#c1ea07"/><rect x="87.1" y="271.0" width="1.7" height="1.7" fill="#36d81e"/><rect x="87.1" y="272.6" width="1.7" height="1.7" fill="#f3c300"/><rect x="87.1" y="274.2" width="1.7" height="1.7" fill="#ff7c00"/><rect x="87.1" y="275.8" width="1.7" height="1.7" fill="#ee0400"/><rect x="87.1" y="277.5" width="1.7" height="1.7" fill="#fe1800"/><rect x="87.1" y="279.1" width="1.7" height="1.7" fill="#c1ea07"/><rect x="87.1" y="280.7" width="1.7" height="1.7" fill="#f3c300"/><rect x="87.1" y="282.3" width="1.7" height="1.7" fill="#f60e00"/><rect x="87.1" y="283.9" width="1.7" height="1.7" fill="#f3c300"/><rect x="87.1" y="285.5" width="1.7" height="1.7" fill="#f60e00"/><rect x="87.1" y="287.1" width="1.7" height="1.7" fill="#ff7c00"/><rect x="87.1" y="288.7" width="1.7" height="3.3" fill="#ee0400"/><rect x="87.1" y="291.9" width="1.7" height="1.7" fill="#ff7c00"/><rect x="87.1" y="293.5" width="1.7" height="1.7" fill="#f60e00"/><rect x="87.1" y="295.1" width="1.7" height="1.7" fill="#ee0400"/><rect x="87.1" y="296.7" width="1.7" height="1.7" fill="#fe1800"/><rect x="87.1" y="298.4" width="1.7" height="1.7" fill="#f3c300"/><rect x="87.1" y="300.0" width="1.7" height="1.7" fill="#f60e00"/><rect x="87.1" y="301.6" width="1.7" height="1.7" fill="#36d81e"/><rect x="87.1" y="303.2" width="1.7" height="1.7" fill="#ff7c00"/><rect x="87.1" y="304.8" width="1.7" height="1.7" fill="#c1ea07"/><rect x="87.1" y="306.4" width="1.7" height="1.7" fill="#0088c0"/><rect x="87.1" y="308.0" width="1.7" height="1.7" fill="#00bd6b"/><rect x="87.1" y="309.6" width="1.7" height="3.3" fill="#001be8"/><rect x="87.1" y="312.8" width="1.7" height="3.3" fill="#000aca"/><rect x="87.1" y="316.0" width="1.7" height="3.3" fill="#0900a2"/><rect x="88.7" y="259.8" width="1.7" height="1.7" fill="#0900a2"/><rect x="88.7" y="261.4" width="1.7" height="3.3" fill="#000aca"/><rect x="88.7" y="264.6" width="1.7" height="1.7" fill="#003bf2"/><rect x="88.7" y="266.2" width="1.7" height="1.7" fill="#001be8"/><rect x="88.7" y="267.8" width="1.7" height="1.7" fill="#0088c0"/><rect x="88.7" y="269.4" width="1.7" height="1.7" fill="#00bd6b"/><rect x="88.7" y="271.0" width="1.7" height="3.3" fill="#36d81e"/><rect x="88.7" y="274.2" width="1.7" height="1.7" fill="#ff7c00"/><rect x="88.7" y="275.8" width="1.7" height="3.3" fill="#f3c300"/><rect x="88.7" y="279.1" width="1.7" height="1.7" fill="#c1ea07"/><rect x="88.7" y="280.7" width="1.7" height="1.7" fill="#ff7c00"/><rect x="88.7" y="282.3" width="1.7" height="1.7" fill="#c1ea07"/><rect x="88.7" y="283.9" width="1.7" height="1.7" fill="#fe1800"/><rect x="88.7" y="285.5" width="1.7" height="1.7" fill="#f60e00"/><rect x="88.7" y="287.1" width="1.7" height="1.7" fill="#c1ea07"/><rect x="88.7" y="288.7" width="1.7" height="3.3" fill="#ee0400"/><rect x="88.7" y="291.9" width="1.7" height="1.7" fill="#f60e00"/><rect x="88.7" y="293.5" width="1.7" height="1.7" fill="#ff7c00"/><rect x="88.7" y="295.1" width="1.7" height="1.7" fill="#ee0400"/><rect x="88.7" y="296.7" width="1.7" height="1.7" fill="#fe1800"/><rect x="88.7" y="298.4" width="1.7" height="1.7" fill="#f3c300"/><rect x="88.7" y="300.0" width="1.7" height="1.7" fill="#ff7c00"/><rect x="88.7" y="301.6" width="1.7" height="1.7" fill="#f3c300"/><rect x="88.7" y="303.2" width="1.7" height="1.7" fill="#36d81e"/><rect x="88.7" y="304.8" width="1.7" height="1.7" fill="#c1ea07"/><rect x="88.7" y="306.4" width="1.7" height="1.7" fill="#003bf2"/><rect x="88.7" y="308.0" width="1.7" height="1.7" fill="#0088c0"/><rect x="88.7" y="309.6" width="1.7" height="3.3" fill="#001be8"/><rect x="88.7" y="312.8" width="1.7" height="1.7" fill="#000aca"/><rect x="88.7" y="314.4" width="1.7" height="3.3" fill="#0900a2"/><rect x="90.3" y="263.0" width="1.7" height="3.3" fill="#000aca"/><rect x="90.3" y="266.2" width="1.7" height="4.9" fill="#001be8"/><rect x="90.3" y="271.0" width="1.7" height="1.7" fill="#00bd6b"/><rect x="90.3" y="272.6" width="1.7" height="3.3" fill="#36d81e"/><rect x="90.3" y="275.8" width="1.7" height="1.7" fill="#ff7c00"/><rect x="90.3" y="277.5" width="1.7" height="1.7" fill="#f3c300"/><rect x="90.3" y="279.1" width="1.7" height="1.7" fill="#ff7c00"/><rect x="90.3" y="280.7" width="1.7" height="1.7" fill="#ee0400"/><rect x="90.3" y="282.3" width="1.7" height="1.7" fill="#ff7c00"/><rect x="90.3" y="283.9" width="1.7" height="1.7" fill="#ee0400"/><rect x="90.3" y="285.5" width="1.7" height="1.7" fill="#ff7c00"/><rect x="90.3" y="287.1" width="1.7" height="1.7" fill="#ee0400"/><rect x="90.3" y="288.7" width="1.7" height="3.3" fill="#f60e00"/><rect x="90.3" y="291.9" width="1.7" height="9.7" fill="#ee0400"/><rect x="90.3" y="301.6" width="1.7" height="1.7" fill="#fe1800"/><rect x="90.3" y="303.2" width="1.7" height="1.7" fill="#ee0400"/><rect x="90.3" y="304.8" width="1.7" height="1.7" fill="#fe1800"/><rect x="90.3" y="306.4" width="1.7" height="1.7" fill="#f3c300"/><rect x="90.3" y="308.0" width="1.7" height="3.3" fill="#36d81e"/><rect x="90.3" y="311.2" width="1.7" height="1.7" fill="#c1ea07"/><rect x="90.3" y="312.8" width="1.7" height="1.7" fill="#00bd6b"/><rect x="90.3" y="314.4" width="1.7" height="1.7" fill="#0088c0"/><rect x="90.3" y="316.0" width="1.7" height="1.7" fill="#001be8"/><rect x="90.3" y="317.6" width="1.7" height="3.3" fill="#000aca"/><rect x="90.3" y="320.9" width="1.7" height="1.7" fill="#0900a2"/><rect x="91.9" y="264.6" width="1.7" height="1.7" fill="#0900a2"/><rect x="91.9" y="266.2" width="1.7" height="3.3" fill="#000aca"/><rect x="91.9" y="269.4" width="1.7" height="3.3" fill="#001be8"/><rect x="91.9" y="272.6" width="1.7" height="1.7" fill="#0088c0"/><rect x="91.9" y="274.2" width="1.7" height="1.7" fill="#36d81e"/><rect x="91.9" y="275.8" width="1.7" height="1.7" fill="#c1ea07"/><rect x="91.9" y="277.5" width="1.7" height="4.9" fill="#f3c300"/><rect x="91.9" y="282.3" width="1.7" height="1.7" fill="#36d81e"/><rect x="91.9" y="283.9" width="1.7" height="1.7" fill="#fe1800"/><rect x="91.9" y="285.5" width="1.7" height="3.3" fill="#f60e00"/><rect x="91.9" y="288.7" width="1.7" height="1.7" fill="#ff7c00"/><rect x="91.9" y="290.3" width="1.7" height="4.9" fill="#f60e00"/><rect x="91.9" y="295.1" width="1.7" height="1.7" fill="#f3c300"/><rect x="91.9" y="296.7" width="1.7" height="1.7" fill="#c1ea07"/><rect x="91.9" y="298.4" width="1.7" height="1.7" fill="#36d81e"/><rect x="91.9" y="300.0" width="1.7" height="3.3" fill="#f3c300"/><rect x="91.9" y="303.2" width="1.7" height="1.7" fill="#36d81e"/><rect x="91.9" y="304.8" width="1.7" height="1.7" fill="#c1ea07"/><rect x="91.9" y="306.4" width="1.7" height="1.7" fill="#0088c0"/><rect x="91.9" y="308.0" width="1.7" height="1.7" fill="#00bd6b"/><rect x="91.9" y="309.6" width="1.7" height="1.7" fill="#0088c0"/><rect x="91.9" y="311.2" width="1.7" height="1.7" fill="#001be8"/><rect x="91.9" y="312.8" width="1.7" height="3.3" fill="#000aca"/><rect x="91.9" y="316.0" width="1.7" height="1.7" fill="#0900a2"/><rect x="93.5" y="263.0" width="1.7" height="1.7" fill="#0900a2"/><rect x="93.5" y="264.6" width="1.7" height="3.3" fill="#000aca"/><rect x="93.5" y="267.8" width="1.7" height="1.7" fill="#001be8"/><rect x="93.5" y="269.4" width="1.7" height="1.7" fill="#003bf2"/><rect x="93.5" y="271.0" width="1.7" height="1.7" fill="#00bd6b"/><rect x="93.5" y="272.6" width="1.7" height="1.7" fill="#0088c0"/><rect x="93.5" y="274.2" width="1.7" height="1.7" fill="#c1ea07"/><rect x="93.5" y="275.8" width="1.7" height="1.7" fill="#36d81e"/><rect x="93.5" y="277.5" width="1.7" height="1.7" fill="#fe1800"/><rect x="93.5" y="279.1" width="1.7" height="1.7" fill="#ff7c00"/><rect x="93.5" y="280.7" width="1.7" height="1.7" fill="#f60e00"/><rect x="93.5" y="282.3" width="1.7" height="1.7" fill="#fe1800"/><rect x="93.5" y="283.9" width="1.7" height="1.7" fill="#c1ea07"/><rect x="93.5" y="285.5" width="1.7" height="1.7" fill="#fe1800"/><rect x="93.5" y="287.1" width="1.7" height="1.7" fill="#f60e00"/><rect x="93.5" y="288.7" width="1.7" height="1.7" fill="#c1ea07"/><rect x="93.5" y="290.3" width="1.7" height="1.7" fill="#ff7c00"/><rect x="93.5" y="291.9" width="1.7" height="1.7" fill="#f3c300"/><rect x="93.5" y="293.5" width="1.7" height="1.7" fill="#fe1800"/><rect x="93.5" y="295.1" width="1.7" height="1.7" fill="#c1ea07"/><rect x="93.5" y="296.7" width="1.7" height="1.7" fill="#fe1800"/><rect x="93.5" y="298.4" width="1.7" height="1.7" fill="#ee0400"/><rect x="93.5" y="300.0" width="1.7" height="1.7" fill="#c1ea07"/><rect x="93.5" y="301.6" width="1.7" height="4.9" fill="#ff7c00"/><rect x="93.5" y="306.4" width="1.7" height="1.7" fill="#0088c0"/><rect x="93.5" y="308.0" width="1.7" height="3.3" fill="#00bd6b"/><rect x="93.5" y="311.2" width="1.7" height="3.3" fill="#001be8"/><rect x="93.5" y="314.4" width="1.7" height="3.3" fill="#000aca"/><rect x="93.5" y="317.6" width="1.7" height="1.7" fill="#0900a2"/><rect x="95.1" y="259.8" width="1.7" height="1.7" fill="#0900a2"/><rect x="95.1" y="261.4" width="1.7" height="3.3" fill="#000aca"/><rect x="95.1" y="264.6" width="1.7" height="4.9" fill="#003bf2"/><rect x="95.1" y="269.4" width="1.7" height="4.9" fill="#36d81e"/><rect x="95.1" y="274.2" width="1.7" height="1.7" fill="#c1ea07"/><rect x="95.1" y="275.8" width="1.7" height="3.3" fill="#ff7c00"/><rect x="95.1" y="279.1" width="1.7" height="1.7" fill="#fe1800"/><rect x="95.1" y="280.7" width="1.7" height="1.7" fill="#ff7c00"/><rect x="95.1" y="282.3" width="1.7" height="1.7" fill="#f60e00"/><rect x="95.1" y="283.9" width="1.7" height="1.7" fill="#f3c300"/><rect x="95.1" y="285.5" width="1.7" height="1.7" fill="#fe1800"/><rect x="95.1" y="287.1" width="1.7" height="1.7" fill="#f60e00"/><rect x="95.1" y="288.7" width="1.7" height="1.7" fill="#fe1800"/><rect x="95.1" y="290.3" width="1.7" height="3.3" fill="#ee0400"/><rect x="95.1" y="293.5" width="1.7" height="1.7" fill="#ff7c00"/><rect x="95.1" y="295.1" width="1.7" height="1.7" fill="#ee0400"/><rect x="95.1" y="296.7" width="1.7" height="1.7" fill="#f3c300"/><rect x="95.1" y="298.4" width="1.7" height="1.7" fill="#ee0400"/><rect x="95.1" y="300.0" width="1.7" height="1.7" fill="#fe1800"/><rect x="95.1" y="301.6" width="1.7" height="1.7" fill="#c1ea07"/><rect x="95.1" y="303.2" width="1.7" height="1.7" fill="#f3c300"/><rect x="95.1" y="304.8" width="1.7" height="1.7" fill="#36d81e"/><rect x="95.1" y="306.4" width="1.7" height="1.7" fill="#0088c0"/><rect x="95.1" y="308.0" width="1.7" height="3.3" fill="#003bf2"/><rect x="95.1" y="311.2" width="1.7" height="1.7" fill="#001be8"/><rect x="95.1" y="312.8" width="1.7" height="3.3" fill="#000aca"/><rect x="96.7" y="264.6" width="1.7" height="1.7" fill="#0900a2"/><rect x="96.7" y="266.2" width="1.7" height="1.7" fill="#000aca"/><rect x="96.7" y="267.8" width="1.7" height="3.3" fill="#001be8"/><rect x="96.7" y="271.0" width="1.7" height="3.3" fill="#003bf2"/><rect x="96.7" y="274.2" width="1.7" height="1.7" fill="#36d81e"/><rect x="96.7" y="275.8" width="1.7" height="1.7" fill="#00bd6b"/><rect x="96.7" y="277.5" width="1.7" height="1.7" fill="#c1ea07"/><rect x="96.7" y="279.1" width="1.7" height="1.7" fill="#36d81e"/><rect x="96.7" y="280.7" width="1.7" height="1.7" fill="#ff7c00"/><rect x="96.7" y="282.3" width="1.7" height="1.7" fill="#f60e00"/><rect x="96.7" y="283.9" width="1.7" height="1.7" fill="#ff7c00"/><rect x="96.7" y="285.5" width="1.7" height="1.7" fill="#fe1800"/><rect x="96.7" y="287.1" width="1.7" height="1.7" fill="#f3c300"/><rect x="96.7" y="288.7" width="1.7" height="1.7" fill="#ff7c00"/><rect x="96.7" y="290.3" width="1.7" height="1.7" fill="#fe1800"/><rect x="96.7" y="291.9" width="1.7" height="6.5" fill="#ff7c00"/><rect x="96.7" y="298.4" width="1.7" height="3.3" fill="#fe1800"/><rect x="96.7" y="301.6" width="1.7" height="3.3" fill="#ff7c00"/><rect x="96.7" y="304.8" width="1.7" height="1.7" fill="#fe1800"/><rect x="96.7" y="306.4" width="1.7" height="1.7" fill="#f3c300"/><rect x="96.7" y="308.0" width="1.7" height="1.7" fill="#fe1800"/><rect x="96.7" y="309.6" width="1.7" height="3.3" fill="#c1ea07"/><rect x="96.7" y="312.8" width="1.7" height="1.7" fill="#36d81e"/><rect x="96.7" y="314.4" width="1.7" height="1.7" fill="#0088c0"/><rect x="96.7" y="316.0" width="1.7" height="3.3" fill="#003bf2"/><rect x="96.7" y="319.3" width="1.7" height="1.7" fill="#001be8"/><rect x="96.7" y="320.9" width="1.7" height="3.3" fill="#000aca"/><rect x="98.3" y="266.2" width="1.7" height="1.7" fill="#0900a2"/><rect x="98.3" y="267.8" width="1.7" height="1.7" fill="#000aca"/><rect x="98.3" y="269.4" width="1.7" height="1.7" fill="#001be8"/><rect x="98.3" y="271.0" width="1.7" height="1.7" fill="#003bf2"/><rect x="98.3" y="272.6" width="1.7" height="1.7" fill="#001be8"/><rect x="98.3" y="274.2" width="1.7" height="1.7" fill="#003bf2"/><rect x="98.3" y="275.8" width="1.7" height="1.7" fill="#c1ea07"/><rect x="98.3" y="277.5" width="1.7" height="3.3" fill="#fe1800"/><rect x="98.3" y="280.7" width="1.7" height="1.7" fill="#ff7c00"/><rect x="98.3" y="282.3" width="1.7" height="1.7" fill="#f3c300"/><rect x="98.3" y="283.9" width="1.7" height="1.7" fill="#ff7c00"/><rect x="98.3" y="285.5" width="1.7" height="3.3" fill="#ee0400"/><rect x="98.3" y="288.7" width="1.7" height="1.7" fill="#f60e00"/><rect x="98.3" y="290.3" width="1.7" height="6.5" fill="#ee0400"/><rect x="98.3" y="296.7" width="1.7" height="1.7" fill="#fe1800"/><rect x="98.3" y="298.4" width="1.7" height="1.7" fill="#ee0400"/><rect x="98.3" y="300.0" width="1.7" height="1.7" fill="#f60e00"/><rect x="98.3" y="301.6" width="1.7" height="4.9" fill="#ee0400"/><rect x="98.3" y="306.4" width="1.7" height="1.7" fill="#fe1800"/><rect x="98.3" y="308.0" width="1.7" height="1.7" fill="#f60e00"/><rect x="98.3" y="309.6" width="1.7" height="1.7" fill="#fe1800"/><rect x="98.3" y="311.2" width="1.7" height="1.7" fill="#c1ea07"/><rect x="98.3" y="312.8" width="1.7" height="1.7" fill="#36d81e"/><rect x="98.3" y="314.4" width="1.7" height="1.7" fill="#00bd6b"/><rect x="98.3" y="316.0" width="1.7" height="1.7" fill="#003bf2"/><rect x="98.3" y="317.6" width="1.7" height="3.3" fill="#001be8"/><rect x="98.3" y="320.9" width="1.7" height="1.7" fill="#000aca"/><rect x="98.3" y="322.5" width="1.7" height="1.7" fill="#0900a2"/><rect x="99.9" y="266.2" width="1.7" height="1.7" fill="#0900a2"/><rect x="99.9" y="267.8" width="1.7" height="1.7" fill="#000aca"/><rect x="99.9" y="269.4" width="1.7" height="3.3" fill="#001be8"/><rect x="99.9" y="272.6" width="1.7" height="3.3" fill="#00bd6b"/><rect x="99.9" y="275.8" width="1.7" height="3.3" fill="#36d81e"/><rect x="99.9" y="279.1" width="1.7" height="1.7" fill="#f60e00"/><rect x="99.9" y="280.7" width="1.7" height="1.7" fill="#ff7c00"/><rect x="99.9" y="282.3" width="1.7" height="1.7" fill="#fe1800"/><rect x="99.9" y="283.9" width="1.7" height="1.7" fill="#ee0400"/><rect x="99.9" y="285.5" width="1.7" height="3.3" fill="#f3c300"/><rect x="99.9" y="288.7" width="1.7" height="1.7" fill="#ee0400"/><rect x="99.9" y="290.3" width="1.7" height="1.7" fill="#f60e00"/><rect x="99.9" y="291.9" width="1.7" height="1.7" fill="#c1ea07"/><rect x="99.9" y="293.5" width="1.7" height="4.9" fill="#ee0400"/><rect x="99.9" y="298.4" width="1.7" height="1.7" fill="#ff7c00"/><rect x="99.9" y="300.0" width="1.7" height="1.7" fill="#f3c300"/><rect x="99.9" y="301.6" width="1.7" height="1.7" fill="#fe1800"/><rect x="99.9" y="303.2" width="1.7" height="1.7" fill="#ee0400"/><rect x="99.9" y="304.8" width="1.7" height="3.3" fill="#f3c300"/><rect x="99.9" y="308.0" width="1.7" height="1.7" fill="#00bd6b"/><rect x="99.9" y="309.6" width="1.7" height="1.7" fill="#c1ea07"/><rect x="99.9" y="311.2" width="1.7" height="3.3" fill="#003bf2"/><rect x="99.9" y="314.4" width="1.7" height="1.7" fill="#001be8"/><rect x="99.9" y="316.0" width="1.7" height="3.3" fill="#000aca"/><rect x="99.9" y="319.3" width="1.7" height="1.7" fill="#0900a2"/><rect x="101.5" y="264.6" width="1.7" height="1.7" fill="#0900a2"/><rect x="101.5" y="266.2" width="1.7" height="1.7" fill="#000aca"/><rect x="101.5" y="267.8" width="1.7" height="3.3" fill="#001be8"/><rect x="101.5" y="271.0" width="1.7" height="3.3" fill="#0088c0"/><rect x="101.5" y="274.2" width="1.7" height="1.7" fill="#00bd6b"/><rect x="101.5" y="275.8" width="1.7" height="3.3" fill="#c1ea07"/><rect x="101.5" y="279.1" width="1.7" height="1.7" fill="#ff7c00"/><rect x="101.5" y="280.7" width="1.7" height="1.7" fill="#f3c300"/><rect x="101.5" y="282.3" width="1.7" height="1.7" fill="#ff7c00"/><rect x="101.5" y="283.9" width="1.7" height="1.7" fill="#00bd6b"/><rect x="101.5" y="285.5" width="1.7" height="1.7" fill="#ff7c00"/><rect x="101.5" y="287.1" width="1.7" height="1.7" fill="#f60e00"/><rect x="101.5" y="288.7" width="1.7" height="1.7" fill="#ee0400"/><rect x="101.5" y="290.3" width="1.7" height="1.7" fill="#f60e00"/><rect x="101.5" y="291.9" width="1.7" height="3.3" fill="#ee0400"/><rect x="101.5" y="295.1" width="1.7" height="4.9" fill="#f60e00"/><rect x="101.5" y="300.0" width="1.7" height="1.7" fill="#ee0400"/><rect x="101.5" y="301.6" width="1.7" height="1.7" fill="#f3c300"/><rect x="101.5" y="303.2" width="1.7" height="1.7" fill="#f60e00"/><rect x="101.5" y="304.8" width="1.7" height="1.7" fill="#ee0400"/><rect x="101.5" y="306.4" width="1.7" height="1.7" fill="#f60e00"/><rect x="101.5" y="308.0" width="1.7" height="1.7" fill="#fe1800"/><rect x="101.5" y="309.6" width="1.7" height="1.7" fill="#c1ea07"/><rect x="101.5" y="311.2" width="1.7" height="1.7" fill="#00bd6b"/><rect x="101.5" y="312.8" width="1.7" height="1.7" fill="#36d81e"/><rect x="101.5" y="314.4" width="1.7" height="1.7" fill="#00bd6b"/><rect x="101.5" y="316.0" width="1.7" height="1.7" fill="#003bf2"/><rect x="101.5" y="317.6" width="1.7" height="1.7" fill="#001be8"/><rect x="101.5" y="319.3" width="1.7" height="4.9" fill="#000aca"/><rect x="101.5" y="324.1" width="1.7" height="1.7" fill="#0900a2"/><rect x="103.1" y="264.6" width="1.7" height="1.7" fill="#0900a2"/><rect x="103.1" y="266.2" width="1.7" height="4.9" fill="#000aca"/><rect x="103.1" y="271.0" width="1.7" height="3.3" fill="#003bf2"/><rect x="103.1" y="274.2" width="1.7" height="1.7" fill="#0088c0"/><rect x="103.1" y="275.8" width="1.7" height="1.7" fill="#00bd6b"/><rect x="103.1" y="277.5" width="1.7" height="4.9" fill="#c1ea07"/><rect x="103.1" y="282.3" width="1.7" height="1.7" fill="#f60e00"/><rect x="103.1" y="283.9" width="1.7" height="1.7" fill="#f3c300"/><rect x="103.1" y="285.5" width="1.7" height="1.7" fill="#ee0400"/><rect x="103.1" y="287.1" width="1.7" height="1.7" fill="#f3c300"/><rect x="103.1" y="288.7" width="1.7" height="6.5" fill="#ee0400"/><rect x="103.1" y="295.1" width="1.7" height="1.7" fill="#fe1800"/><rect x="103.1" y="296.7" width="1.7" height="1.7" fill="#ff7c00"/><rect x="103.1" y="298.4" width="1.7" height="1.7" fill="#ee0400"/><rect x="103.1" y="300.0" width="1.7" height="1.7" fill="#f60e00"/><rect x="103.1" y="301.6" width="1.7" height="1.7" fill="#fe1800"/><rect x="103.1" y="303.2" width="1.7" height="1.7" fill="#ee0400"/><rect x="103.1" y="304.8" width="1.7" height="1.7" fill="#f60e00"/><rect x="103.1" y="306.4" width="1.7" height="1.7" fill="#fe1800"/><rect x="103.1" y="308.0" width="1.7" height="1.7" fill="#f3c300"/><rect x="103.1" y="309.6" width="1.7" height="1.7" fill="#ff7c00"/><rect x="103.1" y="311.2" width="1.7" height="4.9" fill="#00bd6b"/><rect x="103.1" y="316.0" width="1.7" height="3.3" fill="#003bf2"/><rect x="103.1" y="319.3" width="1.7" height="3.3" fill="#001be8"/><rect x="103.1" y="322.5" width="1.7" height="1.7" fill="#000aca"/><rect x="104.7" y="269.4" width="1.7" height="3.3" fill="#000aca"/><rect x="104.7" y="272.6" width="1.7" height="1.7" fill="#001be8"/><rect x="104.7" y="274.2" width="1.7" height="1.7" fill="#003bf2"/><rect x="104.7" y="275.8" width="1.7" height="1.7" fill="#0088c0"/><rect x="104.7" y="277.5" width="1.7" height="1.7" fill="#003bf2"/><rect x="104.7" y="279.1" width="1.7" height="1.7" fill="#36d81e"/><rect x="104.7" y="280.7" width="1.7" height="1.7" fill="#00bd6b"/><rect x="104.7" y="282.3" width="1.7" height="1.7" fill="#36d81e"/><rect x="104.7" y="283.9" width="1.7" height="1.7" fill="#ff7c00"/><rect x="104.7" y="285.5" width="1.7" height="1.7" fill="#f3c300"/><rect x="104.7" y="287.1" width="1.7" height="1.7" fill="#fe1800"/><rect x="104.7" y="288.7" width="1.7" height="1.7" fill="#f3c300"/><rect x="104.7" y="290.3" width="1.7" height="1.7" fill="#f60e00"/><rect x="104.7" y="291.9" width="1.7" height="1.7" fill="#fe1800"/><rect x="104.7" y="293.5" width="1.7" height="1.7" fill="#c1ea07"/><rect x="104.7" y="295.1" width="1.7" height="1.7" fill="#ff7c00"/><rect x="104.7" y="296.7" width="1.7" height="1.7" fill="#36d81e"/><rect x="104.7" y="298.4" width="1.7" height="1.7" fill="#f3c300"/><rect x="104.7" y="300.0" width="1.7" height="1.7" fill="#fe1800"/><rect x="104.7" y="301.6" width="1.7" height="1.7" fill="#f60e00"/><rect x="104.7" y="303.2" width="1.7" height="1.7" fill="#c1ea07"/><rect x="104.7" y="304.8" width="1.7" height="3.3" fill="#f3c300"/><rect x="104.7" y="308.0" width="1.7" height="1.7" fill="#c1ea07"/><rect x="104.7" y="309.6" width="1.7" height="1.7" fill="#ff7c00"/><rect x="104.7" y="311.2" width="1.7" height="1.7" fill="#f3c300"/><rect x="104.7" y="312.8" width="1.7" height="1.7" fill="#36d81e"/><rect x="104.7" y="314.4" width="1.7" height="3.3" fill="#0088c0"/><rect x="104.7" y="317.6" width="1.7" height="1.7" fill="#003bf2"/><rect x="104.7" y="319.3" width="1.7" height="1.7" fill="#001be8"/><rect x="104.7" y="320.9" width="1.7" height="3.3" fill="#000aca"/><rect x="104.7" y="324.1" width="1.7" height="1.7" fill="#0900a2"/><rect x="106.3" y="269.4" width="1.7" height="3.3" fill="#000aca"/><rect x="106.3" y="272.6" width="1.7" height="1.7" fill="#001be8"/><rect x="106.3" y="274.2" width="1.7" height="1.7" fill="#003bf2"/><rect x="106.3" y="275.8" width="1.7" height="1.7" fill="#0088c0"/><rect x="106.3" y="277.5" width="1.7" height="3.3" fill="#36d81e"/><rect x="106.3" y="280.7" width="1.7" height="1.7" fill="#c1ea07"/><rect x="106.3" y="282.3" width="1.7" height="3.3" fill="#f3c300"/><rect x="106.3" y="285.5" width="1.7" height="3.3" fill="#fe1800"/><rect x="106.3" y="288.7" width="1.7" height="1.7" fill="#f60e00"/><rect x="106.3" y="290.3" width="1.7" height="1.7" fill="#ee0400"/><rect x="106.3" y="291.9" width="1.7" height="1.7" fill="#fe1800"/><rect x="106.3" y="293.5" width="1.7" height="3.3" fill="#f3c300"/><rect x="106.3" y="296.7" width="1.7" height="1.7" fill="#ee0400"/><rect x="106.3" y="298.4" width="1.7" height="1.7" fill="#ff7c00"/><rect x="106.3" y="300.0" width="1.7" height="1.7" fill="#ee0400"/><rect x="106.3" y="301.6" width="1.7" height="1.7" fill="#f3c300"/><rect x="106.3" y="303.2" width="1.7" height="1.7" fill="#ff7c00"/><rect x="106.3" y="304.8" width="1.7" height="1.7" fill="#36d81e"/><rect x="106.3" y="306.4" width="1.7" height="1.7" fill="#c1ea07"/><rect x="106.3" y="308.0" width="1.7" height="1.7" fill="#ff7c00"/><rect x="106.3" y="309.6" width="1.7" height="1.7" fill="#36d81e"/><rect x="106.3" y="311.2" width="1.7" height="1.7" fill="#f3c300"/><rect x="106.3" y="312.8" width="1.7" height="1.7" fill="#0088c0"/><rect x="106.3" y="314.4" width="1.7" height="1.7" fill="#c1ea07"/><rect x="106.3" y="316.0" width="1.7" height="1.7" fill="#003bf2"/><rect x="106.3" y="317.6" width="1.7" height="1.7" fill="#001be8"/><rect x="106.3" y="319.3" width="1.7" height="1.7" fill="#000aca"/><rect x="106.3" y="320.9" width="1.7" height="1.7" fill="#0900a2"/><rect x="107.9" y="264.6" width="1.7" height="1.7" fill="#0900a2"/><rect x="107.9" y="266.2" width="1.7" height="1.7" fill="#000aca"/><rect x="107.9" y="267.8" width="1.7" height="1.7" fill="#001be8"/><rect x="107.9" y="269.4" width="1.7" height="1.7" fill="#003bf2"/><rect x="107.9" y="271.0" width="1.7" height="1.7" fill="#0088c0"/><rect x="107.9" y="272.6" width="1.7" height="3.3" fill="#00bd6b"/><rect x="107.9" y="275.8" width="1.7" height="1.7" fill="#c1ea07"/><rect x="107.9" y="277.5" width="1.7" height="1.7" fill="#f3c300"/><rect x="107.9" y="279.1" width="1.7" height="1.7" fill="#36d81e"/><rect x="107.9" y="280.7" width="1.7" height="1.7" fill="#ee0400"/><rect x="107.9" y="282.3" width="1.7" height="1.7" fill="#ff7c00"/><rect x="107.9" y="283.9" width="1.7" height="3.3" fill="#fe1800"/><rect x="107.9" y="287.1" width="1.7" height="6.5" fill="#ee0400"/><rect x="107.9" y="293.5" width="1.7" height="1.7" fill="#f60e00"/><rect x="107.9" y="295.1" width="1.7" height="1.7" fill="#ee0400"/><rect x="107.9" y="296.7" width="1.7" height="1.7" fill="#fe1800"/><rect x="107.9" y="298.4" width="1.7" height="4.9" fill="#ee0400"/><rect x="107.9" y="303.2" width="1.7" height="1.7" fill="#fe1800"/><rect x="107.9" y="304.8" width="1.7" height="1.7" fill="#ff7c00"/><rect x="107.9" y="306.4" width="1.7" height="1.7" fill="#ee0400"/><rect x="107.9" y="308.0" width="1.7" height="1.7" fill="#f60e00"/><rect x="107.9" y="309.6" width="1.7" height="1.7" fill="#c1ea07"/><rect x="107.9" y="311.2" width="1.7" height="1.7" fill="#00bd6b"/><rect x="107.9" y="312.8" width="1.7" height="1.7" fill="#36d81e"/><rect x="107.9" y="314.4" width="1.7" height="1.7" fill="#00bd6b"/><rect x="107.9" y="316.0" width="1.7" height="1.7" fill="#003bf2"/><rect x="107.9" y="317.6" width="1.7" height="1.7" fill="#001be8"/><rect x="107.9" y="319.3" width="1.7" height="3.3" fill="#000aca"/><rect x="107.9" y="322.5" width="1.7" height="3.3" fill="#0900a2"/><rect x="109.5" y="272.6" width="1.7" height="1.7" fill="#0900a2"/><rect x="109.5" y="274.2" width="1.7" height="1.7" fill="#000aca"/><rect x="109.5" y="275.8" width="1.7" height="1.7" fill="#001be8"/><rect x="109.5" y="277.5" width="1.7" height="1.7" fill="#003bf2"/><rect x="109.5" y="279.1" width="1.7" height="3.3" fill="#36d81e"/><rect x="109.5" y="282.3" width="1.7" height="1.7" fill="#ff7c00"/><rect x="109.5" y="283.9" width="1.7" height="1.7" fill="#f3c300"/><rect x="109.5" y="285.5" width="1.7" height="1.7" fill="#ff7c00"/><rect x="109.5" y="287.1" width="1.7" height="1.7" fill="#36d81e"/><rect x="109.5" y="288.7" width="1.7" height="1.7" fill="#ee0400"/><rect x="109.5" y="290.3" width="1.7" height="3.3" fill="#fe1800"/><rect x="109.5" y="293.5" width="1.7" height="1.7" fill="#ff7c00"/><rect x="109.5" y="295.1" width="1.7" height="1.7" fill="#f60e00"/><rect x="109.5" y="296.7" width="1.7" height="1.7" fill="#fe1800"/><rect x="109.5" y="298.4" width="1.7" height="1.7" fill="#ff7c00"/><rect x="109.5" y="300.0" width="1.7" height="3.3" fill="#ee0400"/><rect x="109.5" y="303.2" width="1.7" height="1.7" fill="#f60e00"/><rect x="109.5" y="304.8" width="1.7" height="1.7" fill="#fe1800"/><rect x="109.5" y="306.4" width="1.7" height="3.3" fill="#ff7c00"/><rect x="109.5" y="309.6" width="1.7" height="1.7" fill="#36d81e"/><rect x="109.5" y="311.2" width="1.7" height="3.3" fill="#00bd6b"/><rect x="109.5" y="314.4" width="1.7" height="1.7" fill="#0088c0"/><rect x="109.5" y="316.0" width="1.7" height="1.7" fill="#001be8"/><rect x="109.5" y="317.6" width="1.7" height="1.7" fill="#000aca"/><rect x="109.5" y="319.3" width="1.7" height="1.7" fill="#0900a2"/><rect x="111.1" y="266.2" width="1.7" height="1.7" fill="#000aca"/><rect x="111.1" y="267.8" width="1.7" height="3.3" fill="#001be8"/><rect x="111.1" y="271.0" width="1.7" height="4.9" fill="#003bf2"/><rect x="111.1" y="275.8" width="1.7" height="1.7" fill="#00bd6b"/><rect x="111.1" y="277.5" width="1.7" height="1.7" fill="#36d81e"/><rect x="111.1" y="279.1" width="1.7" height="1.7" fill="#c1ea07"/><rect x="111.1" y="280.7" width="1.7" height="1.7" fill="#f60e00"/><rect x="111.1" y="282.3" width="1.7" height="1.7" fill="#f3c300"/><rect x="111.1" y="283.9" width="1.7" height="1.7" fill="#36d81e"/><rect x="111.1" y="285.5" width="1.7" height="3.3" fill="#ee0400"/><rect x="111.1" y="288.7" width="1.7" height="1.7" fill="#f60e00"/><rect x="111.1" y="290.3" width="1.7" height="1.7" fill="#ee0400"/><rect x="111.1" y="291.9" width="1.7" height="1.7" fill="#f60e00"/><rect x="111.1" y="293.5" width="1.7" height="1.7" fill="#ee0400"/><rect x="111.1" y="295.1" width="1.7" height="1.7" fill="#ff7c00"/><rect x="111.1" y="296.7" width="1.7" height="1.7" fill="#ee0400"/><rect x="111.1" y="298.4" width="1.7" height="1.7" fill="#fe1800"/><rect x="111.1" y="300.0" width="1.7" height="1.7" fill="#f60e00"/><rect x="111.1" y="301.6" width="1.7" height="1.7" fill="#ee0400"/><rect x="111.1" y="303.2" width="1.7" height="6.5" fill="#f60e00"/><rect x="111.1" y="309.6" width="1.7" height="1.7" fill="#00bd6b"/><rect x="111.1" y="311.2" width="1.7" height="1.7" fill="#36d81e"/><rect x="111.1" y="312.8" width="1.7" height="1.7" fill="#c1ea07"/><rect x="111.1" y="314.4" width="1.7" height="3.3" fill="#0088c0"/><rect x="111.1" y="317.6" width="1.7" height="1.7" fill="#003bf2"/><rect x="111.1" y="319.3" width="1.7" height="1.7" fill="#001be8"/><rect x="111.1" y="320.9" width="1.7" height="1.7" fill="#000aca"/><rect x="111.1" y="322.5" width="1.7" height="1.7" fill="#0900a2"/><rect x="112.7" y="269.4" width="1.7" height="1.7" fill="#0900a2"/><rect x="112.7" y="271.0" width="1.7" height="3.3" fill="#000aca"/><rect x="112.7" y="274.2" width="1.7" height="3.3" fill="#001be8"/><rect x="112.7" y="277.5" width="1.7" height="1.7" fill="#00bd6b"/><rect x="112.7" y="279.1" width="1.7" height="1.7" fill="#0088c0"/><rect x="112.7" y="280.7" width="1.7" height="8.1" fill="#f3c300"/><rect x="112.7" y="288.7" width="1.7" height="1.7" fill="#ee0400"/><rect x="112.7" y="290.3" width="1.7" height="1.7" fill="#fe1800"/><rect x="112.7" y="291.9" width="1.7" height="1.7" fill="#f60e00"/><rect x="112.7" y="293.5" width="1.7" height="1.7" fill="#fe1800"/><rect x="112.7" y="295.1" width="1.7" height="1.7" fill="#ee0400"/><rect x="112.7" y="296.7" width="1.7" height="1.7" fill="#f60e00"/><rect x="112.7" y="298.4" width="1.7" height="1.7" fill="#00bd6b"/><rect x="112.7" y="300.0" width="1.7" height="1.7" fill="#ee0400"/><rect x="112.7" y="301.6" width="1.7" height="1.7" fill="#c1ea07"/><rect x="112.7" y="303.2" width="1.7" height="1.7" fill="#ee0400"/><rect x="112.7" y="304.8" width="1.7" height="1.7" fill="#fe1800"/><rect x="112.7" y="306.4" width="1.7" height="3.3" fill="#ff7c00"/><rect x="112.7" y="309.6" width="1.7" height="1.7" fill="#f3c300"/><rect x="112.7" y="311.2" width="1.7" height="1.7" fill="#00bd6b"/><rect x="112.7" y="312.8" width="1.7" height="4.9" fill="#36d81e"/><rect x="112.7" y="317.6" width="1.7" height="1.7" fill="#0088c0"/><rect x="112.7" y="319.3" width="1.7" height="1.7" fill="#001be8"/><rect x="112.7" y="320.9" width="1.7" height="3.3" fill="#000aca"/><rect x="112.7" y="324.1" width="1.7" height="1.7" fill="#0900a2"/><rect x="114.3" y="271.0" width="1.7" height="3.3" fill="#000aca"/><rect x="114.3" y="274.2" width="1.7" height="1.7" fill="#003bf2"/><rect x="114.3" y="275.8" width="1.7" height="1.7" fill="#0088c0"/><rect x="114.3" y="277.5" width="1.7" height="1.7" fill="#00bd6b"/><rect x="114.3" y="279.1" width="1.7" height="1.7" fill="#003bf2"/><rect x="114.3" y="280.7" width="1.7" height="1.7" fill="#ff7c00"/><rect x="114.3" y="282.3" width="1.7" height="4.9" fill="#f60e00"/><rect x="114.3" y="287.1" width="1.7" height="1.7" fill="#ee0400"/><rect x="114.3" y="288.7" width="1.7" height="1.7" fill="#f60e00"/><rect x="114.3" y="290.3" width="1.7" height="1.7" fill="#ee0400"/><rect x="114.3" y="291.9" width="1.7" height="1.7" fill="#36d81e"/><rect x="114.3" y="293.5" width="1.7" height="1.7" fill="#f60e00"/><rect x="114.3" y="295.1" width="1.7" height="3.3" fill="#ee0400"/><rect x="114.3" y="298.4" width="1.7" height="1.7" fill="#f60e00"/><rect x="114.3" y="300.0" width="1.7" height="8.1" fill="#ee0400"/><rect x="114.3" y="308.0" width="1.7" height="1.7" fill="#f3c300"/><rect x="114.3" y="309.6" width="1.7" height="1.7" fill="#f60e00"/><rect x="114.3" y="311.2" width="1.7" height="1.7" fill="#ff7c00"/><rect x="114.3" y="312.8" width="1.7" height="3.3" fill="#36d81e"/><rect x="114.3" y="316.0" width="1.7" height="1.7" fill="#003bf2"/><rect x="114.3" y="317.6" width="1.7" height="1.7" fill="#001be8"/><rect x="114.3" y="319.3" width="1.7" height="1.7" fill="#000aca"/><rect x="114.3" y="320.9" width="1.7" height="1.7" fill="#0900a2"/><rect x="115.9" y="272.6" width="1.7" height="1.7" fill="#0900a2"/><rect x="115.9" y="274.2" width="1.7" height="1.7" fill="#000aca"/><rect x="115.9" y="275.8" width="1.7" height="1.7" fill="#001be8"/><rect x="115.9" y="277.5" width="1.7" height="1.7" fill="#003bf2"/><rect x="115.9" y="279.1" width="1.7" height="1.7" fill="#0088c0"/><rect x="115.9" y="280.7" width="1.7" height="1.7" fill="#003bf2"/><rect x="115.9" y="282.3" width="1.7" height="3.3" fill="#0088c0"/><rect x="115.9" y="285.5" width="1.7" height="1.7" fill="#ff7c00"/><rect x="115.9" y="287.1" width="1.7" height="1.7" fill="#c1ea07"/><rect x="115.9" y="288.7" width="1.7" height="1.7" fill="#fe1800"/><rect x="115.9" y="290.3" width="1.7" height="1.7" fill="#ff7c00"/><rect x="115.9" y="291.9" width="1.7" height="1.7" fill="#f3c300"/><rect x="115.9" y="293.5" width="1.7" height="1.7" fill="#fe1800"/><rect x="115.9" y="295.1" width="1.7" height="1.7" fill="#ff7c00"/><rect x="115.9" y="296.7" width="1.7" height="1.7" fill="#f60e00"/><rect x="115.9" y="298.4" width="1.7" height="1.7" fill="#fe1800"/><rect x="115.9" y="300.0" width="1.7" height="1.7" fill="#ee0400"/><rect x="115.9" y="301.6" width="1.7" height="1.7" fill="#fe1800"/><rect x="115.9" y="303.2" width="1.7" height="1.7" fill="#ff7c00"/><rect x="115.9" y="304.8" width="1.7" height="1.7" fill="#ee0400"/><rect x="115.9" y="306.4" width="1.7" height="1.7" fill="#f60e00"/><rect x="115.9" y="308.0" width="1.7" height="3.3" fill="#ee0400"/><rect x="115.9" y="311.2" width="1.7" height="1.7" fill="#ff7c00"/><rect x="115.9" y="312.8" width="1.7" height="1.7" fill="#f3c300"/><rect x="115.9" y="314.4" width="1.7" height="1.7" fill="#fe1800"/><rect x="115.9" y="316.0" width="1.7" height="1.7" fill="#c1ea07"/><rect x="115.9" y="317.6" width="1.7" height="1.7" fill="#36d81e"/><rect x="115.9" y="319.3" width="1.7" height="3.3" fill="#00bd6b"/><rect x="115.9" y="322.5" width="1.7" height="1.7" fill="#003bf2"/><rect x="115.9" y="324.1" width="1.7" height="1.7" fill="#001be8"/><rect x="115.9" y="325.7" width="1.7" height="1.7" fill="#000aca"/><rect x="115.9" y="327.3" width="1.7" height="1.7" fill="#0900a2"/><rect x="117.5" y="274.2" width="1.7" height="1.7" fill="#0900a2"/><rect x="117.5" y="275.8" width="1.7" height="1.7" fill="#000aca"/><rect x="117.5" y="277.5" width="1.7" height="1.7" fill="#001be8"/><rect x="117.5" y="279.1" width="1.7" height="1.7" fill="#003bf2"/><rect x="117.5" y="280.7" width="1.7" height="1.7" fill="#0088c0"/><rect x="117.5" y="282.3" width="1.7" height="3.3" fill="#36d81e"/><rect x="117.5" y="285.5" width="1.7" height="1.7" fill="#f3c300"/><rect x="117.5" y="287.1" width="1.7" height="1.7" fill="#f60e00"/><rect x="117.5" y="288.7" width="1.7" height="1.7" fill="#fe1800"/><rect x="117.5" y="290.3" width="1.7" height="1.7" fill="#ee0400"/><rect x="117.5" y="291.9" width="1.7" height="1.7" fill="#fe1800"/><rect x="117.5" y="293.5" width="1.7" height="1.7" fill="#c1ea07"/><rect x="117.5" y="295.1" width="1.7" height="3.3" fill="#ee0400"/><rect x="117.5" y="298.4" width="1.7" height="1.7" fill="#fe1800"/><rect x="117.5" y="300.0" width="1.7" height="1.7" fill="#f60e00"/><rect x="117.5" y="301.6" width="1.7" height="3.3" fill="#fe1800"/><rect x="117.5" y="304.8" width="1.7" height="3.3" fill="#ee0400"/><rect x="117.5" y="308.0" width="1.7" height="1.7" fill="#c1ea07"/><rect x="117.5" y="309.6" width="1.7" height="1.7" fill="#fe1800"/><rect x="117.5" y="311.2" width="1.7" height="3.3" fill="#f3c300"/><rect x="117.5" y="314.4" width="1.7" height="1.7" fill="#fe1800"/><rect x="117.5" y="316.0" width="1.7" height="3.3" fill="#0088c0"/><rect x="117.5" y="319.3" width="1.7" height="3.3" fill="#001be8"/><rect x="117.5" y="322.5" width="1.7" height="1.7" fill="#000aca"/><rect x="119.1" y="274.2" width="1.7" height="3.3" fill="#000aca"/><rect x="119.1" y="277.5" width="1.7" height="3.3" fill="#003bf2"/><rect x="119.1" y="280.7" width="1.7" height="1.7" fill="#0088c0"/><rect x="119.1" y="282.3" width="1.7" height="1.7" fill="#36d81e"/><rect x="119.1" y="283.9" width="1.7" height="1.7" fill="#c1ea07"/><rect x="119.1" y="285.5" width="1.7" height="1.7" fill="#36d81e"/><rect x="119.1" y="287.1" width="1.7" height="1.7" fill="#fe1800"/><rect x="119.1" y="288.7" width="1.7" height="1.7" fill="#ff7c00"/><rect x="119.1" y="290.3" width="1.7" height="1.7" fill="#fe1800"/><rect x="119.1" y="291.9" width="1.7" height="1.7" fill="#ff7c00"/><rect x="119.1" y="293.5" width="1.7" height="1.7" fill="#f60e00"/><rect x="119.1" y="295.1" width="1.7" height="1.7" fill="#fe1800"/><rect x="119.1" y="296.7" width="1.7" height="6.5" fill="#ee0400"/><rect x="119.1" y="303.2" width="1.7" height="1.7" fill="#f60e00"/><rect x="119.1" y="304.8" width="1.7" height="1.7" fill="#fe1800"/><rect x="119.1" y="306.4" width="1.7" height="1.7" fill="#c1ea07"/><rect x="119.1" y="308.0" width="1.7" height="1.7" fill="#f60e00"/><rect x="119.1" y="309.6" width="1.7" height="1.7" fill="#fe1800"/><rect x="119.1" y="311.2" width="1.7" height="3.3" fill="#c1ea07"/><rect x="119.1" y="314.4" width="1.7" height="1.7" fill="#00bd6b"/><rect x="119.1" y="316.0" width="1.7" height="1.7" fill="#0088c0"/><rect x="119.1" y="317.6" width="1.7" height="1.7" fill="#003bf2"/><rect x="119.1" y="319.3" width="1.7" height="1.7" fill="#001be8"/><rect x="119.1" y="320.9" width="1.7" height="1.7" fill="#000aca"/><rect x="119.1" y="322.5" width="1.7" height="1.7" fill="#0900a2"/><rect x="120.7" y="274.2" width="1.7" height="1.7" fill="#0900a2"/><rect x="120.7" y="275.8" width="1.7" height="1.7" fill="#000aca"/><rect x="120.7" y="277.5" width="1.7" height="3.3" fill="#001be8"/><rect x="120.7" y="280.7" width="1.7" height="1.7" fill="#003bf2"/><rect x="120.7" y="282.3" width="1.7" height="3.3" fill="#36d81e"/><rect x="120.7" y="285.5" width="1.7" height="1.7" fill="#00bd6b"/><rect x="120.7" y="287.1" width="1.7" height="1.7" fill="#c1ea07"/><rect x="120.7" y="288.7" width="1.7" height="1.7" fill="#f60e00"/><rect x="120.7" y="290.3" width="1.7" height="3.3" fill="#ff7c00"/><rect x="120.7" y="293.5" width="1.7" height="1.7" fill="#fe1800"/><rect x="120.7" y="295.1" width="1.7" height="1.7" fill="#f60e00"/><rect x="120.7" y="296.7" width="1.7" height="1.7" fill="#ff7c00"/><rect x="120.7" y="298.4" width="1.7" height="3.3" fill="#fe1800"/><rect x="120.7" y="301.6" width="1.7" height="1.7" fill="#f3c300"/><rect x="120.7" y="303.2" width="1.7" height="3.3" fill="#ee0400"/><rect x="120.7" y="306.4" width="1.7" height="1.7" fill="#fe1800"/><rect x="120.7" y="308.0" width="1.7" height="1.7" fill="#ff7c00"/><rect x="120.7" y="309.6" width="1.7" height="1.7" fill="#f3c300"/><rect x="120.7" y="311.2" width="1.7" height="1.7" fill="#36d81e"/><rect x="120.7" y="312.8" width="1.7" height="1.7" fill="#f3c300"/><rect x="120.7" y="314.4" width="1.7" height="1.7" fill="#0088c0"/><rect x="120.7" y="316.0" width="1.7" height="1.7" fill="#003bf2"/><rect x="120.7" y="317.6" width="1.7" height="3.3" fill="#001be8"/><rect x="120.7" y="320.9" width="1.7" height="1.7" fill="#000aca"/><rect x="120.7" y="322.5" width="1.7" height="1.7" fill="#0900a2"/><rect x="122.3" y="271.0" width="1.7" height="1.7" fill="#0900a2"/><rect x="122.3" y="272.6" width="1.7" height="1.7" fill="#000aca"/><rect x="122.3" y="274.2" width="1.7" height="1.7" fill="#001be8"/><rect x="122.3" y="275.8" width="1.7" height="4.9" fill="#0088c0"/><rect x="122.3" y="280.7" width="1.7" height="1.7" fill="#c1ea07"/><rect x="122.3" y="282.3" width="1.7" height="1.7" fill="#f3c300"/><rect x="122.3" y="283.9" width="1.7" height="1.7" fill="#fe1800"/><rect x="122.3" y="285.5" width="1.7" height="1.7" fill="#f3c300"/><rect x="122.3" y="287.1" width="1.7" height="1.7" fill="#c1ea07"/><rect x="122.3" y="288.7" width="1.7" height="1.7" fill="#ee0400"/><rect x="122.3" y="290.3" width="1.7" height="1.7" fill="#c1ea07"/><rect x="122.3" y="291.9" width="1.7" height="3.3" fill="#f60e00"/><rect x="122.3" y="295.1" width="1.7" height="1.7" fill="#ee0400"/><rect x="122.3" y="296.7" width="1.7" height="1.7" fill="#f60e00"/><rect x="122.3" y="298.4" width="1.7" height="1.7" fill="#ee0400"/><rect x="122.3" y="300.0" width="1.7" height="1.7" fill="#fe1800"/><rect x="122.3" y="301.6" width="1.7" height="1.7" fill="#ff7c00"/><rect x="122.3" y="303.2" width="1.7" height="1.7" fill="#f60e00"/><rect x="122.3" y="304.8" width="1.7" height="1.7" fill="#ee0400"/><rect x="122.3" y="306.4" width="1.7" height="1.7" fill="#ff7c00"/><rect x="122.3" y="308.0" width="1.7" height="3.3" fill="#ee0400"/><rect x="122.3" y="311.2" width="1.7" height="1.7" fill="#ff7c00"/><rect x="122.3" y="312.8" width="1.7" height="1.7" fill="#fe1800"/><rect x="122.3" y="314.4" width="1.7" height="3.3" fill="#c1ea07"/><rect x="122.3" y="317.6" width="1.7" height="1.7" fill="#00bd6b"/><rect x="122.3" y="319.3" width="1.7" height="1.7" fill="#0088c0"/><rect x="122.3" y="320.9" width="1.7" height="3.3" fill="#001be8"/><rect x="122.3" y="324.1" width="1.7" height="3.3" fill="#0900a2"/><rect x="123.9" y="267.8" width="1.7" height="3.3" fill="#0900a2"/><rect x="123.9" y="271.0" width="1.7" height="4.9" fill="#001be8"/><rect x="123.9" y="275.8" width="1.7" height="4.9" fill="#0088c0"/><rect x="123.9" y="280.7" width="1.7" height="1.7" fill="#c1ea07"/><rect x="123.9" y="282.3" width="1.7" height="1.7" fill="#36d81e"/><rect x="123.9" y="283.9" width="1.7" height="1.7" fill="#fe1800"/><rect x="123.9" y="285.5" width="1.7" height="1.7" fill="#ff7c00"/><rect x="123.9" y="287.1" width="1.7" height="1.7" fill="#ee0400"/><rect x="123.9" y="288.7" width="1.7" height="1.7" fill="#36d81e"/><rect x="123.9" y="290.3" width="1.7" height="3.3" fill="#ee0400"/><rect x="123.9" y="293.5" width="1.7" height="1.7" fill="#fe1800"/><rect x="123.9" y="295.1" width="1.7" height="1.7" fill="#ff7c00"/><rect x="123.9" y="296.7" width="1.7" height="4.9" fill="#ee0400"/><rect x="123.9" y="301.6" width="1.7" height="1.7" fill="#ff7c00"/><rect x="123.9" y="303.2" width="1.7" height="1.7" fill="#ee0400"/><rect x="123.9" y="304.8" width="1.7" height="3.3" fill="#f60e00"/><rect x="123.9" y="308.0" width="1.7" height="3.3" fill="#ff7c00"/><rect x="123.9" y="311.2" width="1.7" height="1.7" fill="#fe1800"/><rect x="123.9" y="312.8" width="1.7" height="1.7" fill="#f3c300"/><rect x="123.9" y="314.4" width="1.7" height="1.7" fill="#36d81e"/><rect x="123.9" y="316.0" width="1.7" height="1.7" fill="#c1ea07"/><rect x="123.9" y="317.6" width="1.7" height="3.3" fill="#00bd6b"/><rect x="123.9" y="320.9" width="1.7" height="1.7" fill="#003bf2"/><rect x="123.9" y="322.5" width="1.7" height="1.7" fill="#001be8"/><rect x="123.9" y="324.1" width="1.7" height="3.3" fill="#000aca"/><rect x="123.9" y="327.3" width="1.7" height="1.7" fill="#0900a2"/><rect x="125.5" y="267.8" width="1.7" height="1.7" fill="#0900a2"/><rect x="125.5" y="269.4" width="1.7" height="3.3" fill="#000aca"/><rect x="125.5" y="272.6" width="1.7" height="1.7" fill="#001be8"/><rect x="125.5" y="274.2" width="1.7" height="1.7" fill="#003bf2"/><rect x="125.5" y="275.8" width="1.7" height="1.7" fill="#0088c0"/><rect x="125.5" y="277.5" width="1.7" height="1.7" fill="#003bf2"/><rect x="125.5" y="279.1" width="1.7" height="1.7" fill="#0088c0"/><rect x="125.5" y="280.7" width="1.7" height="1.7" fill="#c1ea07"/><rect x="125.5" y="282.3" width="1.7" height="1.7" fill="#f3c300"/><rect x="125.5" y="283.9" width="1.7" height="1.7" fill="#ff7c00"/><rect x="125.5" y="285.5" width="1.7" height="1.7" fill="#f3c300"/><rect x="125.5" y="287.1" width="1.7" height="1.7" fill="#ff7c00"/><rect x="125.5" y="288.7" width="1.7" height="1.7" fill="#fe1800"/><rect x="125.5" y="290.3" width="1.7" height="1.7" fill="#ee0400"/><rect x="125.5" y="291.9" width="1.7" height="1.7" fill="#ff7c00"/><rect x="125.5" y="293.5" width="1.7" height="3.3" fill="#ee0400"/><rect x="125.5" y="296.7" width="1.7" height="1.7" fill="#f60e00"/><rect x="125.5" y="298.4" width="1.7" height="1.7" fill="#fe1800"/><rect x="125.5" y="300.0" width="1.7" height="4.9" fill="#ee0400"/><rect x="125.5" y="304.8" width="1.7" height="1.7" fill="#f60e00"/><rect x="125.5" y="306.4" width="1.7" height="4.9" fill="#ee0400"/><rect x="125.5" y="311.2" width="1.7" height="1.7" fill="#36d81e"/><rect x="125.5" y="312.8" width="1.7" height="1.7" fill="#c1ea07"/><rect x="125.5" y="314.4" width="1.7" height="1.7" fill="#fe1800"/><rect x="125.5" y="316.0" width="1.7" height="1.7" fill="#ff7c00"/><rect x="125.5" y="317.6" width="1.7" height="1.7" fill="#003bf2"/><rect x="125.5" y="319.3" width="1.7" height="3.3" fill="#00bd6b"/><rect x="125.5" y="322.5" width="1.7" height="1.7" fill="#0088c0"/><rect x="125.5" y="324.1" width="1.7" height="3.3" fill="#001be8"/><rect x="125.5" y="327.3" width="1.7" height="1.7" fill="#000aca"/><rect x="125.5" y="328.9" width="1.7" height="1.7" fill="#0900a2"/><rect x="127.1" y="274.2" width="1.7" height="1.7" fill="#0900a2"/><rect x="127.1" y="275.8" width="1.7" height="1.7" fill="#000aca"/><rect x="127.1" y="277.5" width="1.7" height="1.7" fill="#001be8"/><rect x="127.1" y="279.1" width="1.7" height="1.7" fill="#003bf2"/><rect x="127.1" y="280.7" width="1.7" height="3.3" fill="#0088c0"/><rect x="127.1" y="283.9" width="1.7" height="1.7" fill="#00bd6b"/><rect x="127.1" y="285.5" width="1.7" height="1.7" fill="#f3c300"/><rect x="127.1" y="287.1" width="1.7" height="4.9" fill="#fe1800"/><rect x="127.1" y="291.9" width="1.7" height="1.7" fill="#ee0400"/><rect x="127.1" y="293.5" width="1.7" height="3.3" fill="#fe1800"/><rect x="127.1" y="296.7" width="1.7" height="1.7" fill="#ee0400"/><rect x="127.1" y="298.4" width="1.7" height="4.9" fill="#ff7c00"/><rect x="127.1" y="303.2" width="1.7" height="1.7" fill="#f60e00"/><rect x="127.1" y="304.8" width="1.7" height="1.7" fill="#fe1800"/><rect x="127.1" y="306.4" width="1.7" height="1.7" fill="#ee0400"/><rect x="127.1" y="308.0" width="1.7" height="1.7" fill="#f3c300"/><rect x="127.1" y="309.6" width="1.7" height="1.7" fill="#fe1800"/><rect x="127.1" y="311.2" width="1.7" height="1.7" fill="#36d81e"/><rect x="127.1" y="312.8" width="1.7" height="1.7" fill="#f3c300"/><rect x="127.1" y="314.4" width="1.7" height="1.7" fill="#fe1800"/><rect x="127.1" y="316.0" width="1.7" height="1.7" fill="#00bd6b"/><rect x="127.1" y="317.6" width="1.7" height="1.7" fill="#001be8"/><rect x="127.1" y="319.3" width="1.7" height="1.7" fill="#003bf2"/><rect x="127.1" y="320.9" width="1.7" height="3.3" fill="#001be8"/><rect x="128.7" y="275.8" width="1.7" height="1.7" fill="#0900a2"/><rect x="128.7" y="277.5" width="1.7" height="1.7" fill="#000aca"/><rect x="128.7" y="279.1" width="1.7" height="1.7" fill="#001be8"/><rect x="128.7" y="280.7" width="1.7" height="1.7" fill="#0088c0"/><rect x="128.7" y="282.3" width="1.7" height="1.7" fill="#003bf2"/><rect x="128.7" y="283.9" width="1.7" height="1.7" fill="#0088c0"/><rect x="128.7" y="285.5" width="1.7" height="3.3" fill="#c1ea07"/><rect x="128.7" y="288.7" width="1.7" height="1.7" fill="#fe1800"/><rect x="128.7" y="290.3" width="1.7" height="1.7" fill="#0088c0"/><rect x="128.7" y="291.9" width="1.7" height="1.7" fill="#f60e00"/><rect x="128.7" y="293.5" width="1.7" height="3.3" fill="#ff7c00"/><rect x="128.7" y="296.7" width="1.7" height="1.7" fill="#f3c300"/><rect x="128.7" y="298.4" width="1.7" height="1.7" fill="#ff7c00"/><rect x="128.7" y="300.0" width="1.7" height="1.7" fill="#f60e00"/><rect x="128.7" y="301.6" width="1.7" height="1.7" fill="#fe1800"/><rect x="128.7" y="303.2" width="1.7" height="1.7" fill="#f60e00"/><rect x="128.7" y="304.8" width="1.7" height="3.3" fill="#ff7c00"/><rect x="128.7" y="308.0" width="1.7" height="1.7" fill="#fe1800"/><rect x="128.7" y="309.6" width="1.7" height="3.3" fill="#ff7c00"/><rect x="128.7" y="312.8" width="1.7" height="1.7" fill="#36d81e"/><rect x="128.7" y="314.4" width="1.7" height="1.7" fill="#c1ea07"/><rect x="128.7" y="316.0" width="1.7" height="1.7" fill="#0088c0"/><rect x="128.7" y="317.6" width="1.7" height="1.7" fill="#003bf2"/><rect x="128.7" y="319.3" width="1.7" height="3.3" fill="#000aca"/><rect x="128.7" y="322.5" width="1.7" height="1.7" fill="#0900a2"/><rect x="130.3" y="269.4" width="1.7" height="3.3" fill="#0900a2"/><rect x="130.3" y="272.6" width="1.7" height="3.3" fill="#000aca"/><rect x="130.3" y="275.8" width="1.7" height="1.7" fill="#001be8"/><rect x="130.3" y="277.5" width="1.7" height="1.7" fill="#003bf2"/><rect x="130.3" y="279.1" width="1.7" height="1.7" fill="#0088c0"/><rect x="130.3" y="280.7" width="1.7" height="1.7" fill="#00bd6b"/><rect x="130.3" y="282.3" width="1.7" height="3.3" fill="#c1ea07"/><rect x="130.3" y="285.5" width="1.7" height="1.7" fill="#fe1800"/><rect x="130.3" y="287.1" width="1.7" height="1.7" fill="#f3c300"/><rect x="130.3" y="288.7" width="1.7" height="1.7" fill="#fe1800"/><rect x="130.3" y="290.3" width="1.7" height="3.3" fill="#ee0400"/><rect x="130.3" y="293.5" width="1.7" height="1.7" fill="#f3c300"/><rect x="130.3" y="295.1" width="1.7" height="3.3" fill="#ee0400"/><rect x="130.3" y="298.4" width="1.7" height="1.7" fill="#fe1800"/><rect x="130.3" y="300.0" width="1.7" height="1.7" fill="#f60e00"/><rect x="130.3" y="301.6" width="1.7" height="3.3" fill="#ee0400"/><rect x="130.3" y="304.8" width="1.7" height="1.7" fill="#f60e00"/><rect x="130.3" y="306.4" width="1.7" height="3.3" fill="#f3c300"/><rect x="130.3" y="309.6" width="1.7" height="3.3" fill="#f60e00"/><rect x="130.3" y="312.8" width="1.7" height="1.7" fill="#c1ea07"/><rect x="130.3" y="314.4" width="1.7" height="3.3" fill="#36d81e"/><rect x="130.3" y="317.6" width="1.7" height="1.7" fill="#0088c0"/><rect x="130.3" y="319.3" width="1.7" height="1.7" fill="#00bd6b"/><rect x="130.3" y="320.9" width="1.7" height="1.7" fill="#0088c0"/><rect x="130.3" y="322.5" width="1.7" height="1.7" fill="#001be8"/><rect x="130.3" y="324.1" width="1.7" height="3.3" fill="#000aca"/><rect x="131.9" y="272.6" width="1.7" height="3.3" fill="#000aca"/><rect x="131.9" y="275.8" width="1.7" height="3.3" fill="#001be8"/><rect x="131.9" y="279.1" width="1.7" height="1.7" fill="#00bd6b"/><rect x="131.9" y="280.7" width="1.7" height="1.7" fill="#0088c0"/><rect x="131.9" y="282.3" width="1.7" height="1.7" fill="#00bd6b"/><rect x="131.9" y="283.9" width="1.7" height="3.3" fill="#ff7c00"/><rect x="131.9" y="287.1" width="1.7" height="1.7" fill="#c1ea07"/><rect x="131.9" y="288.7" width="1.7" height="1.7" fill="#f3c300"/><rect x="131.9" y="290.3" width="1.7" height="1.7" fill="#ee0400"/><rect x="131.9" y="291.9" width="1.7" height="1.7" fill="#f60e00"/><rect x="131.9" y="293.5" width="1.7" height="1.7" fill="#ee0400"/><rect x="131.9" y="295.1" width="1.7" height="1.7" fill="#ff7c00"/><rect x="131.9" y="296.7" width="1.7" height="4.9" fill="#fe1800"/><rect x="131.9" y="301.6" width="1.7" height="1.7" fill="#ee0400"/><rect x="131.9" y="303.2" width="1.7" height="1.7" fill="#f60e00"/><rect x="131.9" y="304.8" width="1.7" height="1.7" fill="#f3c300"/><rect x="131.9" y="306.4" width="1.7" height="1.7" fill="#ff7c00"/><rect x="131.9" y="308.0" width="1.7" height="1.7" fill="#fe1800"/><rect x="131.9" y="309.6" width="1.7" height="1.7" fill="#ff7c00"/><rect x="131.9" y="311.2" width="1.7" height="1.7" fill="#ee0400"/><rect x="131.9" y="312.8" width="1.7" height="1.7" fill="#f60e00"/><rect x="131.9" y="314.4" width="1.7" height="1.7" fill="#ff7c00"/><rect x="131.9" y="316.0" width="1.7" height="1.7" fill="#36d81e"/><rect x="131.9" y="317.6" width="1.7" height="1.7" fill="#f3c300"/><rect x="131.9" y="319.3" width="1.7" height="1.7" fill="#36d81e"/><rect x="131.9" y="320.9" width="1.7" height="1.7" fill="#003bf2"/><rect x="131.9" y="322.5" width="1.7" height="1.7" fill="#001be8"/><rect x="131.9" y="324.1" width="1.7" height="3.3" fill="#000aca"/><rect x="131.9" y="327.3" width="1.7" height="1.7" fill="#0900a2"/><rect x="133.5" y="274.2" width="1.7" height="1.7" fill="#0900a2"/><rect x="133.5" y="275.8" width="1.7" height="1.7" fill="#000aca"/><rect x="133.5" y="277.5" width="1.7" height="1.7" fill="#001be8"/><rect x="133.5" y="279.1" width="1.7" height="3.3" fill="#003bf2"/><rect x="133.5" y="282.3" width="1.7" height="1.7" fill="#0088c0"/><rect x="133.5" y="283.9" width="1.7" height="3.3" fill="#36d81e"/><rect x="133.5" y="287.1" width="1.7" height="1.7" fill="#f3c300"/><rect x="133.5" y="288.7" width="1.7" height="1.7" fill="#c1ea07"/><rect x="133.5" y="290.3" width="1.7" height="1.7" fill="#36d81e"/><rect x="133.5" y="291.9" width="1.7" height="1.7" fill="#fe1800"/><rect x="133.5" y="293.5" width="1.7" height="1.7" fill="#ff7c00"/><rect x="133.5" y="295.1" width="1.7" height="1.7" fill="#f60e00"/><rect x="133.5" y="296.7" width="1.7" height="1.7" fill="#ff7c00"/><rect x="133.5" y="298.4" width="1.7" height="1.7" fill="#f3c300"/><rect x="133.5" y="300.0" width="1.7" height="1.7" fill="#f60e00"/><rect x="133.5" y="301.6" width="1.7" height="1.7" fill="#fe1800"/><rect x="133.5" y="303.2" width="1.7" height="1.7" fill="#ee0400"/><rect x="133.5" y="304.8" width="1.7" height="1.7" fill="#f3c300"/><rect x="133.5" y="306.4" width="1.7" height="3.3" fill="#f60e00"/><rect x="133.5" y="309.6" width="1.7" height="3.3" fill="#f3c300"/><rect x="133.5" y="312.8" width="1.7" height="1.7" fill="#ff7c00"/><rect x="133.5" y="314.4" width="1.7" height="1.7" fill="#0088c0"/><rect x="133.5" y="316.0" width="1.7" height="1.7" fill="#00bd6b"/><rect x="133.5" y="317.6" width="1.7" height="1.7" fill="#0088c0"/><rect x="133.5" y="319.3" width="1.7" height="3.3" fill="#003bf2"/><rect x="133.5" y="322.5" width="1.7" height="1.7" fill="#001be8"/><rect x="133.5" y="324.1" width="1.7" height="3.3" fill="#000aca"/><rect x="135.1" y="274.2" width="1.7" height="1.7" fill="#0900a2"/><rect x="135.1" y="275.8" width="1.7" height="1.7" fill="#000aca"/><rect x="135.1" y="277.5" width="1.7" height="1.7" fill="#001be8"/><rect x="135.1" y="279.1" width="1.7" height="1.7" fill="#003bf2"/><rect x="135.1" y="280.7" width="1.7" height="1.7" fill="#001be8"/><rect x="135.1" y="282.3" width="1.7" height="1.7" fill="#003bf2"/><rect x="135.1" y="283.9" width="1.7" height="1.7" fill="#00bd6b"/><rect x="135.1" y="285.5" width="1.7" height="3.3" fill="#36d81e"/><rect x="135.1" y="288.7" width="1.7" height="1.7" fill="#f3c300"/><rect x="135.1" y="290.3" width="1.7" height="1.7" fill="#ff7c00"/><rect x="135.1" y="291.9" width="1.7" height="1.7" fill="#f60e00"/><rect x="135.1" y="293.5" width="1.7" height="1.7" fill="#36d81e"/><rect x="135.1" y="295.1" width="1.7" height="1.7" fill="#f60e00"/><rect x="135.1" y="296.7" width="1.7" height="1.7" fill="#f3c300"/><rect x="135.1" y="298.4" width="1.7" height="3.3" fill="#fe1800"/><rect x="135.1" y="301.6" width="1.7" height="3.3" fill="#ff7c00"/><rect x="135.1" y="304.8" width="1.7" height="4.9" fill="#f60e00"/><rect x="135.1" y="309.6" width="1.7" height="1.7" fill="#f3c300"/><rect x="135.1" y="311.2" width="1.7" height="1.7" fill="#ee0400"/><rect x="135.1" y="312.8" width="1.7" height="1.7" fill="#ff7c00"/><rect x="135.1" y="314.4" width="1.7" height="4.9" fill="#f3c300"/><rect x="135.1" y="319.3" width="1.7" height="1.7" fill="#00bd6b"/><rect x="135.1" y="320.9" width="1.7" height="1.7" fill="#0088c0"/><rect x="135.1" y="322.5" width="1.7" height="1.7" fill="#001be8"/><rect x="135.1" y="324.1" width="1.7" height="1.7" fill="#0088c0"/><rect x="135.1" y="325.7" width="1.7" height="1.7" fill="#001be8"/><rect x="135.1" y="327.3" width="1.7" height="1.7" fill="#000aca"/><rect x="135.1" y="328.9" width="1.7" height="1.7" fill="#0900a2"/><rect x="136.7" y="275.8" width="1.7" height="1.7" fill="#0900a2"/><rect x="136.7" y="277.5" width="1.7" height="3.3" fill="#000aca"/><rect x="136.7" y="280.7" width="1.7" height="4.9" fill="#003bf2"/><rect x="136.7" y="285.5" width="1.7" height="3.3" fill="#36d81e"/><rect x="136.7" y="288.7" width="1.7" height="1.7" fill="#f3c300"/><rect x="136.7" y="290.3" width="1.7" height="1.7" fill="#c1ea07"/><rect x="136.7" y="291.9" width="1.7" height="1.7" fill="#fe1800"/><rect x="136.7" y="293.5" width="1.7" height="1.7" fill="#f60e00"/><rect x="136.7" y="295.1" width="1.7" height="1.7" fill="#fe1800"/><rect x="136.7" y="296.7" width="1.7" height="1.7" fill="#ee0400"/><rect x="136.7" y="298.4" width="1.7" height="1.7" fill="#f3c300"/><rect x="136.7" y="300.0" width="1.7" height="3.3" fill="#fe1800"/><rect x="136.7" y="303.2" width="1.7" height="1.7" fill="#ff7c00"/><rect x="136.7" y="304.8" width="1.7" height="1.7" fill="#f60e00"/><rect x="136.7" y="306.4" width="1.7" height="1.7" fill="#c1ea07"/><rect x="136.7" y="308.0" width="1.7" height="3.3" fill="#f60e00"/><rect x="136.7" y="311.2" width="1.7" height="1.7" fill="#ee0400"/><rect x="136.7" y="312.8" width="1.7" height="1.7" fill="#f3c300"/><rect x="136.7" y="314.4" width="1.7" height="1.7" fill="#ff7c00"/><rect x="136.7" y="316.0" width="1.7" height="1.7" fill="#f60e00"/><rect x="136.7" y="317.6" width="1.7" height="1.7" fill="#f3c300"/><rect x="136.7" y="319.3" width="1.7" height="1.7" fill="#36d81e"/><rect x="136.7" y="320.9" width="1.7" height="3.3" fill="#0088c0"/><rect x="136.7" y="324.1" width="1.7" height="3.3" fill="#001be8"/><rect x="136.7" y="327.3" width="1.7" height="3.3" fill="#000aca"/><rect x="138.3" y="275.8" width="1.7" height="1.7" fill="#000aca"/><rect x="138.3" y="277.5" width="1.7" height="3.3" fill="#001be8"/><rect x="138.3" y="280.7" width="1.7" height="3.3" fill="#0088c0"/><rect x="138.3" y="283.9" width="1.7" height="1.7" fill="#36d81e"/><rect x="138.3" y="285.5" width="1.7" height="1.7" fill="#c1ea07"/><rect x="138.3" y="287.1" width="1.7" height="1.7" fill="#f3c300"/><rect x="138.3" y="288.7" width="1.7" height="1.7" fill="#f60e00"/><rect x="138.3" y="290.3" width="1.7" height="1.7" fill="#ff7c00"/><rect x="138.3" y="291.9" width="1.7" height="3.3" fill="#f3c300"/><rect x="138.3" y="295.1" width="1.7" height="1.7" fill="#ff7c00"/><rect x="138.3" y="296.7" width="1.7" height="1.7" fill="#fe1800"/><rect x="138.3" y="298.4" width="1.7" height="1.7" fill="#f60e00"/><rect x="138.3" y="300.0" width="1.7" height="1.7" fill="#fe1800"/><rect x="138.3" y="301.6" width="1.7" height="1.7" fill="#ee0400"/><rect x="138.3" y="303.2" width="1.7" height="1.7" fill="#fe1800"/><rect x="138.3" y="304.8" width="1.7" height="1.7" fill="#ff7c00"/><rect x="138.3" y="306.4" width="1.7" height="1.7" fill="#c1ea07"/><rect x="138.3" y="308.0" width="1.7" height="1.7" fill="#ff7c00"/><rect x="138.3" y="309.6" width="1.7" height="6.5" fill="#f3c300"/><rect x="138.3" y="316.0" width="1.7" height="1.7" fill="#0088c0"/><rect x="138.3" y="317.6" width="1.7" height="1.7" fill="#c1ea07"/><rect x="138.3" y="319.3" width="1.7" height="1.7" fill="#003bf2"/><rect x="138.3" y="320.9" width="1.7" height="1.7" fill="#001be8"/><rect x="138.3" y="322.5" width="1.7" height="3.3" fill="#000aca"/><rect x="138.3" y="325.7" width="1.7" height="1.7" fill="#0900a2"/><rect x="139.9" y="274.2" width="1.7" height="3.3" fill="#000aca"/><rect x="139.9" y="277.5" width="1.7" height="3.3" fill="#001be8"/><rect x="139.9" y="280.7" width="1.7" height="1.7" fill="#0088c0"/><rect x="139.9" y="282.3" width="1.7" height="3.3" fill="#00bd6b"/><rect x="139.9" y="285.5" width="1.7" height="1.7" fill="#0088c0"/><rect x="139.9" y="287.1" width="1.7" height="1.7" fill="#f3c300"/><rect x="139.9" y="288.7" width="1.7" height="1.7" fill="#f60e00"/><rect x="139.9" y="290.3" width="1.7" height="1.7" fill="#f3c300"/><rect x="139.9" y="291.9" width="1.7" height="1.7" fill="#ff7c00"/><rect x="139.9" y="293.5" width="1.7" height="1.7" fill="#ee0400"/><rect x="139.9" y="295.1" width="1.7" height="1.7" fill="#f60e00"/><rect x="139.9" y="296.7" width="1.7" height="3.3" fill="#ee0400"/><rect x="139.9" y="300.0" width="1.7" height="1.7" fill="#f60e00"/><rect x="139.9" y="301.6" width="1.7" height="1.7" fill="#ff7c00"/><rect x="139.9" y="303.2" width="1.7" height="1.7" fill="#ee0400"/><rect x="139.9" y="304.8" width="1.7" height="1.7" fill="#fe1800"/><rect x="139.9" y="306.4" width="1.7" height="4.9" fill="#f60e00"/><rect x="139.9" y="311.2" width="1.7" height="1.7" fill="#ff7c00"/><rect x="139.9" y="312.8" width="1.7" height="1.7" fill="#f3c300"/><rect x="139.9" y="314.4" width="1.7" height="1.7" fill="#c1ea07"/><rect x="139.9" y="316.0" width="1.7" height="4.9" fill="#36d81e"/><rect x="139.9" y="320.9" width="1.7" height="1.7" fill="#00bd6b"/><rect x="139.9" y="322.5" width="1.7" height="3.3" fill="#001be8"/><rect x="139.9" y="325.7" width="1.7" height="1.7" fill="#000aca"/><rect x="139.9" y="327.3" width="1.7" height="1.7" fill="#0900a2"/><rect x="141.5" y="275.8" width="1.7" height="1.7" fill="#0900a2"/><rect x="141.5" y="277.5" width="1.7" height="1.7" fill="#000aca"/><rect x="141.5" y="279.1" width="1.7" height="1.7" fill="#001be8"/><rect x="141.5" y="280.7" width="1.7" height="3.3" fill="#003bf2"/><rect x="141.5" y="283.9" width="1.7" height="1.7" fill="#36d81e"/><rect x="141.5" y="285.5" width="1.7" height="1.7" fill="#c1ea07"/><rect x="141.5" y="287.1" width="1.7" height="3.3" fill="#f3c300"/><rect x="141.5" y="290.3" width="1.7" height="3.3" fill="#fe1800"/><rect x="141.5" y="293.5" width="1.7" height="1.7" fill="#c1ea07"/><rect x="141.5" y="295.1" width="1.7" height="1.7" fill="#ff7c00"/><rect x="141.5" y="296.7" width="1.7" height="1.7" fill="#f3c300"/><rect x="141.5" y="298.4" width="1.7" height="1.7" fill="#ff7c00"/><rect x="141.5" y="300.0" width="1.7" height="3.3" fill="#f60e00"/><rect x="141.5" y="303.2" width="1.7" height="1.7" fill="#00bd6b"/><rect x="141.5" y="304.8" width="1.7" height="1.7" fill="#f60e00"/><rect x="141.5" y="306.4" width="1.7" height="1.7" fill="#c1ea07"/><rect x="141.5" y="308.0" width="1.7" height="1.7" fill="#fe1800"/><rect x="141.5" y="309.6" width="1.7" height="1.7" fill="#f3c300"/><rect x="141.5" y="311.2" width="1.7" height="1.7" fill="#c1ea07"/><rect x="141.5" y="312.8" width="1.7" height="1.7" fill="#f3c300"/><rect x="141.5" y="314.4" width="1.7" height="4.9" fill="#c1ea07"/><rect x="141.5" y="319.3" width="1.7" height="3.3" fill="#0088c0"/><rect x="141.5" y="322.5" width="1.7" height="1.7" fill="#003bf2"/><rect x="141.5" y="324.1" width="1.7" height="1.7" fill="#001be8"/><rect x="141.5" y="325.7" width="1.7" height="3.3" fill="#000aca"/><rect x="143.1" y="274.2" width="1.7" height="1.7" fill="#0900a2"/><rect x="143.1" y="275.8" width="1.7" height="1.7" fill="#000aca"/><rect x="143.1" y="277.5" width="1.7" height="1.7" fill="#001be8"/><rect x="143.1" y="279.1" width="1.7" height="1.7" fill="#003bf2"/><rect x="143.1" y="280.7" width="1.7" height="1.7" fill="#0088c0"/><rect x="143.1" y="282.3" width="1.7" height="1.7" fill="#00bd6b"/><rect x="143.1" y="283.9" width="1.7" height="3.3" fill="#c1ea07"/><rect x="143.1" y="287.1" width="1.7" height="1.7" fill="#36d81e"/><rect x="143.1" y="288.7" width="1.7" height="1.7" fill="#c1ea07"/><rect x="143.1" y="290.3" width="1.7" height="1.7" fill="#fe1800"/><rect x="143.1" y="291.9" width="1.7" height="1.7" fill="#f60e00"/><rect x="143.1" y="293.5" width="1.7" height="3.3" fill="#ff7c00"/><rect x="143.1" y="296.7" width="1.7" height="1.7" fill="#fe1800"/><rect x="143.1" y="298.4" width="1.7" height="3.3" fill="#f3c300"/><rect x="143.1" y="301.6" width="1.7" height="1.7" fill="#ff7c00"/><rect x="143.1" y="303.2" width="1.7" height="1.7" fill="#c1ea07"/><rect x="143.1" y="304.8" width="1.7" height="1.7" fill="#ee0400"/><rect x="143.1" y="306.4" width="1.7" height="1.7" fill="#fe1800"/><rect x="143.1" y="308.0" width="1.7" height="1.7" fill="#f3c300"/><rect x="143.1" y="309.6" width="1.7" height="4.9" fill="#c1ea07"/><rect x="143.1" y="314.4" width="1.7" height="1.7" fill="#36d81e"/><rect x="143.1" y="316.0" width="1.7" height="1.7" fill="#003bf2"/><rect x="143.1" y="317.6" width="1.7" height="1.7" fill="#0088c0"/><rect x="143.1" y="319.3" width="1.7" height="1.7" fill="#001be8"/><rect x="143.1" y="320.9" width="1.7" height="1.7" fill="#000aca"/><rect x="143.1" y="322.5" width="1.7" height="1.7" fill="#0900a2"/><rect x="144.7" y="274.2" width="1.7" height="1.7" fill="#0900a2"/><rect x="144.7" y="275.8" width="1.7" height="1.7" fill="#001be8"/><rect x="144.7" y="277.5" width="1.7" height="3.3" fill="#003bf2"/><rect x="144.7" y="280.7" width="1.7" height="3.3" fill="#0088c0"/><rect x="144.7" y="283.9" width="1.7" height="1.7" fill="#f3c300"/><rect x="144.7" y="285.5" width="1.7" height="1.7" fill="#ff7c00"/><rect x="144.7" y="287.1" width="1.7" height="1.7" fill="#c1ea07"/><rect x="144.7" y="288.7" width="1.7" height="1.7" fill="#f3c300"/><rect x="144.7" y="290.3" width="1.7" height="3.3" fill="#f60e00"/><rect x="144.7" y="293.5" width="1.7" height="9.7" fill="#ee0400"/><rect x="144.7" y="303.2" width="1.7" height="3.3" fill="#f60e00"/><rect x="144.7" y="306.4" width="1.7" height="3.3" fill="#ee0400"/><rect x="144.7" y="309.6" width="1.7" height="1.7" fill="#f60e00"/><rect x="144.7" y="311.2" width="1.7" height="1.7" fill="#ee0400"/><rect x="144.7" y="312.8" width="1.7" height="3.3" fill="#ff7c00"/><rect x="144.7" y="316.0" width="1.7" height="1.7" fill="#fe1800"/><rect x="144.7" y="317.6" width="1.7" height="1.7" fill="#ff7c00"/><rect x="144.7" y="319.3" width="1.7" height="1.7" fill="#f3c300"/><rect x="144.7" y="320.9" width="1.7" height="3.3" fill="#36d81e"/><rect x="144.7" y="324.1" width="1.7" height="1.7" fill="#0088c0"/><rect x="144.7" y="325.7" width="1.7" height="1.7" fill="#003bf2"/><rect x="144.7" y="327.3" width="1.7" height="1.7" fill="#001be8"/><rect x="144.7" y="328.9" width="1.7" height="3.3" fill="#000aca"/><rect x="146.3" y="279.1" width="1.7" height="1.7" fill="#0900a2"/><rect x="146.3" y="280.7" width="1.7" height="3.3" fill="#000aca"/><rect x="146.3" y="283.9" width="1.7" height="1.7" fill="#001be8"/><rect x="146.3" y="285.5" width="1.7" height="3.3" fill="#0088c0"/><rect x="146.3" y="288.7" width="1.7" height="1.7" fill="#c1ea07"/><rect x="146.3" y="290.3" width="1.7" height="1.7" fill="#36d81e"/><rect x="146.3" y="291.9" width="1.7" height="1.7" fill="#c1ea07"/><rect x="146.3" y="293.5" width="1.7" height="1.7" fill="#fe1800"/><rect x="146.3" y="295.1" width="1.7" height="1.7" fill="#ff7c00"/><rect x="146.3" y="296.7" width="1.7" height="1.7" fill="#c1ea07"/><rect x="146.3" y="298.4" width="1.7" height="1.7" fill="#ee0400"/><rect x="146.3" y="300.0" width="1.7" height="1.7" fill="#f60e00"/><rect x="146.3" y="301.6" width="1.7" height="3.3" fill="#fe1800"/><rect x="146.3" y="304.8" width="1.7" height="1.7" fill="#f3c300"/><rect x="146.3" y="306.4" width="1.7" height="1.7" fill="#ff7c00"/><rect x="146.3" y="308.0" width="1.7" height="1.7" fill="#f3c300"/><rect x="146.3" y="309.6" width="1.7" height="3.3" fill="#fe1800"/><rect x="146.3" y="312.8" width="1.7" height="3.3" fill="#c1ea07"/><rect x="146.3" y="316.0" width="1.7" height="4.9" fill="#36d81e"/><rect x="146.3" y="320.9" width="1.7" height="1.7" fill="#0088c0"/><rect x="146.3" y="322.5" width="1.7" height="1.7" fill="#003bf2"/><rect x="146.3" y="324.1" width="1.7" height="1.7" fill="#001be8"/><rect x="146.3" y="325.7" width="1.7" height="1.7" fill="#000aca"/><rect x="146.3" y="327.3" width="1.7" height="1.7" fill="#0900a2"/><rect x="147.9" y="274.2" width="1.7" height="3.3" fill="#000aca"/><rect x="147.9" y="277.5" width="1.7" height="1.7" fill="#001be8"/><rect x="147.9" y="279.1" width="1.7" height="4.9" fill="#003bf2"/><rect x="147.9" y="283.9" width="1.7" height="1.7" fill="#36d81e"/><rect x="147.9" y="285.5" width="1.7" height="1.7" fill="#fe1800"/><rect x="147.9" y="287.1" width="1.7" height="4.9" fill="#ff7c00"/><rect x="147.9" y="291.9" width="1.7" height="1.7" fill="#fe1800"/><rect x="147.9" y="293.5" width="1.7" height="1.7" fill="#ff7c00"/><rect x="147.9" y="295.1" width="1.7" height="1.7" fill="#f3c300"/><rect x="147.9" y="296.7" width="1.7" height="1.7" fill="#ee0400"/><rect x="147.9" y="298.4" width="1.7" height="1.7" fill="#ff7c00"/><rect x="147.9" y="300.0" width="1.7" height="1.7" fill="#fe1800"/><rect x="147.9" y="301.6" width="1.7" height="1.7" fill="#ee0400"/><rect x="147.9" y="303.2" width="1.7" height="1.7" fill="#ff7c00"/><rect x="147.9" y="304.8" width="1.7" height="3.3" fill="#ee0400"/><rect x="147.9" y="308.0" width="1.7" height="1.7" fill="#f60e00"/><rect x="147.9" y="309.6" width="1.7" height="1.7" fill="#ee0400"/><rect x="147.9" y="311.2" width="1.7" height="1.7" fill="#f3c300"/><rect x="147.9" y="312.8" width="1.7" height="1.7" fill="#fe1800"/><rect x="147.9" y="314.4" width="1.7" height="1.7" fill="#f3c300"/><rect x="147.9" y="316.0" width="1.7" height="3.3" fill="#c1ea07"/><rect x="147.9" y="319.3" width="1.7" height="1.7" fill="#0088c0"/><rect x="147.9" y="320.9" width="1.7" height="1.7" fill="#003bf2"/><rect x="147.9" y="322.5" width="1.7" height="4.9" fill="#001be8"/><rect x="147.9" y="327.3" width="1.7" height="1.7" fill="#000aca"/><rect x="147.9" y="328.9" width="1.7" height="1.7" fill="#0900a2"/><rect x="149.5" y="274.2" width="1.7" height="4.9" fill="#000aca"/><rect x="149.5" y="279.1" width="1.7" height="1.7" fill="#003bf2"/><rect x="149.5" y="280.7" width="1.7" height="1.7" fill="#0088c0"/><rect x="149.5" y="282.3" width="1.7" height="4.9" fill="#00bd6b"/><rect x="149.5" y="287.1" width="1.7" height="1.7" fill="#fe1800"/><rect x="149.5" y="288.7" width="1.7" height="1.7" fill="#ff7c00"/><rect x="149.5" y="290.3" width="1.7" height="1.7" fill="#f60e00"/><rect x="149.5" y="291.9" width="1.7" height="1.7" fill="#f3c300"/><rect x="149.5" y="293.5" width="1.7" height="1.7" fill="#ff7c00"/><rect x="149.5" y="295.1" width="1.7" height="6.5" fill="#ee0400"/><rect x="149.5" y="301.6" width="1.7" height="1.7" fill="#f60e00"/><rect x="149.5" y="303.2" width="1.7" height="6.5" fill="#ee0400"/><rect x="149.5" y="309.6" width="1.7" height="1.7" fill="#fe1800"/><rect x="149.5" y="311.2" width="1.7" height="3.3" fill="#ee0400"/><rect x="149.5" y="314.4" width="1.7" height="1.7" fill="#c1ea07"/><rect x="149.5" y="316.0" width="1.7" height="1.7" fill="#fe1800"/><rect x="149.5" y="317.6" width="1.7" height="1.7" fill="#c1ea07"/><rect x="149.5" y="319.3" width="1.7" height="1.7" fill="#36d81e"/><rect x="149.5" y="320.9" width="1.7" height="1.7" fill="#00bd6b"/><rect x="149.5" y="322.5" width="1.7" height="1.7" fill="#36d81e"/><rect x="149.5" y="324.1" width="1.7" height="3.3" fill="#003bf2"/><rect x="149.5" y="327.3" width="1.7" height="1.7" fill="#001be8"/><rect x="149.5" y="328.9" width="1.7" height="3.3" fill="#000aca"/><rect x="149.5" y="332.1" width="1.7" height="1.7" fill="#0900a2"/><rect x="151.1" y="269.4" width="1.7" height="1.7" fill="#0900a2"/><rect x="151.1" y="271.0" width="1.7" height="3.3" fill="#000aca"/><rect x="151.1" y="274.2" width="1.7" height="3.3" fill="#001be8"/><rect x="151.1" y="277.5" width="1.7" height="1.7" fill="#0088c0"/><rect x="151.1" y="279.1" width="1.7" height="1.7" fill="#003bf2"/><rect x="151.1" y="280.7" width="1.7" height="1.7" fill="#36d81e"/><rect x="151.1" y="282.3" width="1.7" height="1.7" fill="#0088c0"/><rect x="151.1" y="283.9" width="1.7" height="1.7" fill="#f3c300"/><rect x="151.1" y="285.5" width="1.7" height="1.7" fill="#c1ea07"/><rect x="151.1" y="287.1" width="1.7" height="1.7" fill="#ff7c00"/><rect x="151.1" y="288.7" width="1.7" height="1.7" fill="#f3c300"/><rect x="151.1" y="290.3" width="1.7" height="1.7" fill="#ff7c00"/><rect x="151.1" y="291.9" width="1.7" height="1.7" fill="#f3c300"/><rect x="151.1" y="293.5" width="1.7" height="1.7" fill="#ff7c00"/><rect x="151.1" y="295.1" width="1.7" height="1.7" fill="#f60e00"/><rect x="151.1" y="296.7" width="1.7" height="3.3" fill="#ee0400"/><rect x="151.1" y="300.0" width="1.7" height="1.7" fill="#f60e00"/><rect x="151.1" y="301.6" width="1.7" height="1.7" fill="#ff7c00"/><rect x="151.1" y="303.2" width="1.7" height="1.7" fill="#f60e00"/><rect x="151.1" y="304.8" width="1.7" height="1.7" fill="#ee0400"/><rect x="151.1" y="306.4" width="1.7" height="3.3" fill="#fe1800"/><rect x="151.1" y="309.6" width="1.7" height="1.7" fill="#ee0400"/><rect x="151.1" y="311.2" width="1.7" height="1.7" fill="#fe1800"/><rect x="151.1" y="312.8" width="1.7" height="1.7" fill="#f60e00"/><rect x="151.1" y="314.4" width="1.7" height="1.7" fill="#c1ea07"/><rect x="151.1" y="316.0" width="1.7" height="4.9" fill="#00bd6b"/><rect x="151.1" y="320.9" width="1.7" height="1.7" fill="#001be8"/><rect x="151.1" y="322.5" width="1.7" height="1.7" fill="#003bf2"/><rect x="151.1" y="324.1" width="1.7" height="3.3" fill="#001be8"/><rect x="151.1" y="327.3" width="1.7" height="1.7" fill="#000aca"/><rect x="152.7" y="279.1" width="1.7" height="1.7" fill="#0900a2"/><rect x="152.7" y="280.7" width="1.7" height="1.7" fill="#000aca"/><rect x="152.7" y="282.3" width="1.7" height="1.7" fill="#001be8"/><rect x="152.7" y="283.9" width="1.7" height="1.7" fill="#003bf2"/><rect x="152.7" y="285.5" width="1.7" height="3.3" fill="#0088c0"/><rect x="152.7" y="288.7" width="1.7" height="1.7" fill="#c1ea07"/><rect x="152.7" y="290.3" width="1.7" height="1.7" fill="#36d81e"/><rect x="152.7" y="291.9" width="1.7" height="1.7" fill="#c1ea07"/><rect x="152.7" y="293.5" width="1.7" height="3.3" fill="#f3c300"/><rect x="152.7" y="296.7" width="1.7" height="1.7" fill="#fe1800"/><rect x="152.7" y="298.4" width="1.7" height="3.3" fill="#f3c300"/><rect x="152.7" y="301.6" width="1.7" height="1.7" fill="#ff7c00"/><rect x="152.7" y="303.2" width="1.7" height="1.7" fill="#ee0400"/><rect x="152.7" y="304.8" width="1.7" height="1.7" fill="#c1ea07"/><rect x="152.7" y="306.4" width="1.7" height="1.7" fill="#ee0400"/><rect x="152.7" y="308.0" width="1.7" height="1.7" fill="#fe1800"/><rect x="152.7" y="309.6" width="1.7" height="1.7" fill="#c1ea07"/><rect x="152.7" y="311.2" width="1.7" height="3.3" fill="#ff7c00"/><rect x="152.7" y="314.4" width="1.7" height="1.7" fill="#fe1800"/><rect x="152.7" y="316.0" width="1.7" height="3.3" fill="#36d81e"/><rect x="152.7" y="319.3" width="1.7" height="1.7" fill="#00bd6b"/><rect x="152.7" y="320.9" width="1.7" height="1.7" fill="#003bf2"/><rect x="152.7" y="322.5" width="1.7" height="1.7" fill="#001be8"/><rect x="152.7" y="324.1" width="1.7" height="3.3" fill="#000aca"/><rect x="152.7" y="327.3" width="1.7" height="1.7" fill="#0900a2"/><rect x="154.3" y="269.4" width="1.7" height="3.3" fill="#0900a2"/><rect x="154.3" y="272.6" width="1.7" height="1.7" fill="#000aca"/><rect x="154.3" y="274.2" width="1.7" height="1.7" fill="#001be8"/><rect x="154.3" y="275.8" width="1.7" height="3.3" fill="#0088c0"/><rect x="154.3" y="279.1" width="1.7" height="1.7" fill="#36d81e"/><rect x="154.3" y="280.7" width="1.7" height="1.7" fill="#00bd6b"/><rect x="154.3" y="282.3" width="1.7" height="1.7" fill="#f60e00"/><rect x="154.3" y="283.9" width="1.7" height="3.3" fill="#f3c300"/><rect x="154.3" y="287.1" width="1.7" height="4.9" fill="#ee0400"/><rect x="154.3" y="291.9" width="1.7" height="1.7" fill="#f60e00"/><rect x="154.3" y="293.5" width="1.7" height="1.7" fill="#fe1800"/><rect x="154.3" y="295.1" width="1.7" height="1.7" fill="#ee0400"/><rect x="154.3" y="296.7" width="1.7" height="3.3" fill="#ff7c00"/><rect x="154.3" y="300.0" width="1.7" height="3.3" fill="#ee0400"/><rect x="154.3" y="303.2" width="1.7" height="1.7" fill="#ff7c00"/><rect x="154.3" y="304.8" width="1.7" height="8.1" fill="#ee0400"/><rect x="154.3" y="312.8" width="1.7" height="1.7" fill="#fe1800"/><rect x="154.3" y="314.4" width="1.7" height="1.7" fill="#ff7c00"/><rect x="154.3" y="316.0" width="1.7" height="1.7" fill="#00bd6b"/><rect x="154.3" y="317.6" width="1.7" height="1.7" fill="#c1ea07"/><rect x="154.3" y="319.3" width="1.7" height="1.7" fill="#0088c0"/><rect x="154.3" y="320.9" width="1.7" height="3.3" fill="#00bd6b"/><rect x="154.3" y="324.1" width="1.7" height="1.7" fill="#003bf2"/><rect x="154.3" y="325.7" width="1.7" height="3.3" fill="#000aca"/><rect x="155.9" y="274.2" width="1.7" height="1.7" fill="#0900a2"/><rect x="155.9" y="275.8" width="1.7" height="1.7" fill="#000aca"/><rect x="155.9" y="277.5" width="1.7" height="1.7" fill="#001be8"/><rect x="155.9" y="279.1" width="1.7" height="3.3" fill="#003bf2"/><rect x="155.9" y="282.3" width="1.7" height="1.7" fill="#0088c0"/><rect x="155.9" y="283.9" width="1.7" height="1.7" fill="#00bd6b"/><rect x="155.9" y="285.5" width="1.7" height="1.7" fill="#f3c300"/><rect x="155.9" y="287.1" width="1.7" height="3.3" fill="#c1ea07"/><rect x="155.9" y="290.3" width="1.7" height="1.7" fill="#ff7c00"/><rect x="155.9" y="291.9" width="1.7" height="1.7" fill="#f60e00"/><rect x="155.9" y="293.5" width="1.7" height="1.7" fill="#ee0400"/><rect x="155.9" y="295.1" width="1.7" height="1.7" fill="#ff7c00"/><rect x="155.9" y="296.7" width="1.7" height="3.3" fill="#f60e00"/><rect x="155.9" y="300.0" width="1.7" height="1.7" fill="#c1ea07"/><rect x="155.9" y="301.6" width="1.7" height="1.7" fill="#ff7c00"/><rect x="155.9" y="303.2" width="1.7" height="1.7" fill="#36d81e"/><rect x="155.9" y="304.8" width="1.7" height="1.7" fill="#c1ea07"/><rect x="155.9" y="306.4" width="1.7" height="1.7" fill="#ff7c00"/><rect x="155.9" y="308.0" width="1.7" height="4.9" fill="#f60e00"/><rect x="155.9" y="312.8" width="1.7" height="3.3" fill="#f3c300"/><rect x="155.9" y="316.0" width="1.7" height="1.7" fill="#c1ea07"/><rect x="155.9" y="317.6" width="1.7" height="1.7" fill="#00bd6b"/><rect x="155.9" y="319.3" width="1.7" height="1.7" fill="#003bf2"/><rect x="155.9" y="320.9" width="1.7" height="1.7" fill="#0088c0"/><rect x="155.9" y="322.5" width="1.7" height="1.7" fill="#001be8"/><rect x="155.9" y="324.1" width="1.7" height="3.3" fill="#000aca"/><rect x="157.5" y="275.8" width="1.7" height="3.3" fill="#0900a2"/><rect x="157.5" y="279.1" width="1.7" height="1.7" fill="#000aca"/><rect x="157.5" y="280.7" width="1.7" height="1.7" fill="#001be8"/><rect x="157.5" y="282.3" width="1.7" height="1.7" fill="#003bf2"/><rect x="157.5" y="283.9" width="1.7" height="1.7" fill="#0088c0"/><rect x="157.5" y="285.5" width="1.7" height="1.7" fill="#00bd6b"/><rect x="157.5" y="287.1" width="1.7" height="1.7" fill="#36d81e"/><rect x="157.5" y="288.7" width="1.7" height="1.7" fill="#00bd6b"/><rect x="157.5" y="290.3" width="1.7" height="1.7" fill="#c1ea07"/><rect x="157.5" y="291.9" width="1.7" height="1.7" fill="#f3c300"/><rect x="157.5" y="293.5" width="1.7" height="1.7" fill="#f60e00"/><rect x="157.5" y="295.1" width="1.7" height="1.7" fill="#ee0400"/><rect x="157.5" y="296.7" width="1.7" height="1.7" fill="#f3c300"/><rect x="157.5" y="298.4" width="1.7" height="1.7" fill="#fe1800"/><rect x="157.5" y="300.0" width="1.7" height="1.7" fill="#f3c300"/><rect x="157.5" y="301.6" width="1.7" height="1.7" fill="#f60e00"/><rect x="157.5" y="303.2" width="1.7" height="1.7" fill="#ee0400"/><rect x="157.5" y="304.8" width="1.7" height="1.7" fill="#ff7c00"/><rect x="157.5" y="306.4" width="1.7" height="1.7" fill="#fe1800"/><rect x="157.5" y="308.0" width="1.7" height="1.7" fill="#f60e00"/><rect x="157.5" y="309.6" width="1.7" height="1.7" fill="#ee0400"/><rect x="157.5" y="311.2" width="1.7" height="1.7" fill="#c1ea07"/><rect x="157.5" y="312.8" width="1.7" height="1.7" fill="#ff7c00"/><rect x="157.5" y="314.4" width="1.7" height="1.7" fill="#c1ea07"/><rect x="157.5" y="316.0" width="1.7" height="1.7" fill="#ff7c00"/><rect x="157.5" y="317.6" width="1.7" height="1.7" fill="#36d81e"/><rect x="157.5" y="319.3" width="1.7" height="1.7" fill="#00bd6b"/><rect x="157.5" y="320.9" width="1.7" height="1.7" fill="#0088c0"/><rect x="157.5" y="322.5" width="1.7" height="4.9" fill="#001be8"/><rect x="157.5" y="327.3" width="1.7" height="1.7" fill="#0900a2"/><rect x="159.1" y="277.5" width="1.7" height="1.7" fill="#0900a2"/><rect x="159.1" y="279.1" width="1.7" height="1.7" fill="#000aca"/><rect x="159.1" y="280.7" width="1.7" height="1.7" fill="#001be8"/><rect x="159.1" y="282.3" width="1.7" height="1.7" fill="#003bf2"/><rect x="159.1" y="283.9" width="1.7" height="1.7" fill="#0088c0"/><rect x="159.1" y="285.5" width="1.7" height="1.7" fill="#00bd6b"/><rect x="159.1" y="287.1" width="1.7" height="1.7" fill="#c1ea07"/><rect x="159.1" y="288.7" width="1.7" height="1.7" fill="#f3c300"/><rect x="159.1" y="290.3" width="1.7" height="1.7" fill="#ff7c00"/><rect x="159.1" y="291.9" width="1.7" height="1.7" fill="#fe1800"/><rect x="159.1" y="293.5" width="1.7" height="1.7" fill="#ff7c00"/><rect x="159.1" y="295.1" width="1.7" height="1.7" fill="#f3c300"/><rect x="159.1" y="296.7" width="1.7" height="1.7" fill="#00bd6b"/><rect x="159.1" y="298.4" width="1.7" height="1.7" fill="#f60e00"/><rect x="159.1" y="300.0" width="1.7" height="1.7" fill="#36d81e"/><rect x="159.1" y="301.6" width="1.7" height="1.7" fill="#f60e00"/><rect x="159.1" y="303.2" width="1.7" height="1.7" fill="#fe1800"/><rect x="159.1" y="304.8" width="1.7" height="1.7" fill="#f3c300"/><rect x="159.1" y="306.4" width="1.7" height="1.7" fill="#f60e00"/><rect x="159.1" y="308.0" width="1.7" height="1.7" fill="#ff7c00"/><rect x="159.1" y="309.6" width="1.7" height="1.7" fill="#f60e00"/><rect x="159.1" y="311.2" width="1.7" height="1.7" fill="#ee0400"/><rect x="159.1" y="312.8" width="1.7" height="1.7" fill="#c1ea07"/><rect x="159.1" y="314.4" width="1.7" height="1.7" fill="#ff7c00"/><rect x="159.1" y="316.0" width="1.7" height="1.7" fill="#00bd6b"/><rect x="159.1" y="317.6" width="1.7" height="1.7" fill="#003bf2"/><rect x="159.1" y="319.3" width="1.7" height="4.9" fill="#001be8"/><rect x="159.1" y="324.1" width="1.7" height="1.7" fill="#000aca"/><rect x="159.1" y="325.7" width="1.7" height="1.7" fill="#0900a2"/><rect x="160.7" y="274.2" width="1.7" height="1.7" fill="#0900a2"/><rect x="160.7" y="275.8" width="1.7" height="1.7" fill="#000aca"/><rect x="160.7" y="277.5" width="1.7" height="3.3" fill="#001be8"/><rect x="160.7" y="280.7" width="1.7" height="1.7" fill="#003bf2"/><rect x="160.7" y="282.3" width="1.7" height="1.7" fill="#0088c0"/><rect x="160.7" y="283.9" width="1.7" height="1.7" fill="#36d81e"/><rect x="160.7" y="285.5" width="1.7" height="1.7" fill="#00bd6b"/><rect x="160.7" y="287.1" width="1.7" height="1.7" fill="#c1ea07"/><rect x="160.7" y="288.7" width="1.7" height="1.7" fill="#36d81e"/><rect x="160.7" y="290.3" width="1.7" height="1.7" fill="#c1ea07"/><rect x="160.7" y="291.9" width="1.7" height="1.7" fill="#f60e00"/><rect x="160.7" y="293.5" width="1.7" height="1.7" fill="#ee0400"/><rect x="160.7" y="295.1" width="1.7" height="1.7" fill="#c1ea07"/><rect x="160.7" y="296.7" width="1.7" height="3.3" fill="#fe1800"/><rect x="160.7" y="300.0" width="1.7" height="1.7" fill="#c1ea07"/><rect x="160.7" y="301.6" width="1.7" height="1.7" fill="#f60e00"/><rect x="160.7" y="303.2" width="1.7" height="3.3" fill="#fe1800"/><rect x="160.7" y="306.4" width="1.7" height="1.7" fill="#f60e00"/><rect x="160.7" y="308.0" width="1.7" height="1.7" fill="#c1ea07"/><rect x="160.7" y="309.6" width="1.7" height="3.3" fill="#fe1800"/><rect x="160.7" y="312.8" width="1.7" height="3.3" fill="#c1ea07"/><rect x="160.7" y="316.0" width="1.7" height="1.7" fill="#f3c300"/><rect x="160.7" y="317.6" width="1.7" height="3.3" fill="#00bd6b"/><rect x="160.7" y="320.9" width="1.7" height="3.3" fill="#001be8"/><rect x="160.7" y="324.1" width="1.7" height="3.3" fill="#000aca"/><rect x="162.2" y="274.2" width="1.7" height="3.3" fill="#000aca"/><rect x="162.2" y="277.5" width="1.7" height="1.7" fill="#001be8"/><rect x="162.2" y="279.1" width="1.7" height="3.3" fill="#0088c0"/><rect x="162.2" y="282.3" width="1.7" height="3.3" fill="#00bd6b"/><rect x="162.2" y="285.5" width="1.7" height="1.7" fill="#c1ea07"/><rect x="162.2" y="287.1" width="1.7" height="4.9" fill="#ff7c00"/><rect x="162.2" y="291.9" width="1.7" height="4.9" fill="#f60e00"/><rect x="162.2" y="296.7" width="1.7" height="3.3" fill="#ee0400"/><rect x="162.2" y="300.0" width="1.7" height="1.7" fill="#fe1800"/><rect x="162.2" y="301.6" width="1.7" height="1.7" fill="#f60e00"/><rect x="162.2" y="303.2" width="1.7" height="3.3" fill="#ee0400"/><rect x="162.2" y="306.4" width="1.7" height="3.3" fill="#f60e00"/><rect x="162.2" y="309.6" width="1.7" height="1.7" fill="#ee0400"/><rect x="162.2" y="311.2" width="1.7" height="1.7" fill="#fe1800"/><rect x="162.2" y="312.8" width="1.7" height="1.7" fill="#ee0400"/><rect x="162.2" y="314.4" width="1.7" height="1.7" fill="#f3c300"/><rect x="162.2" y="316.0" width="1.7" height="1.7" fill="#ee0400"/><rect x="162.2" y="317.6" width="1.7" height="1.7" fill="#ff7c00"/><rect x="162.2" y="319.3" width="1.7" height="1.7" fill="#36d81e"/><rect x="162.2" y="320.9" width="1.7" height="1.7" fill="#c1ea07"/><rect x="162.2" y="322.5" width="1.7" height="1.7" fill="#00bd6b"/><rect x="162.2" y="324.1" width="1.7" height="1.7" fill="#0088c0"/><rect x="162.2" y="325.7" width="1.7" height="1.7" fill="#003bf2"/><rect x="162.2" y="327.3" width="1.7" height="4.9" fill="#000aca"/><rect x="163.8" y="275.8" width="1.7" height="3.3" fill="#0900a2"/><rect x="163.8" y="279.1" width="1.7" height="1.7" fill="#000aca"/><rect x="163.8" y="280.7" width="1.7" height="3.3" fill="#003bf2"/><rect x="163.8" y="283.9" width="1.7" height="1.7" fill="#0088c0"/><rect x="163.8" y="285.5" width="1.7" height="1.7" fill="#003bf2"/><rect x="163.8" y="287.1" width="1.7" height="1.7" fill="#c1ea07"/><rect x="163.8" y="288.7" width="1.7" height="3.3" fill="#f3c300"/><rect x="163.8" y="291.9" width="1.7" height="1.7" fill="#fe1800"/><rect x="163.8" y="293.5" width="1.7" height="1.7" fill="#ff7c00"/><rect x="163.8" y="295.1" width="1.7" height="1.7" fill="#f3c300"/><rect x="163.8" y="296.7" width="1.7" height="1.7" fill="#ee0400"/><rect x="163.8" y="298.4" width="1.7" height="1.7" fill="#f60e00"/><rect x="163.8" y="300.0" width="1.7" height="1.7" fill="#36d81e"/><rect x="163.8" y="301.6" width="1.7" height="1.7" fill="#fe1800"/><rect x="163.8" y="303.2" width="1.7" height="1.7" fill="#f60e00"/><rect x="163.8" y="304.8" width="1.7" height="1.7" fill="#fe1800"/><rect x="163.8" y="306.4" width="1.7" height="1.7" fill="#ee0400"/><rect x="163.8" y="308.0" width="1.7" height="1.7" fill="#fe1800"/><rect x="163.8" y="309.6" width="1.7" height="1.7" fill="#f60e00"/><rect x="163.8" y="311.2" width="1.7" height="3.3" fill="#ff7c00"/><rect x="163.8" y="314.4" width="1.7" height="1.7" fill="#0088c0"/><rect x="163.8" y="316.0" width="1.7" height="1.7" fill="#fe1800"/><rect x="163.8" y="317.6" width="1.7" height="4.9" fill="#36d81e"/><rect x="163.8" y="322.5" width="1.7" height="3.3" fill="#003bf2"/><rect x="163.8" y="325.7" width="1.7" height="1.7" fill="#001be8"/><rect x="163.8" y="327.3" width="1.7" height="1.7" fill="#000aca"/><rect x="163.8" y="328.9" width="1.7" height="1.7" fill="#0900a2"/><rect x="165.4" y="269.4" width="1.7" height="3.3" fill="#0900a2"/><rect x="165.4" y="272.6" width="1.7" height="1.7" fill="#000aca"/><rect x="165.4" y="274.2" width="1.7" height="1.7" fill="#001be8"/><rect x="165.4" y="275.8" width="1.7" height="3.3" fill="#003bf2"/><rect x="165.4" y="279.1" width="1.7" height="1.7" fill="#c1ea07"/><rect x="165.4" y="280.7" width="1.7" height="1.7" fill="#00bd6b"/><rect x="165.4" y="282.3" width="1.7" height="1.7" fill="#f3c300"/><rect x="165.4" y="283.9" width="1.7" height="1.7" fill="#ff7c00"/><rect x="165.4" y="285.5" width="1.7" height="3.3" fill="#ee0400"/><rect x="165.4" y="288.7" width="1.7" height="3.3" fill="#fe1800"/><rect x="165.4" y="291.9" width="1.7" height="4.9" fill="#ee0400"/><rect x="165.4" y="296.7" width="1.7" height="3.3" fill="#ff7c00"/><rect x="165.4" y="300.0" width="1.7" height="1.7" fill="#ee0400"/><rect x="165.4" y="301.6" width="1.7" height="1.7" fill="#fe1800"/><rect x="165.4" y="303.2" width="1.7" height="1.7" fill="#ee0400"/><rect x="165.4" y="304.8" width="1.7" height="1.7" fill="#ff7c00"/><rect x="165.4" y="306.4" width="1.7" height="1.7" fill="#ee0400"/><rect x="165.4" y="308.0" width="1.7" height="1.7" fill="#f3c300"/><rect x="165.4" y="309.6" width="1.7" height="1.7" fill="#fe1800"/><rect x="165.4" y="311.2" width="1.7" height="1.7" fill="#ee0400"/><rect x="165.4" y="312.8" width="1.7" height="1.7" fill="#fe1800"/><rect x="165.4" y="314.4" width="1.7" height="1.7" fill="#c1ea07"/><rect x="165.4" y="316.0" width="1.7" height="1.7" fill="#f3c300"/><rect x="165.4" y="317.6" width="1.7" height="1.7" fill="#0088c0"/><rect x="165.4" y="319.3" width="1.7" height="1.7" fill="#00bd6b"/><rect x="165.4" y="320.9" width="1.7" height="3.3" fill="#003bf2"/><rect x="165.4" y="324.1" width="1.7" height="1.7" fill="#001be8"/><rect x="165.4" y="325.7" width="1.7" height="3.3" fill="#000aca"/><rect x="165.4" y="328.9" width="1.7" height="1.7" fill="#0900a2"/><rect x="167.0" y="272.6" width="1.7" height="1.7" fill="#0900a2"/><rect x="167.0" y="274.2" width="1.7" height="1.7" fill="#000aca"/><rect x="167.0" y="275.8" width="1.7" height="4.9" fill="#001be8"/><rect x="167.0" y="280.7" width="1.7" height="1.7" fill="#0088c0"/><rect x="167.0" y="282.3" width="1.7" height="1.7" fill="#003bf2"/><rect x="167.0" y="283.9" width="1.7" height="1.7" fill="#0088c0"/><rect x="167.0" y="285.5" width="1.7" height="3.3" fill="#c1ea07"/><rect x="167.0" y="288.7" width="1.7" height="1.7" fill="#f3c300"/><rect x="167.0" y="290.3" width="1.7" height="1.7" fill="#fe1800"/><rect x="167.0" y="291.9" width="1.7" height="1.7" fill="#c1ea07"/><rect x="167.0" y="293.5" width="1.7" height="1.7" fill="#f3c300"/><rect x="167.0" y="295.1" width="1.7" height="1.7" fill="#ff7c00"/><rect x="167.0" y="296.7" width="1.7" height="1.7" fill="#fe1800"/><rect x="167.0" y="298.4" width="1.7" height="1.7" fill="#c1ea07"/><rect x="167.0" y="300.0" width="1.7" height="1.7" fill="#ff7c00"/><rect x="167.0" y="301.6" width="1.7" height="1.7" fill="#f3c300"/><rect x="167.0" y="303.2" width="1.7" height="1.7" fill="#f60e00"/><rect x="167.0" y="304.8" width="1.7" height="1.7" fill="#c1ea07"/><rect x="167.0" y="306.4" width="1.7" height="1.7" fill="#ee0400"/><rect x="167.0" y="308.0" width="1.7" height="1.7" fill="#ff7c00"/><rect x="167.0" y="309.6" width="1.7" height="1.7" fill="#fe1800"/><rect x="167.0" y="311.2" width="1.7" height="1.7" fill="#ee0400"/><rect x="167.0" y="312.8" width="1.7" height="1.7" fill="#ff7c00"/><rect x="167.0" y="314.4" width="1.7" height="1.7" fill="#fe1800"/><rect x="167.0" y="316.0" width="1.7" height="1.7" fill="#ee0400"/><rect x="167.0" y="317.6" width="1.7" height="3.3" fill="#fe1800"/><rect x="167.0" y="320.9" width="1.7" height="1.7" fill="#c1ea07"/><rect x="167.0" y="322.5" width="1.7" height="1.7" fill="#003bf2"/><rect x="167.0" y="324.1" width="1.7" height="1.7" fill="#0088c0"/><rect x="167.0" y="325.7" width="1.7" height="3.3" fill="#001be8"/><rect x="167.0" y="328.9" width="1.7" height="3.3" fill="#000aca"/><rect x="167.0" y="332.1" width="1.7" height="1.7" fill="#0900a2"/><rect x="168.6" y="279.1" width="1.7" height="3.3" fill="#0900a2"/><rect x="168.6" y="282.3" width="1.7" height="3.3" fill="#000aca"/><rect x="168.6" y="285.5" width="1.7" height="1.7" fill="#003bf2"/><rect x="168.6" y="287.1" width="1.7" height="1.7" fill="#0088c0"/><rect x="168.6" y="288.7" width="1.7" height="3.3" fill="#36d81e"/><rect x="168.6" y="291.9" width="1.7" height="1.7" fill="#ff7c00"/><rect x="168.6" y="293.5" width="1.7" height="1.7" fill="#00bd6b"/><rect x="168.6" y="295.1" width="1.7" height="1.7" fill="#f3c300"/><rect x="168.6" y="296.7" width="1.7" height="1.7" fill="#f60e00"/><rect x="168.6" y="298.4" width="1.7" height="1.7" fill="#f3c300"/><rect x="168.6" y="300.0" width="1.7" height="1.7" fill="#ee0400"/><rect x="168.6" y="301.6" width="1.7" height="1.7" fill="#f60e00"/><rect x="168.6" y="303.2" width="1.7" height="1.7" fill="#ff7c00"/><rect x="168.6" y="304.8" width="1.7" height="1.7" fill="#c1ea07"/><rect x="168.6" y="306.4" width="1.7" height="1.7" fill="#f60e00"/><rect x="168.6" y="308.0" width="1.7" height="1.7" fill="#fe1800"/><rect x="168.6" y="309.6" width="1.7" height="1.7" fill="#f3c300"/><rect x="168.6" y="311.2" width="1.7" height="1.7" fill="#ff7c00"/><rect x="168.6" y="312.8" width="1.7" height="1.7" fill="#ee0400"/><rect x="168.6" y="314.4" width="1.7" height="1.7" fill="#c1ea07"/><rect x="168.6" y="316.0" width="1.7" height="1.7" fill="#f3c300"/><rect x="168.6" y="317.6" width="1.7" height="3.3" fill="#00bd6b"/><rect x="168.6" y="320.9" width="1.7" height="3.3" fill="#003bf2"/><rect x="168.6" y="324.1" width="1.7" height="1.7" fill="#001be8"/><rect x="168.6" y="325.7" width="1.7" height="1.7" fill="#000aca"/><rect x="168.6" y="327.3" width="1.7" height="1.7" fill="#0900a2"/><rect x="170.2" y="275.8" width="1.7" height="4.9" fill="#000aca"/><rect x="170.2" y="280.7" width="1.7" height="3.3" fill="#001be8"/><rect x="170.2" y="283.9" width="1.7" height="1.7" fill="#003bf2"/><rect x="170.2" y="285.5" width="1.7" height="1.7" fill="#00bd6b"/><rect x="170.2" y="287.1" width="1.7" height="1.7" fill="#ff7c00"/><rect x="170.2" y="288.7" width="1.7" height="3.3" fill="#c1ea07"/><rect x="170.2" y="291.9" width="1.7" height="1.7" fill="#36d81e"/><rect x="170.2" y="293.5" width="1.7" height="1.7" fill="#ff7c00"/><rect x="170.2" y="295.1" width="1.7" height="1.7" fill="#fe1800"/><rect x="170.2" y="296.7" width="1.7" height="3.3" fill="#ee0400"/><rect x="170.2" y="300.0" width="1.7" height="1.7" fill="#fe1800"/><rect x="170.2" y="301.6" width="1.7" height="4.9" fill="#f60e00"/><rect x="170.2" y="306.4" width="1.7" height="1.7" fill="#ee0400"/><rect x="170.2" y="308.0" width="1.7" height="1.7" fill="#f60e00"/><rect x="170.2" y="309.6" width="1.7" height="1.7" fill="#c1ea07"/><rect x="170.2" y="311.2" width="1.7" height="1.7" fill="#ff7c00"/><rect x="170.2" y="312.8" width="1.7" height="1.7" fill="#fe1800"/><rect x="170.2" y="314.4" width="1.7" height="1.7" fill="#c1ea07"/><rect x="170.2" y="316.0" width="1.7" height="1.7" fill="#36d81e"/><rect x="170.2" y="317.6" width="1.7" height="1.7" fill="#c1ea07"/><rect x="170.2" y="319.3" width="1.7" height="3.3" fill="#0088c0"/><rect x="170.2" y="322.5" width="1.7" height="1.7" fill="#003bf2"/><rect x="170.2" y="324.1" width="1.7" height="1.7" fill="#001be8"/><rect x="170.2" y="325.7" width="1.7" height="3.3" fill="#000aca"/><rect x="171.8" y="280.7" width="1.7" height="3.3" fill="#000aca"/><rect x="171.8" y="283.9" width="1.7" height="3.3" fill="#001be8"/><rect x="171.8" y="287.1" width="1.7" height="1.7" fill="#00bd6b"/><rect x="171.8" y="288.7" width="1.7" height="1.7" fill="#003bf2"/><rect x="171.8" y="290.3" width="1.7" height="3.3" fill="#c1ea07"/><rect x="171.8" y="293.5" width="1.7" height="1.7" fill="#f3c300"/><rect x="171.8" y="295.1" width="1.7" height="1.7" fill="#ff7c00"/><rect x="171.8" y="296.7" width="1.7" height="1.7" fill="#fe1800"/><rect x="171.8" y="298.4" width="1.7" height="1.7" fill="#f3c300"/><rect x="171.8" y="300.0" width="1.7" height="3.3" fill="#fe1800"/><rect x="171.8" y="303.2" width="1.7" height="1.7" fill="#f3c300"/><rect x="171.8" y="304.8" width="1.7" height="1.7" fill="#ee0400"/><rect x="171.8" y="306.4" width="1.7" height="1.7" fill="#fe1800"/><rect x="171.8" y="308.0" width="1.7" height="3.3" fill="#f3c300"/><rect x="171.8" y="311.2" width="1.7" height="1.7" fill="#fe1800"/><rect x="171.8" y="312.8" width="1.7" height="1.7" fill="#f3c300"/><rect x="171.8" y="314.4" width="1.7" height="1.7" fill="#ff7c00"/><rect x="171.8" y="316.0" width="1.7" height="3.3" fill="#c1ea07"/><rect x="171.8" y="319.3" width="1.7" height="1.7" fill="#36d81e"/><rect x="171.8" y="320.9" width="1.7" height="3.3" fill="#0088c0"/><rect x="171.8" y="324.1" width="1.7" height="1.7" fill="#001be8"/><rect x="171.8" y="325.7" width="1.7" height="3.3" fill="#000aca"/><rect x="171.8" y="328.9" width="1.7" height="1.7" fill="#0900a2"/><rect x="173.4" y="274.2" width="1.7" height="4.9" fill="#000aca"/><rect x="173.4" y="279.1" width="1.7" height="1.7" fill="#001be8"/><rect x="173.4" y="280.7" width="1.7" height="1.7" fill="#003bf2"/><rect x="173.4" y="282.3" width="1.7" height="3.3" fill="#0088c0"/><rect x="173.4" y="285.5" width="1.7" height="1.7" fill="#00bd6b"/><rect x="173.4" y="287.1" width="1.7" height="1.7" fill="#c1ea07"/><rect x="173.4" y="288.7" width="1.7" height="1.7" fill="#ff7c00"/><rect x="173.4" y="290.3" width="1.7" height="4.9" fill="#fe1800"/><rect x="173.4" y="295.1" width="1.7" height="1.7" fill="#f3c300"/><rect x="173.4" y="296.7" width="1.7" height="1.7" fill="#ee0400"/><rect x="173.4" y="298.4" width="1.7" height="1.7" fill="#ff7c00"/><rect x="173.4" y="300.0" width="1.7" height="1.7" fill="#fe1800"/><rect x="173.4" y="301.6" width="1.7" height="1.7" fill="#ee0400"/><rect x="173.4" y="303.2" width="1.7" height="1.7" fill="#ff7c00"/><rect x="173.4" y="304.8" width="1.7" height="1.7" fill="#f3c300"/><rect x="173.4" y="306.4" width="1.7" height="1.7" fill="#f60e00"/><rect x="173.4" y="308.0" width="1.7" height="1.7" fill="#ff7c00"/><rect x="173.4" y="309.6" width="1.7" height="1.7" fill="#ee0400"/><rect x="173.4" y="311.2" width="1.7" height="1.7" fill="#c1ea07"/><rect x="173.4" y="312.8" width="1.7" height="3.3" fill="#ee0400"/><rect x="173.4" y="316.0" width="1.7" height="1.7" fill="#ff7c00"/><rect x="173.4" y="317.6" width="1.7" height="1.7" fill="#c1ea07"/><rect x="173.4" y="319.3" width="1.7" height="1.7" fill="#f3c300"/><rect x="173.4" y="320.9" width="1.7" height="1.7" fill="#36d81e"/><rect x="173.4" y="322.5" width="1.7" height="1.7" fill="#00bd6b"/><rect x="173.4" y="324.1" width="1.7" height="3.3" fill="#003bf2"/><rect x="173.4" y="327.3" width="1.7" height="1.7" fill="#001be8"/><rect x="173.4" y="328.9" width="1.7" height="1.7" fill="#000aca"/><rect x="173.4" y="330.5" width="1.7" height="1.7" fill="#0900a2"/><rect x="175.0" y="279.1" width="1.7" height="1.7" fill="#0900a2"/><rect x="175.0" y="280.7" width="1.7" height="3.3" fill="#000aca"/><rect x="175.0" y="283.9" width="1.7" height="3.3" fill="#003bf2"/><rect x="175.0" y="287.1" width="1.7" height="1.7" fill="#00bd6b"/><rect x="175.0" y="288.7" width="1.7" height="1.7" fill="#c1ea07"/><rect x="175.0" y="290.3" width="1.7" height="1.7" fill="#00bd6b"/><rect x="175.0" y="291.9" width="1.7" height="3.3" fill="#ff7c00"/><rect x="175.0" y="295.1" width="1.7" height="3.3" fill="#c1ea07"/><rect x="175.0" y="298.4" width="1.7" height="1.7" fill="#f3c300"/><rect x="175.0" y="300.0" width="1.7" height="1.7" fill="#ee0400"/><rect x="175.0" y="301.6" width="1.7" height="1.7" fill="#fe1800"/><rect x="175.0" y="303.2" width="1.7" height="4.9" fill="#f60e00"/><rect x="175.0" y="308.0" width="1.7" height="1.7" fill="#ee0400"/><rect x="175.0" y="309.6" width="1.7" height="4.9" fill="#fe1800"/><rect x="175.0" y="314.4" width="1.7" height="3.3" fill="#ff7c00"/><rect x="175.0" y="317.6" width="1.7" height="1.7" fill="#f3c300"/><rect x="175.0" y="319.3" width="1.7" height="1.7" fill="#c1ea07"/><rect x="175.0" y="320.9" width="1.7" height="3.3" fill="#0088c0"/><rect x="175.0" y="324.1" width="1.7" height="3.3" fill="#001be8"/><rect x="175.0" y="327.3" width="1.7" height="1.7" fill="#0900a2"/><rect x="176.6" y="274.2" width="1.7" height="1.7" fill="#0900a2"/><rect x="176.6" y="275.8" width="1.7" height="3.3" fill="#000aca"/><rect x="176.6" y="279.1" width="1.7" height="1.7" fill="#001be8"/><rect x="176.6" y="280.7" width="1.7" height="3.3" fill="#003bf2"/><rect x="176.6" y="283.9" width="1.7" height="1.7" fill="#00bd6b"/><rect x="176.6" y="285.5" width="1.7" height="3.3" fill="#c1ea07"/><rect x="176.6" y="288.7" width="1.7" height="1.7" fill="#ff7c00"/><rect x="176.6" y="290.3" width="1.7" height="1.7" fill="#f3c300"/><rect x="176.6" y="291.9" width="1.7" height="1.7" fill="#c1ea07"/><rect x="176.6" y="293.5" width="1.7" height="1.7" fill="#fe1800"/><rect x="176.6" y="295.1" width="1.7" height="1.7" fill="#c1ea07"/><rect x="176.6" y="296.7" width="1.7" height="1.7" fill="#f3c300"/><rect x="176.6" y="298.4" width="1.7" height="3.3" fill="#00bd6b"/><rect x="176.6" y="301.6" width="1.7" height="1.7" fill="#ff7c00"/><rect x="176.6" y="303.2" width="1.7" height="1.7" fill="#f60e00"/><rect x="176.6" y="304.8" width="1.7" height="1.7" fill="#ee0400"/><rect x="176.6" y="306.4" width="1.7" height="1.7" fill="#fe1800"/><rect x="176.6" y="308.0" width="1.7" height="1.7" fill="#ff7c00"/><rect x="176.6" y="309.6" width="1.7" height="1.7" fill="#fe1800"/><rect x="176.6" y="311.2" width="1.7" height="1.7" fill="#f3c300"/><rect x="176.6" y="312.8" width="1.7" height="1.7" fill="#c1ea07"/><rect x="176.6" y="314.4" width="1.7" height="3.3" fill="#f3c300"/><rect x="176.6" y="317.6" width="1.7" height="1.7" fill="#c1ea07"/><rect x="176.6" y="319.3" width="1.7" height="1.7" fill="#0088c0"/><rect x="176.6" y="320.9" width="1.7" height="1.7" fill="#36d81e"/><rect x="176.6" y="322.5" width="1.7" height="3.3" fill="#003bf2"/><rect x="176.6" y="325.7" width="1.7" height="3.3" fill="#001be8"/><rect x="176.6" y="328.9" width="1.7" height="1.7" fill="#000aca"/><rect x="176.6" y="330.5" width="1.7" height="1.7" fill="#0900a2"/><rect x="178.2" y="274.2" width="1.7" height="3.3" fill="#000aca"/><rect x="178.2" y="277.5" width="1.7" height="3.3" fill="#001be8"/><rect x="178.2" y="280.7" width="1.7" height="1.7" fill="#003bf2"/><rect x="178.2" y="282.3" width="1.7" height="1.7" fill="#0088c0"/><rect x="178.2" y="283.9" width="1.7" height="1.7" fill="#00bd6b"/><rect x="178.2" y="285.5" width="1.7" height="1.7" fill="#36d81e"/><rect x="178.2" y="287.1" width="1.7" height="1.7" fill="#f3c300"/><rect x="178.2" y="288.7" width="1.7" height="1.7" fill="#c1ea07"/><rect x="178.2" y="290.3" width="1.7" height="1.7" fill="#f3c300"/><rect x="178.2" y="291.9" width="1.7" height="1.7" fill="#f60e00"/><rect x="178.2" y="293.5" width="1.7" height="1.7" fill="#c1ea07"/><rect x="178.2" y="295.1" width="1.7" height="1.7" fill="#ff7c00"/><rect x="178.2" y="296.7" width="1.7" height="1.7" fill="#fe1800"/><rect x="178.2" y="298.4" width="1.7" height="1.7" fill="#f60e00"/><rect x="178.2" y="300.0" width="1.7" height="3.3" fill="#ee0400"/><rect x="178.2" y="303.2" width="1.7" height="1.7" fill="#fe1800"/><rect x="178.2" y="304.8" width="1.7" height="4.9" fill="#f60e00"/><rect x="178.2" y="309.6" width="1.7" height="1.7" fill="#fe1800"/><rect x="178.2" y="311.2" width="1.7" height="1.7" fill="#f60e00"/><rect x="178.2" y="312.8" width="1.7" height="1.7" fill="#ff7c00"/><rect x="178.2" y="314.4" width="1.7" height="1.7" fill="#36d81e"/><rect x="178.2" y="316.0" width="1.7" height="1.7" fill="#f3c300"/><rect x="178.2" y="317.6" width="1.7" height="1.7" fill="#c1ea07"/><rect x="178.2" y="319.3" width="1.7" height="3.3" fill="#0088c0"/><rect x="178.2" y="322.5" width="1.7" height="3.3" fill="#001be8"/><rect x="178.2" y="325.7" width="1.7" height="3.3" fill="#000aca"/><rect x="179.8" y="275.8" width="1.7" height="1.7" fill="#0900a2"/><rect x="179.8" y="277.5" width="1.7" height="3.3" fill="#000aca"/><rect x="179.8" y="280.7" width="1.7" height="3.3" fill="#001be8"/><rect x="179.8" y="283.9" width="1.7" height="1.7" fill="#0088c0"/><rect x="179.8" y="285.5" width="1.7" height="1.7" fill="#36d81e"/><rect x="179.8" y="287.1" width="1.7" height="1.7" fill="#00bd6b"/><rect x="179.8" y="288.7" width="1.7" height="1.7" fill="#c1ea07"/><rect x="179.8" y="290.3" width="1.7" height="1.7" fill="#ff7c00"/><rect x="179.8" y="291.9" width="1.7" height="1.7" fill="#f3c300"/><rect x="179.8" y="293.5" width="1.7" height="1.7" fill="#ff7c00"/><rect x="179.8" y="295.1" width="1.7" height="1.7" fill="#fe1800"/><rect x="179.8" y="296.7" width="1.7" height="1.7" fill="#ee0400"/><rect x="179.8" y="298.4" width="1.7" height="1.7" fill="#00bd6b"/><rect x="179.8" y="300.0" width="1.7" height="1.7" fill="#f60e00"/><rect x="179.8" y="301.6" width="1.7" height="1.7" fill="#ee0400"/><rect x="179.8" y="303.2" width="1.7" height="1.7" fill="#ff7c00"/><rect x="179.8" y="304.8" width="1.7" height="1.7" fill="#f60e00"/><rect x="179.8" y="306.4" width="1.7" height="1.7" fill="#ff7c00"/><rect x="179.8" y="308.0" width="1.7" height="4.9" fill="#f3c300"/><rect x="179.8" y="312.8" width="1.7" height="1.7" fill="#c1ea07"/><rect x="179.8" y="314.4" width="1.7" height="1.7" fill="#f3c300"/><rect x="179.8" y="316.0" width="1.7" height="1.7" fill="#f60e00"/><rect x="179.8" y="317.6" width="1.7" height="1.7" fill="#f3c300"/><rect x="179.8" y="319.3" width="1.7" height="1.7" fill="#c1ea07"/><rect x="179.8" y="320.9" width="1.7" height="1.7" fill="#00bd6b"/><rect x="179.8" y="322.5" width="1.7" height="1.7" fill="#001be8"/><rect x="179.8" y="324.1" width="1.7" height="1.7" fill="#0088c0"/><rect x="179.8" y="325.7" width="1.7" height="1.7" fill="#001be8"/><rect x="179.8" y="327.3" width="1.7" height="3.3" fill="#000aca"/><rect x="179.8" y="330.5" width="1.7" height="1.7" fill="#0900a2"/><rect x="181.4" y="277.5" width="1.7" height="1.7" fill="#0900a2"/><rect x="181.4" y="279.1" width="1.7" height="3.3" fill="#000aca"/><rect x="181.4" y="282.3" width="1.7" height="3.3" fill="#001be8"/><rect x="181.4" y="285.5" width="1.7" height="1.7" fill="#0088c0"/><rect x="181.4" y="287.1" width="1.7" height="1.7" fill="#c1ea07"/><rect x="181.4" y="288.7" width="1.7" height="1.7" fill="#00bd6b"/><rect x="181.4" y="290.3" width="1.7" height="1.7" fill="#f3c300"/><rect x="181.4" y="291.9" width="1.7" height="3.3" fill="#ff7c00"/><rect x="181.4" y="295.1" width="1.7" height="1.7" fill="#ee0400"/><rect x="181.4" y="296.7" width="1.7" height="1.7" fill="#fe1800"/><rect x="181.4" y="298.4" width="1.7" height="1.7" fill="#f60e00"/><rect x="181.4" y="300.0" width="1.7" height="1.7" fill="#c1ea07"/><rect x="181.4" y="301.6" width="1.7" height="1.7" fill="#fe1800"/><rect x="181.4" y="303.2" width="1.7" height="1.7" fill="#ee0400"/><rect x="181.4" y="304.8" width="1.7" height="3.3" fill="#fe1800"/><rect x="181.4" y="308.0" width="1.7" height="1.7" fill="#ff7c00"/><rect x="181.4" y="309.6" width="1.7" height="1.7" fill="#f3c300"/><rect x="181.4" y="311.2" width="1.7" height="1.7" fill="#f60e00"/><rect x="181.4" y="312.8" width="1.7" height="3.3" fill="#ff7c00"/><rect x="181.4" y="316.0" width="1.7" height="1.7" fill="#fe1800"/><rect x="181.4" y="317.6" width="1.7" height="1.7" fill="#c1ea07"/><rect x="181.4" y="319.3" width="1.7" height="1.7" fill="#00bd6b"/><rect x="181.4" y="320.9" width="1.7" height="1.7" fill="#0088c0"/><rect x="181.4" y="322.5" width="1.7" height="1.7" fill="#003bf2"/><rect x="181.4" y="324.1" width="1.7" height="1.7" fill="#001be8"/><rect x="181.4" y="325.7" width="1.7" height="3.3" fill="#000aca"/><rect x="181.4" y="328.9" width="1.7" height="1.7" fill="#0900a2"/><rect x="183.0" y="274.2" width="1.7" height="4.9" fill="#000aca"/><rect x="183.0" y="279.1" width="1.7" height="1.7" fill="#001be8"/><rect x="183.0" y="280.7" width="1.7" height="3.3" fill="#003bf2"/><rect x="183.0" y="283.9" width="1.7" height="3.3" fill="#00bd6b"/><rect x="183.0" y="287.1" width="1.7" height="1.7" fill="#f3c300"/><rect x="183.0" y="288.7" width="1.7" height="1.7" fill="#c1ea07"/><rect x="183.0" y="290.3" width="1.7" height="1.7" fill="#00bd6b"/><rect x="183.0" y="291.9" width="1.7" height="1.7" fill="#ff7c00"/><rect x="183.0" y="293.5" width="1.7" height="1.7" fill="#f3c300"/><rect x="183.0" y="295.1" width="1.7" height="1.7" fill="#ff7c00"/><rect x="183.0" y="296.7" width="1.7" height="1.7" fill="#f60e00"/><rect x="183.0" y="298.4" width="1.7" height="4.9" fill="#ee0400"/><rect x="183.0" y="303.2" width="1.7" height="1.7" fill="#fe1800"/><rect x="183.0" y="304.8" width="1.7" height="1.7" fill="#f60e00"/><rect x="183.0" y="306.4" width="1.7" height="1.7" fill="#ee0400"/><rect x="183.0" y="308.0" width="1.7" height="1.7" fill="#f60e00"/><rect x="183.0" y="309.6" width="1.7" height="1.7" fill="#ff7c00"/><rect x="183.0" y="311.2" width="1.7" height="1.7" fill="#fe1800"/><rect x="183.0" y="312.8" width="1.7" height="1.7" fill="#f60e00"/><rect x="183.0" y="314.4" width="1.7" height="1.7" fill="#fe1800"/><rect x="183.0" y="316.0" width="1.7" height="1.7" fill="#ff7c00"/><rect x="183.0" y="317.6" width="1.7" height="1.7" fill="#ee0400"/><rect x="183.0" y="319.3" width="1.7" height="1.7" fill="#f3c300"/><rect x="183.0" y="320.9" width="1.7" height="1.7" fill="#c1ea07"/><rect x="183.0" y="322.5" width="1.7" height="1.7" fill="#36d81e"/><rect x="183.0" y="324.1" width="1.7" height="1.7" fill="#00bd6b"/><rect x="183.0" y="325.7" width="1.7" height="1.7" fill="#003bf2"/><rect x="183.0" y="327.3" width="1.7" height="3.3" fill="#001be8"/><rect x="183.0" y="330.5" width="1.7" height="1.7" fill="#000aca"/><rect x="183.0" y="332.1" width="1.7" height="3.3" fill="#0900a2"/><rect x="184.6" y="277.5" width="1.7" height="1.7" fill="#0900a2"/><rect x="184.6" y="279.1" width="1.7" height="3.3" fill="#000aca"/><rect x="184.6" y="282.3" width="1.7" height="1.7" fill="#001be8"/><rect x="184.6" y="283.9" width="1.7" height="1.7" fill="#003bf2"/><rect x="184.6" y="285.5" width="1.7" height="1.7" fill="#00bd6b"/><rect x="184.6" y="287.1" width="1.7" height="3.3" fill="#36d81e"/><rect x="184.6" y="290.3" width="1.7" height="3.3" fill="#f3c300"/><rect x="184.6" y="293.5" width="1.7" height="1.7" fill="#c1ea07"/><rect x="184.6" y="295.1" width="1.7" height="1.7" fill="#ee0400"/><rect x="184.6" y="296.7" width="1.7" height="1.7" fill="#fe1800"/><rect x="184.6" y="298.4" width="1.7" height="1.7" fill="#ee0400"/><rect x="184.6" y="300.0" width="1.7" height="1.7" fill="#ff7c00"/><rect x="184.6" y="301.6" width="1.7" height="1.7" fill="#ee0400"/><rect x="184.6" y="303.2" width="1.7" height="3.3" fill="#f60e00"/><rect x="184.6" y="306.4" width="1.7" height="4.9" fill="#ee0400"/><rect x="184.6" y="311.2" width="1.7" height="1.7" fill="#fe1800"/><rect x="184.6" y="312.8" width="1.7" height="1.7" fill="#ee0400"/><rect x="184.6" y="314.4" width="1.7" height="1.7" fill="#ff7c00"/><rect x="184.6" y="316.0" width="1.7" height="1.7" fill="#f3c300"/><rect x="184.6" y="317.6" width="1.7" height="1.7" fill="#c1ea07"/><rect x="184.6" y="319.3" width="1.7" height="1.7" fill="#ff7c00"/><rect x="184.6" y="320.9" width="1.7" height="1.7" fill="#00bd6b"/><rect x="184.6" y="322.5" width="1.7" height="1.7" fill="#0088c0"/><rect x="184.6" y="324.1" width="1.7" height="1.7" fill="#001be8"/><rect x="184.6" y="325.7" width="1.7" height="3.3" fill="#000aca"/><rect x="186.2" y="279.1" width="1.7" height="1.7" fill="#000aca"/><rect x="186.2" y="280.7" width="1.7" height="3.3" fill="#001be8"/><rect x="186.2" y="283.9" width="1.7" height="3.3" fill="#0088c0"/><rect x="186.2" y="287.1" width="1.7" height="1.7" fill="#c1ea07"/><rect x="186.2" y="288.7" width="1.7" height="1.7" fill="#f3c300"/><rect x="186.2" y="290.3" width="1.7" height="1.7" fill="#ff7c00"/><rect x="186.2" y="291.9" width="1.7" height="1.7" fill="#ee0400"/><rect x="186.2" y="293.5" width="1.7" height="1.7" fill="#f60e00"/><rect x="186.2" y="295.1" width="1.7" height="3.3" fill="#ee0400"/><rect x="186.2" y="298.4" width="1.7" height="3.3" fill="#fe1800"/><rect x="186.2" y="301.6" width="1.7" height="1.7" fill="#ff7c00"/><rect x="186.2" y="303.2" width="1.7" height="1.7" fill="#fe1800"/><rect x="186.2" y="304.8" width="1.7" height="1.7" fill="#f60e00"/><rect x="186.2" y="306.4" width="1.7" height="1.7" fill="#ee0400"/><rect x="186.2" y="308.0" width="1.7" height="1.7" fill="#ff7c00"/><rect x="186.2" y="309.6" width="1.7" height="1.7" fill="#f3c300"/><rect x="186.2" y="311.2" width="1.7" height="1.7" fill="#fe1800"/><rect x="186.2" y="312.8" width="1.7" height="1.7" fill="#f60e00"/><rect x="186.2" y="314.4" width="1.7" height="1.7" fill="#f3c300"/><rect x="186.2" y="316.0" width="1.7" height="1.7" fill="#ff7c00"/><rect x="186.2" y="317.6" width="1.7" height="1.7" fill="#36d81e"/><rect x="186.2" y="319.3" width="1.7" height="1.7" fill="#0088c0"/><rect x="186.2" y="320.9" width="1.7" height="1.7" fill="#003bf2"/><rect x="186.2" y="322.5" width="1.7" height="1.7" fill="#001be8"/><rect x="186.2" y="324.1" width="1.7" height="3.3" fill="#000aca"/><rect x="187.8" y="280.7" width="1.7" height="3.3" fill="#000aca"/><rect x="187.8" y="283.9" width="1.7" height="3.3" fill="#001be8"/><rect x="187.8" y="287.1" width="1.7" height="1.7" fill="#003bf2"/><rect x="187.8" y="288.7" width="1.7" height="1.7" fill="#00bd6b"/><rect x="187.8" y="290.3" width="1.7" height="1.7" fill="#c1ea07"/><rect x="187.8" y="291.9" width="1.7" height="1.7" fill="#f60e00"/><rect x="187.8" y="293.5" width="1.7" height="1.7" fill="#ff7c00"/><rect x="187.8" y="295.1" width="1.7" height="1.7" fill="#f3c300"/><rect x="187.8" y="296.7" width="1.7" height="1.7" fill="#c1ea07"/><rect x="187.8" y="298.4" width="1.7" height="3.3" fill="#ff7c00"/><rect x="187.8" y="301.6" width="1.7" height="1.7" fill="#f60e00"/><rect x="187.8" y="303.2" width="1.7" height="1.7" fill="#c1ea07"/><rect x="187.8" y="304.8" width="1.7" height="1.7" fill="#fe1800"/><rect x="187.8" y="306.4" width="1.7" height="1.7" fill="#f60e00"/><rect x="187.8" y="308.0" width="1.7" height="1.7" fill="#fe1800"/><rect x="187.8" y="309.6" width="1.7" height="1.7" fill="#c1ea07"/><rect x="187.8" y="311.2" width="1.7" height="1.7" fill="#f60e00"/><rect x="187.8" y="312.8" width="1.7" height="1.7" fill="#f3c300"/><rect x="187.8" y="314.4" width="1.7" height="1.7" fill="#00bd6b"/><rect x="187.8" y="316.0" width="1.7" height="1.7" fill="#f3c300"/><rect x="187.8" y="317.6" width="1.7" height="4.9" fill="#36d81e"/><rect x="187.8" y="322.5" width="1.7" height="1.7" fill="#003bf2"/><rect x="187.8" y="324.1" width="1.7" height="1.7" fill="#001be8"/><rect x="187.8" y="325.7" width="1.7" height="3.3" fill="#000aca"/><rect x="189.4" y="279.1" width="1.7" height="1.7" fill="#0900a2"/><rect x="189.4" y="280.7" width="1.7" height="3.3" fill="#000aca"/><rect x="189.4" y="283.9" width="1.7" height="3.3" fill="#003bf2"/><rect x="189.4" y="287.1" width="1.7" height="1.7" fill="#0088c0"/><rect x="189.4" y="288.7" width="1.7" height="1.7" fill="#f3c300"/><rect x="189.4" y="290.3" width="1.7" height="3.3" fill="#c1ea07"/><rect x="189.4" y="293.5" width="1.7" height="1.7" fill="#f60e00"/><rect x="189.4" y="295.1" width="1.7" height="1.7" fill="#fe1800"/><rect x="189.4" y="296.7" width="1.7" height="1.7" fill="#f3c300"/><rect x="189.4" y="298.4" width="1.7" height="1.7" fill="#ee0400"/><rect x="189.4" y="300.0" width="1.7" height="3.3" fill="#fe1800"/><rect x="189.4" y="303.2" width="1.7" height="1.7" fill="#f60e00"/><rect x="189.4" y="304.8" width="1.7" height="1.7" fill="#ff7c00"/><rect x="189.4" y="306.4" width="1.7" height="1.7" fill="#fe1800"/><rect x="189.4" y="308.0" width="1.7" height="1.7" fill="#ff7c00"/><rect x="189.4" y="309.6" width="1.7" height="1.7" fill="#36d81e"/><rect x="189.4" y="311.2" width="1.7" height="1.7" fill="#c1ea07"/><rect x="189.4" y="312.8" width="1.7" height="1.7" fill="#ff7c00"/><rect x="189.4" y="314.4" width="1.7" height="3.3" fill="#f3c300"/><rect x="189.4" y="317.6" width="1.7" height="1.7" fill="#00bd6b"/><rect x="189.4" y="319.3" width="1.7" height="1.7" fill="#0088c0"/><rect x="189.4" y="320.9" width="1.7" height="3.3" fill="#001be8"/><rect x="189.4" y="324.1" width="1.7" height="3.3" fill="#000aca"/><rect x="189.4" y="327.3" width="1.7" height="1.7" fill="#0900a2"/><rect x="191.0" y="274.2" width="1.7" height="1.7" fill="#0900a2"/><rect x="191.0" y="275.8" width="1.7" height="1.7" fill="#000aca"/><rect x="191.0" y="277.5" width="1.7" height="1.7" fill="#001be8"/><rect x="191.0" y="279.1" width="1.7" height="1.7" fill="#000aca"/><rect x="191.0" y="280.7" width="1.7" height="1.7" fill="#003bf2"/><rect x="191.0" y="282.3" width="1.7" height="1.7" fill="#36d81e"/><rect x="191.0" y="283.9" width="1.7" height="1.7" fill="#0088c0"/><rect x="191.0" y="285.5" width="1.7" height="3.3" fill="#c1ea07"/><rect x="191.0" y="288.7" width="1.7" height="1.7" fill="#f60e00"/><rect x="191.0" y="290.3" width="1.7" height="1.7" fill="#ff7c00"/><rect x="191.0" y="291.9" width="1.7" height="1.7" fill="#f60e00"/><rect x="191.0" y="293.5" width="1.7" height="1.7" fill="#fe1800"/><rect x="191.0" y="295.1" width="1.7" height="1.7" fill="#ff7c00"/><rect x="191.0" y="296.7" width="1.7" height="1.7" fill="#ee0400"/><rect x="191.0" y="298.4" width="1.7" height="1.7" fill="#ff7c00"/><rect x="191.0" y="300.0" width="1.7" height="1.7" fill="#f3c300"/><rect x="191.0" y="301.6" width="1.7" height="1.7" fill="#fe1800"/><rect x="191.0" y="303.2" width="1.7" height="3.3" fill="#ee0400"/><rect x="191.0" y="306.4" width="1.7" height="1.7" fill="#f60e00"/><rect x="191.0" y="308.0" width="1.7" height="1.7" fill="#ee0400"/><rect x="191.0" y="309.6" width="1.7" height="1.7" fill="#fe1800"/><rect x="191.0" y="311.2" width="1.7" height="1.7" fill="#f60e00"/><rect x="191.0" y="312.8" width="1.7" height="1.7" fill="#c1ea07"/><rect x="191.0" y="314.4" width="1.7" height="1.7" fill="#f3c300"/><rect x="191.0" y="316.0" width="1.7" height="1.7" fill="#ff7c00"/><rect x="191.0" y="317.6" width="1.7" height="1.7" fill="#f3c300"/><rect x="191.0" y="319.3" width="1.7" height="1.7" fill="#36d81e"/><rect x="191.0" y="320.9" width="1.7" height="1.7" fill="#00bd6b"/><rect x="191.0" y="322.5" width="1.7" height="4.9" fill="#003bf2"/><rect x="191.0" y="327.3" width="1.7" height="1.7" fill="#001be8"/><rect x="191.0" y="328.9" width="1.7" height="3.3" fill="#000aca"/><rect x="192.6" y="274.2" width="1.7" height="1.7" fill="#0900a2"/><rect x="192.6" y="275.8" width="1.7" height="4.9" fill="#000aca"/><rect x="192.6" y="280.7" width="1.7" height="1.7" fill="#0088c0"/><rect x="192.6" y="282.3" width="1.7" height="1.7" fill="#001be8"/><rect x="192.6" y="283.9" width="1.7" height="1.7" fill="#0088c0"/><rect x="192.6" y="285.5" width="1.7" height="3.3" fill="#00bd6b"/><rect x="192.6" y="288.7" width="1.7" height="3.3" fill="#36d81e"/><rect x="192.6" y="291.9" width="1.7" height="3.3" fill="#c1ea07"/><rect x="192.6" y="295.1" width="1.7" height="1.7" fill="#ff7c00"/><rect x="192.6" y="296.7" width="1.7" height="1.7" fill="#ee0400"/><rect x="192.6" y="298.4" width="1.7" height="1.7" fill="#ff7c00"/><rect x="192.6" y="300.0" width="1.7" height="3.3" fill="#fe1800"/><rect x="192.6" y="303.2" width="1.7" height="1.7" fill="#ff7c00"/><rect x="192.6" y="304.8" width="1.7" height="1.7" fill="#f3c300"/><rect x="192.6" y="306.4" width="1.7" height="1.7" fill="#00bd6b"/><rect x="192.6" y="308.0" width="1.7" height="1.7" fill="#ff7c00"/><rect x="192.6" y="309.6" width="1.7" height="1.7" fill="#c1ea07"/><rect x="192.6" y="311.2" width="1.7" height="1.7" fill="#f3c300"/><rect x="192.6" y="312.8" width="1.7" height="1.7" fill="#fe1800"/><rect x="192.6" y="314.4" width="1.7" height="3.3" fill="#ff7c00"/><rect x="192.6" y="317.6" width="1.7" height="3.3" fill="#00bd6b"/><rect x="192.6" y="320.9" width="1.7" height="1.7" fill="#36d81e"/><rect x="192.6" y="322.5" width="1.7" height="1.7" fill="#0088c0"/><rect x="192.6" y="324.1" width="1.7" height="3.3" fill="#001be8"/><rect x="192.6" y="327.3" width="1.7" height="1.7" fill="#0900a2"/><rect x="192.6" y="328.9" width="1.7" height="1.7" fill="#000aca"/><rect x="194.2" y="279.1" width="1.7" height="1.7" fill="#0900a2"/><rect x="194.2" y="280.7" width="1.7" height="1.7" fill="#000aca"/><rect x="194.2" y="282.3" width="1.7" height="3.3" fill="#001be8"/><rect x="194.2" y="285.5" width="1.7" height="3.3" fill="#003bf2"/><rect x="194.2" y="288.7" width="1.7" height="4.9" fill="#00bd6b"/><rect x="194.2" y="293.5" width="1.7" height="1.7" fill="#c1ea07"/><rect x="194.2" y="295.1" width="1.7" height="1.7" fill="#ff7c00"/><rect x="194.2" y="296.7" width="1.7" height="1.7" fill="#00bd6b"/><rect x="194.2" y="298.4" width="1.7" height="1.7" fill="#f3c300"/><rect x="194.2" y="300.0" width="1.7" height="1.7" fill="#fe1800"/><rect x="194.2" y="301.6" width="1.7" height="3.3" fill="#f60e00"/><rect x="194.2" y="304.8" width="1.7" height="3.3" fill="#fe1800"/><rect x="194.2" y="308.0" width="1.7" height="1.7" fill="#ff7c00"/><rect x="194.2" y="309.6" width="1.7" height="1.7" fill="#fe1800"/><rect x="194.2" y="311.2" width="1.7" height="1.7" fill="#f60e00"/><rect x="194.2" y="312.8" width="1.7" height="1.7" fill="#ff7c00"/><rect x="194.2" y="314.4" width="1.7" height="1.7" fill="#f3c300"/><rect x="194.2" y="316.0" width="1.7" height="1.7" fill="#ff7c00"/><rect x="194.2" y="317.6" width="1.7" height="1.7" fill="#f3c300"/><rect x="194.2" y="319.3" width="1.7" height="1.7" fill="#ff7c00"/><rect x="194.2" y="320.9" width="1.7" height="1.7" fill="#fe1800"/><rect x="194.2" y="322.5" width="1.7" height="1.7" fill="#ff7c00"/><rect x="194.2" y="324.1" width="1.7" height="1.7" fill="#0088c0"/><rect x="194.2" y="325.7" width="1.7" height="1.7" fill="#00bd6b"/><rect x="194.2" y="327.3" width="1.7" height="1.7" fill="#0088c0"/><rect x="194.2" y="328.9" width="1.7" height="1.7" fill="#003bf2"/><rect x="194.2" y="330.5" width="1.7" height="1.7" fill="#001be8"/><rect x="194.2" y="332.1" width="1.7" height="1.7" fill="#000aca"/><rect x="194.2" y="333.7" width="1.7" height="1.7" fill="#0900a2"/><rect x="195.8" y="280.7" width="1.7" height="1.7" fill="#0900a2"/><rect x="195.8" y="282.3" width="1.7" height="1.7" fill="#000aca"/><rect x="195.8" y="283.9" width="1.7" height="1.7" fill="#001be8"/><rect x="195.8" y="285.5" width="1.7" height="1.7" fill="#0088c0"/><rect x="195.8" y="287.1" width="1.7" height="3.3" fill="#003bf2"/><rect x="195.8" y="290.3" width="1.7" height="3.3" fill="#36d81e"/><rect x="195.8" y="293.5" width="1.7" height="1.7" fill="#c1ea07"/><rect x="195.8" y="295.1" width="1.7" height="3.3" fill="#ff7c00"/><rect x="195.8" y="298.4" width="1.7" height="1.7" fill="#c1ea07"/><rect x="195.8" y="300.0" width="1.7" height="1.7" fill="#f60e00"/><rect x="195.8" y="301.6" width="1.7" height="1.7" fill="#f3c300"/><rect x="195.8" y="303.2" width="1.7" height="1.7" fill="#ee0400"/><rect x="195.8" y="304.8" width="1.7" height="1.7" fill="#ff7c00"/><rect x="195.8" y="306.4" width="1.7" height="1.7" fill="#fe1800"/><rect x="195.8" y="308.0" width="1.7" height="1.7" fill="#f60e00"/><rect x="195.8" y="309.6" width="1.7" height="1.7" fill="#fe1800"/><rect x="195.8" y="311.2" width="1.7" height="1.7" fill="#f60e00"/><rect x="195.8" y="312.8" width="1.7" height="1.7" fill="#c1ea07"/><rect x="195.8" y="314.4" width="1.7" height="1.7" fill="#f3c300"/><rect x="195.8" y="316.0" width="1.7" height="1.7" fill="#c1ea07"/><rect x="195.8" y="317.6" width="1.7" height="1.7" fill="#36d81e"/><rect x="195.8" y="319.3" width="1.7" height="1.7" fill="#00bd6b"/><rect x="195.8" y="320.9" width="1.7" height="3.3" fill="#003bf2"/><rect x="195.8" y="324.1" width="1.7" height="1.7" fill="#000aca"/><rect x="195.8" y="325.7" width="1.7" height="1.7" fill="#001be8"/><rect x="195.8" y="327.3" width="1.7" height="1.7" fill="#000aca"/><rect x="195.8" y="328.9" width="1.7" height="1.7" fill="#0900a2"/><rect x="197.4" y="277.5" width="1.7" height="3.3" fill="#0900a2"/><rect x="197.4" y="280.7" width="1.7" height="1.7" fill="#000aca"/><rect x="197.4" y="282.3" width="1.7" height="1.7" fill="#001be8"/><rect x="197.4" y="283.9" width="1.7" height="1.7" fill="#003bf2"/><rect x="197.4" y="285.5" width="1.7" height="1.7" fill="#00bd6b"/><rect x="197.4" y="287.1" width="1.7" height="1.7" fill="#003bf2"/><rect x="197.4" y="288.7" width="1.7" height="1.7" fill="#c1ea07"/><rect x="197.4" y="290.3" width="1.7" height="1.7" fill="#00bd6b"/><rect x="197.4" y="291.9" width="1.7" height="1.7" fill="#36d81e"/><rect x="197.4" y="293.5" width="1.7" height="1.7" fill="#f3c300"/><rect x="197.4" y="295.1" width="1.7" height="1.7" fill="#ff7c00"/><rect x="197.4" y="296.7" width="1.7" height="1.7" fill="#fe1800"/><rect x="197.4" y="298.4" width="1.7" height="1.7" fill="#f60e00"/><rect x="197.4" y="300.0" width="1.7" height="8.1" fill="#ee0400"/><rect x="197.4" y="308.0" width="1.7" height="1.7" fill="#ff7c00"/><rect x="197.4" y="309.6" width="1.7" height="1.7" fill="#fe1800"/><rect x="197.4" y="311.2" width="1.7" height="1.7" fill="#36d81e"/><rect x="197.4" y="312.8" width="1.7" height="1.7" fill="#ee0400"/><rect x="197.4" y="314.4" width="1.7" height="3.3" fill="#ff7c00"/><rect x="197.4" y="317.6" width="1.7" height="1.7" fill="#ee0400"/><rect x="197.4" y="319.3" width="1.7" height="1.7" fill="#f3c300"/><rect x="197.4" y="320.9" width="1.7" height="1.7" fill="#00bd6b"/><rect x="197.4" y="322.5" width="1.7" height="3.3" fill="#36d81e"/><rect x="197.4" y="325.7" width="1.7" height="1.7" fill="#0088c0"/><rect x="197.4" y="327.3" width="1.7" height="1.7" fill="#003bf2"/><rect x="197.4" y="328.9" width="1.7" height="1.7" fill="#001be8"/><rect x="197.4" y="330.5" width="1.7" height="1.7" fill="#000aca"/><rect x="197.4" y="332.1" width="1.7" height="1.7" fill="#0900a2"/><rect x="199.0" y="277.5" width="1.7" height="3.3" fill="#000aca"/><rect x="199.0" y="280.7" width="1.7" height="3.3" fill="#001be8"/><rect x="199.0" y="283.9" width="1.7" height="1.7" fill="#0088c0"/><rect x="199.0" y="285.5" width="1.7" height="1.7" fill="#00bd6b"/><rect x="199.0" y="287.1" width="1.7" height="1.7" fill="#c1ea07"/><rect x="199.0" y="288.7" width="1.7" height="1.7" fill="#f3c300"/><rect x="199.0" y="290.3" width="1.7" height="1.7" fill="#ee0400"/><rect x="199.0" y="291.9" width="1.7" height="1.7" fill="#f3c300"/><rect x="199.0" y="293.5" width="1.7" height="1.7" fill="#c1ea07"/><rect x="199.0" y="295.1" width="1.7" height="1.7" fill="#ee0400"/><rect x="199.0" y="296.7" width="1.7" height="1.7" fill="#f60e00"/><rect x="199.0" y="298.4" width="1.7" height="1.7" fill="#ff7c00"/><rect x="199.0" y="300.0" width="1.7" height="1.7" fill="#fe1800"/><rect x="199.0" y="301.6" width="1.7" height="3.3" fill="#f60e00"/><rect x="199.0" y="304.8" width="1.7" height="1.7" fill="#ff7c00"/><rect x="199.0" y="306.4" width="1.7" height="1.7" fill="#fe1800"/><rect x="199.0" y="308.0" width="1.7" height="3.3" fill="#f60e00"/><rect x="199.0" y="311.2" width="1.7" height="1.7" fill="#f3c300"/><rect x="199.0" y="312.8" width="1.7" height="1.7" fill="#ff7c00"/><rect x="199.0" y="314.4" width="1.7" height="3.3" fill="#c1ea07"/><rect x="199.0" y="317.6" width="1.7" height="1.7" fill="#00bd6b"/><rect x="199.0" y="319.3" width="1.7" height="3.3" fill="#0088c0"/><rect x="199.0" y="322.5" width="1.7" height="1.7" fill="#003bf2"/><rect x="199.0" y="324.1" width="1.7" height="3.3" fill="#000aca"/><rect x="199.0" y="327.3" width="1.7" height="1.7" fill="#0900a2"/><rect x="200.6" y="279.1" width="1.7" height="1.7" fill="#0900a2"/><rect x="200.6" y="280.7" width="1.7" height="3.3" fill="#000aca"/><rect x="200.6" y="283.9" width="1.7" height="1.7" fill="#001be8"/><rect x="200.6" y="285.5" width="1.7" height="3.3" fill="#00bd6b"/><rect x="200.6" y="288.7" width="1.7" height="1.7" fill="#f3c300"/><rect x="200.6" y="290.3" width="1.7" height="3.3" fill="#c1ea07"/><rect x="200.6" y="293.5" width="1.7" height="1.7" fill="#ff7c00"/><rect x="200.6" y="295.1" width="1.7" height="1.7" fill="#fe1800"/><rect x="200.6" y="296.7" width="1.7" height="1.7" fill="#f60e00"/><rect x="200.6" y="298.4" width="1.7" height="1.7" fill="#ee0400"/><rect x="200.6" y="300.0" width="1.7" height="1.7" fill="#fe1800"/><rect x="200.6" y="301.6" width="1.7" height="1.7" fill="#ee0400"/><rect x="200.6" y="303.2" width="1.7" height="3.3" fill="#fe1800"/><rect x="200.6" y="306.4" width="1.7" height="4.9" fill="#ee0400"/><rect x="200.6" y="311.2" width="1.7" height="1.7" fill="#f60e00"/><rect x="200.6" y="312.8" width="1.7" height="3.3" fill="#ff7c00"/><rect x="200.6" y="316.0" width="1.7" height="1.7" fill="#f3c300"/><rect x="200.6" y="317.6" width="1.7" height="1.7" fill="#c1ea07"/><rect x="200.6" y="319.3" width="1.7" height="3.3" fill="#0088c0"/><rect x="200.6" y="322.5" width="1.7" height="1.7" fill="#003bf2"/><rect x="200.6" y="324.1" width="1.7" height="3.3" fill="#000aca"/><rect x="200.6" y="327.3" width="1.7" height="1.7" fill="#0900a2"/></g>
<line x1="72.7" y1="227.0" x2="72.7" y2="348.2" stroke="#fff" stroke-width="1.8" stroke-dasharray="4,2.6"/>
<text x="38.8" y="247.6" font-size="14" stroke="#000" stroke-width="0.15" text-anchor="end" textLength="19.3" lengthAdjust="spacingAndGlyphs" >0.6</text>
<text x="38.8" y="287.1" font-size="14" stroke="#000" stroke-width="0.15" text-anchor="end" textLength="19.3" lengthAdjust="spacingAndGlyphs" >0.4</text>
<text x="38.8" y="323.5" font-size="14" stroke="#000" stroke-width="0.15" text-anchor="end" textLength="19.3" lengthAdjust="spacingAndGlyphs" >0.2</text>
<text x="38.8" y="353.3" font-size="14" stroke="#000" stroke-width="0.15" text-anchor="end" textLength="8.6" lengthAdjust="spacingAndGlyphs" >0</text>
<text x="46.4" y="365.5" font-size="14" stroke="#000" stroke-width="0.15" text-anchor="middle" textLength="6.6" lengthAdjust="spacingAndGlyphs" >0</text>
<text x="95" y="365.5" font-size="14" stroke="#000" stroke-width="0.15" text-anchor="middle" textLength="22.3" lengthAdjust="spacingAndGlyphs" >100</text>
<text x="146.6" y="365.5" font-size="14" stroke="#000" stroke-width="0.15" text-anchor="middle" textLength="22.9" lengthAdjust="spacingAndGlyphs" >200</text>
<text x="189.4" y="365.5" font-size="14" stroke="#000" stroke-width="0.15" text-anchor="middle" textLength="22.9" lengthAdjust="spacingAndGlyphs" >300</text>
<text x="95.7" y="386" font-size="14.5" stroke="#000" stroke-width="0.16" textLength="55.7" lengthAdjust="spacingAndGlyphs" >Time (s)</text>
<text transform="translate(11.8,303.4) rotate(-90)" font-size="15.5" stroke="#000" stroke-width="0.17" textLength="8.2" lengthAdjust="spacingAndGlyphs" >E</text>
<text transform="translate(15.5,294.5) rotate(-90)" font-size="10.5" stroke="#000" stroke-width="0.12" textLength="22" lengthAdjust="spacingAndGlyphs" >FRET</text>
<text x="208.8" y="225.6" font-size="13.2" font-weight="bold" >e</text>
<g fill="none" stroke="#e85a5a" stroke-width="0.75">
<circle cx="279.7" cy="288.6" r="2.4"/>
<circle cx="286.0" cy="297.0" r="2.4"/>
<circle cx="292.2" cy="290.7" r="2.4"/>
<circle cx="296.7" cy="287.2" r="2.4"/>
<circle cx="297.6" cy="293.4" r="2.4"/>
<circle cx="303.0" cy="293.4" r="2.4"/>
<circle cx="306.9" cy="284.5" r="2.4"/>
<circle cx="308.7" cy="288.1" r="2.4"/>
<circle cx="312.8" cy="287.2" r="2.4"/>
<circle cx="317.3" cy="282.7" r="2.4"/>
<circle cx="317.3" cy="286.3" r="2.4"/>
<circle cx="320.0" cy="293.4" r="2.4"/>
<circle cx="320.0" cy="296.5" r="2.4"/>
<circle cx="309.2" cy="294.3" r="2.4"/>
<circle cx="308.3" cy="298.8" r="2.4"/>
<circle cx="303.9" cy="297.9" r="2.4"/>
<circle cx="298.5" cy="297.9" r="2.4"/>
<circle cx="293.1" cy="297.0" r="2.4"/>
<circle cx="290.4" cy="302.4" r="2.4"/>
<circle cx="294.9" cy="302.4" r="2.4"/>
<circle cx="303.0" cy="302.4" r="2.4"/>
<circle cx="289.5" cy="306.0" r="2.4"/>
<circle cx="294.9" cy="307.7" r="2.4"/>
<circle cx="298.5" cy="307.7" r="2.4"/>
<circle cx="285.0" cy="309.5" r="2.4"/>
<circle cx="291.3" cy="311.3" r="2.4"/>
<circle cx="296.7" cy="312.2" r="2.4"/>
<circle cx="283.3" cy="313.1" r="2.4"/>
<circle cx="288.6" cy="314.0" r="2.4"/>
<circle cx="301.2" cy="314.9" r="2.4"/>
<circle cx="286.9" cy="318.5" r="2.4"/>
<circle cx="292.2" cy="318.5" r="2.4"/>
<circle cx="296.7" cy="318.5" r="2.4"/>
<circle cx="302.0" cy="319.0" r="2.4"/>
<circle cx="281.5" cy="322.1" r="2.4"/>
<circle cx="292.2" cy="322.1" r="2.4"/>
<circle cx="292.2" cy="324.8" r="2.4"/>
<circle cx="286.0" cy="329.2" r="2.4"/>
<circle cx="300.7" cy="292.3" r="2.4"/>
<circle cx="289.4" cy="314.8" r="2.4"/>
<circle cx="297.7" cy="292.7" r="2.4"/>
<circle cx="298.1" cy="308.2" r="2.4"/>
<circle cx="289.5" cy="310.0" r="2.4"/>
<circle cx="302.1" cy="298.3" r="2.4"/>
<circle cx="292.5" cy="308.2" r="2.4"/>
<circle cx="296.4" cy="307.5" r="2.4"/>
<circle cx="295.2" cy="303.1" r="2.4"/>
<circle cx="307.0" cy="293.9" r="2.4"/>
<circle cx="302.2" cy="303.7" r="2.4"/>
<circle cx="301.4" cy="297.9" r="2.4"/>
<circle cx="291.3" cy="308.2" r="2.4"/>
<circle cx="301.7" cy="300.3" r="2.4"/>
<circle cx="302.6" cy="289.4" r="2.4"/>
<circle cx="306.9" cy="284.9" r="2.4"/>
<circle cx="286.0" cy="311.1" r="2.4"/>
<circle cx="290.3" cy="303.9" r="2.4"/>
<circle cx="295.7" cy="302.8" r="2.4"/>
<circle cx="298.5" cy="304.6" r="2.4"/>
<circle cx="295.9" cy="307.8" r="2.4"/>
<circle cx="310.3" cy="293.1" r="2.4"/>
</g>
<g fill="none" stroke="#4a4ad8" stroke-width="0.75">
<rect x="339.4" y="244.5" width="4.4" height="4.4"/>
<rect x="347.0" y="246.6" width="4.4" height="4.4"/>
<rect x="353.1" y="246.6" width="4.4" height="4.4"/>
<rect x="362.4" y="250.2" width="4.4" height="4.4"/>
<rect x="350.1" y="250.7" width="4.4" height="4.4"/>
<rect x="348.0" y="254.8" width="4.4" height="4.4"/>
<rect x="341.9" y="256.8" width="4.4" height="4.4"/>
<rect x="354.2" y="255.8" width="4.4" height="4.4"/>
<rect x="356.2" y="258.8" width="4.4" height="4.4"/>
<rect x="368.5" y="256.8" width="4.4" height="4.4"/>
<rect x="373.6" y="253.3" width="4.4" height="4.4"/>
<rect x="347.0" y="259.8" width="4.4" height="4.4"/>
<rect x="339.8" y="261.9" width="4.4" height="4.4"/>
<rect x="354.2" y="261.9" width="4.4" height="4.4"/>
<rect x="358.3" y="261.9" width="4.4" height="4.4"/>
<rect x="362.4" y="265.6" width="4.4" height="4.4"/>
<rect x="370.5" y="261.9" width="4.4" height="4.4"/>
<rect x="356.2" y="266.0" width="4.4" height="4.4"/>
<rect x="357.2" y="270.1" width="4.4" height="4.4"/>
<rect x="364.4" y="269.1" width="4.4" height="4.4"/>
<rect x="368.5" y="268.0" width="4.4" height="4.4"/>
<rect x="341.9" y="271.7" width="4.4" height="4.4"/>
<rect x="348.0" y="270.1" width="4.4" height="4.4"/>
<rect x="347.0" y="276.2" width="4.4" height="4.4"/>
<rect x="356.2" y="278.3" width="4.4" height="4.4"/>
<rect x="358.3" y="279.9" width="4.4" height="4.4"/>
<rect x="349.1" y="283.4" width="4.4" height="4.4"/>
<rect x="354.2" y="282.4" width="4.4" height="4.4"/>
<rect x="376.7" y="279.3" width="4.4" height="4.4"/>
<rect x="292.9" y="258.3" width="4.4" height="4.4"/>
<rect x="283.0" y="271.6" width="4.4" height="4.4"/>
<rect x="289.4" y="274.2" width="4.4" height="4.4"/>
<rect x="318.4" y="252.4" width="4.4" height="4.4"/>
<rect x="329.2" y="284.8" width="4.4" height="4.4"/>
<rect x="337.3" y="245.2" width="4.4" height="4.4"/>
<rect x="321.6" y="290.2" width="4.4" height="4.4"/>
<rect x="352.8" y="270.8" width="4.4" height="4.4"/>
<rect x="342.0" y="265.7" width="4.4" height="4.4"/>
<rect x="358.4" y="257.0" width="4.4" height="4.4"/>
<rect x="354.7" y="264.7" width="4.4" height="4.4"/>
<rect x="366.1" y="266.8" width="4.4" height="4.4"/>
<rect x="346.5" y="258.5" width="4.4" height="4.4"/>
</g>
<line x1="256.2" y1="300.3" x2="409.5" y2="300.3" stroke="#d82020" stroke-width="1.3" stroke-dasharray="4.5,3"/>
<line x1="299.5" y1="224.7" x2="299.5" y2="348.1" stroke="#b01818" stroke-width="1.3" stroke-dasharray="4.5,3"/>
<line x1="256.2" y1="264" x2="409.5" y2="264" stroke="#2020f0" stroke-width="1.3" stroke-dasharray="4.5,3"/>
<line x1="355.5" y1="224.7" x2="355.5" y2="348.1" stroke="#2020f0" stroke-width="1.3" stroke-dasharray="4.5,3"/>
<g stroke="#000" fill="none">
<rect x="256.2" y="224.7" width="153.3" height="123.4" stroke-width="1.1"/>
<line x1="256.2" y1="348.1" x2="256.2" y2="344.6" stroke-width="0.9"/>
<line x1="256.2" y1="224.7" x2="256.2" y2="228.2" stroke-width="0.9"/>
<line x1="274.7" y1="348.1" x2="274.7" y2="346.1" stroke-width="0.9"/>
<line x1="274.7" y1="224.7" x2="274.7" y2="226.7" stroke-width="0.9"/>
<line x1="285.5" y1="348.1" x2="285.5" y2="346.1" stroke-width="0.9"/>
<line x1="285.5" y1="224.7" x2="285.5" y2="226.7" stroke-width="0.9"/>
<line x1="293.2" y1="348.1" x2="293.2" y2="346.1" stroke-width="0.9"/>
<line x1="293.2" y1="224.7" x2="293.2" y2="226.7" stroke-width="0.9"/>
<line x1="299.2" y1="348.1" x2="299.2" y2="346.1" stroke-width="0.9"/>
<line x1="299.2" y1="224.7" x2="299.2" y2="226.7" stroke-width="0.9"/>
<line x1="304.1" y1="348.1" x2="304.1" y2="346.1" stroke-width="0.9"/>
<line x1="304.1" y1="224.7" x2="304.1" y2="226.7" stroke-width="0.9"/>
<line x1="308.2" y1="348.1" x2="308.2" y2="346.1" stroke-width="0.9"/>
<line x1="308.2" y1="224.7" x2="308.2" y2="226.7" stroke-width="0.9"/>
<line x1="311.7" y1="348.1" x2="311.7" y2="346.1" stroke-width="0.9"/>
<line x1="311.7" y1="224.7" x2="311.7" y2="226.7" stroke-width="0.9"/>
<line x1="314.9" y1="348.1" x2="314.9" y2="346.1" stroke-width="0.9"/>
<line x1="314.9" y1="224.7" x2="314.9" y2="226.7" stroke-width="0.9"/>
<line x1="317.7" y1="348.1" x2="317.7" y2="344.6" stroke-width="0.9"/>
<line x1="317.7" y1="224.7" x2="317.7" y2="228.2" stroke-width="0.9"/>
<line x1="336.2" y1="348.1" x2="336.2" y2="346.1" stroke-width="0.9"/>
<line x1="336.2" y1="224.7" x2="336.2" y2="226.7" stroke-width="0.9"/>
<line x1="347.0" y1="348.1" x2="347.0" y2="346.1" stroke-width="0.9"/>
<line x1="347.0" y1="224.7" x2="347.0" y2="226.7" stroke-width="0.9"/>
<line x1="354.7" y1="348.1" x2="354.7" y2="346.1" stroke-width="0.9"/>
<line x1="354.7" y1="224.7" x2="354.7" y2="226.7" stroke-width="0.9"/>
<line x1="360.7" y1="348.1" x2="360.7" y2="346.1" stroke-width="0.9"/>
<line x1="360.7" y1="224.7" x2="360.7" y2="226.7" stroke-width="0.9"/>
<line x1="365.6" y1="348.1" x2="365.6" y2="346.1" stroke-width="0.9"/>
<line x1="365.6" y1="224.7" x2="365.6" y2="226.7" stroke-width="0.9"/>
<line x1="369.7" y1="348.1" x2="369.7" y2="346.1" stroke-width="0.9"/>
<line x1="369.7" y1="224.7" x2="369.7" y2="226.7" stroke-width="0.9"/>
<line x1="373.2" y1="348.1" x2="373.2" y2="346.1" stroke-width="0.9"/>
<line x1="373.2" y1="224.7" x2="373.2" y2="226.7" stroke-width="0.9"/>
<line x1="376.4" y1="348.1" x2="376.4" y2="346.1" stroke-width="0.9"/>
<line x1="376.4" y1="224.7" x2="376.4" y2="226.7" stroke-width="0.9"/>
<line x1="379.2" y1="348.1" x2="379.2" y2="344.6" stroke-width="0.9"/>
<line x1="379.2" y1="224.7" x2="379.2" y2="228.2" stroke-width="0.9"/>
<line x1="397.7" y1="348.1" x2="397.7" y2="346.1" stroke-width="0.9"/>
<line x1="397.7" y1="224.7" x2="397.7" y2="226.7" stroke-width="0.9"/>
<line x1="408.5" y1="348.1" x2="408.5" y2="346.1" stroke-width="0.9"/>
<line x1="408.5" y1="224.7" x2="408.5" y2="226.7" stroke-width="0.9"/>
<line x1="256.2" y1="348.1" x2="259.7" y2="348.1" stroke-width="0.9"/>
<line x1="409.5" y1="348.1" x2="406.0" y2="348.1" stroke-width="0.9"/>
<line x1="256.2" y1="329.5" x2="258.2" y2="329.5" stroke-width="0.9"/>
<line x1="409.5" y1="329.5" x2="407.5" y2="329.5" stroke-width="0.9"/>
<line x1="256.2" y1="318.7" x2="258.2" y2="318.7" stroke-width="0.9"/>
<line x1="409.5" y1="318.7" x2="407.5" y2="318.7" stroke-width="0.9"/>
<line x1="256.2" y1="311.0" x2="258.2" y2="311.0" stroke-width="0.9"/>
<line x1="409.5" y1="311.0" x2="407.5" y2="311.0" stroke-width="0.9"/>
<line x1="256.2" y1="305.0" x2="258.2" y2="305.0" stroke-width="0.9"/>
<line x1="409.5" y1="305.0" x2="407.5" y2="305.0" stroke-width="0.9"/>
<line x1="256.2" y1="300.1" x2="258.2" y2="300.1" stroke-width="0.9"/>
<line x1="409.5" y1="300.1" x2="407.5" y2="300.1" stroke-width="0.9"/>
<line x1="256.2" y1="296.0" x2="258.2" y2="296.0" stroke-width="0.9"/>
<line x1="409.5" y1="296.0" x2="407.5" y2="296.0" stroke-width="0.9"/>
<line x1="256.2" y1="292.4" x2="258.2" y2="292.4" stroke-width="0.9"/>
<line x1="409.5" y1="292.4" x2="407.5" y2="292.4" stroke-width="0.9"/>
<line x1="256.2" y1="289.2" x2="258.2" y2="289.2" stroke-width="0.9"/>
<line x1="409.5" y1="289.2" x2="407.5" y2="289.2" stroke-width="0.9"/>
<line x1="256.2" y1="286.4" x2="259.7" y2="286.4" stroke-width="0.9"/>
<line x1="409.5" y1="286.4" x2="406.0" y2="286.4" stroke-width="0.9"/>
<line x1="256.2" y1="267.8" x2="258.2" y2="267.8" stroke-width="0.9"/>
<line x1="409.5" y1="267.8" x2="407.5" y2="267.8" stroke-width="0.9"/>
<line x1="256.2" y1="257.0" x2="258.2" y2="257.0" stroke-width="0.9"/>
<line x1="409.5" y1="257.0" x2="407.5" y2="257.0" stroke-width="0.9"/>
<line x1="256.2" y1="249.3" x2="258.2" y2="249.3" stroke-width="0.9"/>
<line x1="409.5" y1="249.3" x2="407.5" y2="249.3" stroke-width="0.9"/>
<line x1="256.2" y1="243.3" x2="258.2" y2="243.3" stroke-width="0.9"/>
<line x1="409.5" y1="243.3" x2="407.5" y2="243.3" stroke-width="0.9"/>
<line x1="256.2" y1="238.4" x2="258.2" y2="238.4" stroke-width="0.9"/>
<line x1="409.5" y1="238.4" x2="407.5" y2="238.4" stroke-width="0.9"/>
<line x1="256.2" y1="234.3" x2="258.2" y2="234.3" stroke-width="0.9"/>
<line x1="409.5" y1="234.3" x2="407.5" y2="234.3" stroke-width="0.9"/>
<line x1="256.2" y1="230.7" x2="258.2" y2="230.7" stroke-width="0.9"/>
<line x1="409.5" y1="230.7" x2="407.5" y2="230.7" stroke-width="0.9"/>
<line x1="256.2" y1="227.5" x2="258.2" y2="227.5" stroke-width="0.9"/>
<line x1="409.5" y1="227.5" x2="407.5" y2="227.5" stroke-width="0.9"/>
</g>
<text x="232" y="230.3" font-size="14.5" stroke="#000" stroke-width="0.16" textLength="15.5" lengthAdjust="spacingAndGlyphs" >10</text>
<text x="247.6" y="224" font-size="9.5" stroke="#000" stroke-width="0.10" >3</text>
<text x="232" y="291.7" font-size="14.5" stroke="#000" stroke-width="0.16" textLength="15.5" lengthAdjust="spacingAndGlyphs" >10</text>
<text x="247.6" y="285.4" font-size="9.5" stroke="#000" stroke-width="0.10" >2</text>
<text x="232" y="354" font-size="14.5" stroke="#000" stroke-width="0.16" textLength="15.5" lengthAdjust="spacingAndGlyphs" >10</text>
<text x="247.6" y="347.7" font-size="9.5" stroke="#000" stroke-width="0.10" >1</text>
<text x="247.8" y="366.2" font-size="14.5" stroke="#000" stroke-width="0.16" textLength="14.5" lengthAdjust="spacingAndGlyphs" >10</text>
<text x="262.3" y="360.2" font-size="9.5" stroke="#000" stroke-width="0.10" >0</text>
<text x="308.3" y="366.2" font-size="14.5" stroke="#000" stroke-width="0.16" textLength="14.5" lengthAdjust="spacingAndGlyphs" >10</text>
<text x="322.8" y="360.2" font-size="9.5" stroke="#000" stroke-width="0.10" >1</text>
<text x="370.4" y="366.2" font-size="14.5" stroke="#000" stroke-width="0.16" textLength="14.5" lengthAdjust="spacingAndGlyphs" >10</text>
<text x="384.9" y="360.2" font-size="9.5" stroke="#000" stroke-width="0.10" >2</text>
<text x="314" y="380" font-size="16" stroke="#000" stroke-width="0.18" >t</text>
<text x="318" y="385.5" font-size="12.5" stroke="#000" stroke-width="0.14" textLength="8" lengthAdjust="spacingAndGlyphs" >E</text>
<text x="332.8" y="381.8" font-size="17" stroke="#000" stroke-width="0.19" textLength="19.4" lengthAdjust="spacingAndGlyphs" >(s)</text>
<text transform="translate(221.5,305) rotate(-90)" font-size="16" stroke="#000" stroke-width="0.18" >t</text>
<text transform="translate(227.2,299.6) rotate(-90)" font-size="9.5" stroke="#000" stroke-width="0.10" >L</text>
<text transform="translate(221.5,288.5) rotate(-90)" font-size="16" stroke="#000" stroke-width="0.18" textLength="19.5" lengthAdjust="spacingAndGlyphs" >(s)</text>
<text x="431" y="225" font-size="12.5" font-weight="bold" >f</text>
<rect x="473.4" y="329.6" width="13.3" height="21.7" fill="#c8c8c8" stroke="#000" stroke-width="1"/>
<g stroke="#000" stroke-width="0.9"><line x1="480.04999999999995" y1="328.9" x2="480.04999999999995" y2="330.3"/><line x1="477.04999999999995" y1="328.9" x2="483.04999999999995" y2="328.9"/><line x1="477.04999999999995" y1="330.3" x2="483.04999999999995" y2="330.3"/></g>
<rect x="492.4" y="348.6" width="13.7" height="2.7" fill="#007800" stroke="#000" stroke-width="1"/>
<g stroke="#000" stroke-width="0.9"><line x1="499.25" y1="348.1" x2="499.25" y2="349.2"/><line x1="496.25" y1="348.1" x2="502.25" y2="348.1"/><line x1="496.25" y1="349.2" x2="502.25" y2="349.2"/></g>
<rect x="512.8" y="261.7" width="13.0" height="89.6" fill="#c8c8c8" stroke="#000" stroke-width="1"/>
<g stroke="#000" stroke-width="0.9"><line x1="519.3" y1="249.9" x2="519.3" y2="273.4"/><line x1="516.3" y1="249.9" x2="522.3" y2="249.9"/><line x1="516.3" y1="273.4" x2="522.3" y2="273.4"/></g>
<rect x="532.2" y="340.2" width="13.3" height="11.1" fill="#007800" stroke="#000" stroke-width="1"/>
<g stroke="#000" stroke-width="0.9"><line x1="538.85" y1="339.1" x2="538.85" y2="341.3"/><line x1="535.85" y1="339.1" x2="541.85" y2="339.1"/><line x1="535.85" y1="341.3" x2="541.85" y2="341.3"/></g>
<g stroke="#000" fill="none">
<rect x="464.9" y="217.6" width="86.7" height="133.7" stroke-width="1.1"/>
<line x1="464.9" y1="351.3" x2="468.9" y2="351.3" stroke-width="0.9"/>
<line x1="551.6" y1="351.3" x2="547.6" y2="351.3" stroke-width="0.9"/>
<line x1="464.9" y1="340.2" x2="467.09999999999997" y2="340.2" stroke-width="0.9"/>
<line x1="551.6" y1="340.2" x2="549.4" y2="340.2" stroke-width="0.9"/>
<line x1="464.9" y1="329.2" x2="468.9" y2="329.2" stroke-width="0.9"/>
<line x1="551.6" y1="329.2" x2="547.6" y2="329.2" stroke-width="0.9"/>
<line x1="464.9" y1="318.1" x2="467.09999999999997" y2="318.1" stroke-width="0.9"/>
<line x1="551.6" y1="318.1" x2="549.4" y2="318.1" stroke-width="0.9"/>
<line x1="464.9" y1="307.0" x2="468.9" y2="307.0" stroke-width="0.9"/>
<line x1="551.6" y1="307.0" x2="547.6" y2="307.0" stroke-width="0.9"/>
<line x1="464.9" y1="296.0" x2="467.09999999999997" y2="296.0" stroke-width="0.9"/>
<line x1="551.6" y1="296.0" x2="549.4" y2="296.0" stroke-width="0.9"/>
<line x1="464.9" y1="284.9" x2="468.9" y2="284.9" stroke-width="0.9"/>
<line x1="551.6" y1="284.9" x2="547.6" y2="284.9" stroke-width="0.9"/>
<line x1="464.9" y1="273.8" x2="467.09999999999997" y2="273.8" stroke-width="0.9"/>
<line x1="551.6" y1="273.8" x2="549.4" y2="273.8" stroke-width="0.9"/>
<line x1="464.9" y1="262.8" x2="468.9" y2="262.8" stroke-width="0.9"/>
<line x1="551.6" y1="262.8" x2="547.6" y2="262.8" stroke-width="0.9"/>
<line x1="464.9" y1="251.7" x2="467.09999999999997" y2="251.7" stroke-width="0.9"/>
<line x1="551.6" y1="251.7" x2="549.4" y2="251.7" stroke-width="0.9"/>
<line x1="464.9" y1="240.6" x2="468.9" y2="240.6" stroke-width="0.9"/>
<line x1="551.6" y1="240.6" x2="547.6" y2="240.6" stroke-width="0.9"/>
<line x1="464.9" y1="229.6" x2="467.09999999999997" y2="229.6" stroke-width="0.9"/>
<line x1="551.6" y1="229.6" x2="549.4" y2="229.6" stroke-width="0.9"/>
<line x1="464.9" y1="218.5" x2="468.9" y2="218.5" stroke-width="0.9"/>
<line x1="551.6" y1="218.5" x2="547.6" y2="218.5" stroke-width="0.9"/>
<line x1="475.7" y1="351.3" x2="475.7" y2="349.1" stroke-width="0.9"/>
<line x1="475.7" y1="217.6" x2="475.7" y2="219.79999999999998" stroke-width="0.9"/>
<line x1="486.6" y1="351.3" x2="486.6" y2="347.3" stroke-width="0.9"/>
<line x1="486.6" y1="217.6" x2="486.6" y2="221.6" stroke-width="0.9"/>
<line x1="497.4" y1="351.3" x2="497.4" y2="349.1" stroke-width="0.9"/>
<line x1="497.4" y1="217.6" x2="497.4" y2="219.79999999999998" stroke-width="0.9"/>
<line x1="508.2" y1="351.3" x2="508.2" y2="349.1" stroke-width="0.9"/>
<line x1="508.2" y1="217.6" x2="508.2" y2="219.79999999999998" stroke-width="0.9"/>
<line x1="519.1" y1="351.3" x2="519.1" y2="349.1" stroke-width="0.9"/>
<line x1="519.1" y1="217.6" x2="519.1" y2="219.79999999999998" stroke-width="0.9"/>
<line x1="529.9" y1="351.3" x2="529.9" y2="347.3" stroke-width="0.9"/>
<line x1="529.9" y1="217.6" x2="529.9" y2="221.6" stroke-width="0.9"/>
<line x1="540.8" y1="351.3" x2="540.8" y2="349.1" stroke-width="0.9"/>
<line x1="540.8" y1="217.6" x2="540.8" y2="219.79999999999998" stroke-width="0.9"/>
</g>
<text x="462.1" y="223" font-size="14.5" stroke="#000" stroke-width="0.16" text-anchor="end" textLength="13.3" lengthAdjust="spacingAndGlyphs" >60</text>
<text x="462.1" y="245.2" font-size="14.5" stroke="#000" stroke-width="0.16" text-anchor="end" textLength="13.3" lengthAdjust="spacingAndGlyphs" >50</text>
<text x="462.1" y="267" font-size="14.5" stroke="#000" stroke-width="0.16" text-anchor="end" textLength="13.3" lengthAdjust="spacingAndGlyphs" >40</text>
<text x="462.1" y="288.9" font-size="14.5" stroke="#000" stroke-width="0.16" text-anchor="end" textLength="13.3" lengthAdjust="spacingAndGlyphs" >30</text>
<text x="462.1" y="312.2" font-size="14.5" stroke="#000" stroke-width="0.16" text-anchor="end" textLength="13.3" lengthAdjust="spacingAndGlyphs" >20</text>
<text x="462.1" y="334.3" font-size="14.5" stroke="#000" stroke-width="0.16" text-anchor="end" textLength="13.3" lengthAdjust="spacingAndGlyphs" >10</text>
<text x="462.1" y="356.2" font-size="14.5" stroke="#000" stroke-width="0.16" text-anchor="end" textLength="6.6" lengthAdjust="spacingAndGlyphs" >0</text>
<text x="491" y="364" font-size="14" stroke="#000" stroke-width="0.15" text-anchor="middle" textLength="6.6" lengthAdjust="spacingAndGlyphs" >0</text>
<text x="535" y="364" font-size="14" stroke="#000" stroke-width="0.15" text-anchor="middle" textLength="13.3" lengthAdjust="spacingAndGlyphs" >20</text>
<text x="462" y="377.4" font-size="15" stroke="#000" stroke-width="0.16" textLength="97.2" lengthAdjust="spacingAndGlyphs" >% Cholesterol</text>
<text transform="translate(440.7,302.5) rotate(-90)" font-size="16" stroke="#000" stroke-width="0.18" >t</text>
<text transform="translate(444.5,297) rotate(-90)" font-size="9.6" stroke="#000" stroke-width="0.11" textLength="6.9" lengthAdjust="spacingAndGlyphs" >E</text>
<text transform="translate(440.9,285) rotate(-90)" font-size="15" stroke="#000" stroke-width="0.16" textLength="17.6" lengthAdjust="spacingAndGlyphs" >(s)</text>
<text x="470.7" y="233.5" font-size="9" textLength="59.8" lengthAdjust="spacingAndGlyphs" >[TX-100] (mM)</text>
<rect x="470.9" y="237.8" width="19.8" height="9.3" fill="#c8c8c8" stroke="#000" stroke-width="1"/>
<rect x="470.9" y="249.3" width="19.8" height="9.5" fill="#007800" stroke="#000" stroke-width="1"/>
<text x="493.7" y="246.3" font-size="10" stroke="#000" stroke-width="0.11" textLength="17.9" lengthAdjust="spacingAndGlyphs" >0.08</text>
<text x="493.7" y="257.6" font-size="10" stroke="#000" stroke-width="0.11" textLength="17.9" lengthAdjust="spacingAndGlyphs" >0.16</text>
<rect x="603.3" y="262.6" width="13.6" height="88.6" fill="#c8c8c8" stroke="#000" stroke-width="1"/>
<g stroke="#000" stroke-width="0.9"><line x1="610.0999999999999" y1="252.5" x2="610.0999999999999" y2="272.8"/><line x1="607.0999999999999" y1="252.5" x2="613.0999999999999" y2="252.5"/><line x1="607.0999999999999" y1="272.8" x2="613.0999999999999" y2="272.8"/></g>
<rect x="623" y="343.0" width="13.7" height="8.2" fill="#007800" stroke="#000" stroke-width="1"/>
<g stroke="#000" stroke-width="0.9"><line x1="629.85" y1="342.2" x2="629.85" y2="343.7"/><line x1="626.85" y1="342.2" x2="632.85" y2="342.2"/><line x1="626.85" y1="343.7" x2="632.85" y2="343.7"/></g>
<rect x="642.4" y="238.9" width="13.6" height="112.3" fill="#c8c8c8" stroke="#000" stroke-width="1"/>
<g stroke="#000" stroke-width="0.9"><line x1="649.2" y1="223.9" x2="649.2" y2="253.9"/><line x1="646.2" y1="223.9" x2="652.2" y2="223.9"/><line x1="646.2" y1="253.9" x2="652.2" y2="253.9"/></g>
<rect x="662.3" y="322.6" width="13.6" height="28.6" fill="#007800" stroke="#000" stroke-width="1"/>
<g stroke="#000" stroke-width="0.9"><line x1="669.0999999999999" y1="321.4" x2="669.0999999999999" y2="323.9"/><line x1="666.0999999999999" y1="321.4" x2="672.0999999999999" y2="321.4"/><line x1="666.0999999999999" y1="323.9" x2="672.0999999999999" y2="323.9"/></g>
<g stroke="#000" fill="none">
<rect x="596.4" y="217.6" width="86.1" height="133.6" stroke-width="1.1"/>
<line x1="596.4" y1="351.2" x2="600.4" y2="351.2" stroke-width="0.9"/>
<line x1="682.5" y1="351.2" x2="678.5" y2="351.2" stroke-width="0.9"/>
<line x1="596.4" y1="339.1" x2="598.6" y2="339.1" stroke-width="0.9"/>
<line x1="682.5" y1="339.1" x2="680.3" y2="339.1" stroke-width="0.9"/>
<line x1="596.4" y1="327.0" x2="600.4" y2="327.0" stroke-width="0.9"/>
<line x1="682.5" y1="327.0" x2="678.5" y2="327.0" stroke-width="0.9"/>
<line x1="596.4" y1="314.9" x2="598.6" y2="314.9" stroke-width="0.9"/>
<line x1="682.5" y1="314.9" x2="680.3" y2="314.9" stroke-width="0.9"/>
<line x1="596.4" y1="302.8" x2="600.4" y2="302.8" stroke-width="0.9"/>
<line x1="682.5" y1="302.8" x2="678.5" y2="302.8" stroke-width="0.9"/>
<line x1="596.4" y1="290.7" x2="598.6" y2="290.7" stroke-width="0.9"/>
<line x1="682.5" y1="290.7" x2="680.3" y2="290.7" stroke-width="0.9"/>
<line x1="596.4" y1="278.6" x2="600.4" y2="278.6" stroke-width="0.9"/>
<line x1="682.5" y1="278.6" x2="678.5" y2="278.6" stroke-width="0.9"/>
<line x1="596.4" y1="266.5" x2="598.6" y2="266.5" stroke-width="0.9"/>
<line x1="682.5" y1="266.5" x2="680.3" y2="266.5" stroke-width="0.9"/>
<line x1="596.4" y1="254.4" x2="600.4" y2="254.4" stroke-width="0.9"/>
<line x1="682.5" y1="254.4" x2="678.5" y2="254.4" stroke-width="0.9"/>
<line x1="596.4" y1="242.3" x2="598.6" y2="242.3" stroke-width="0.9"/>
<line x1="682.5" y1="242.3" x2="680.3" y2="242.3" stroke-width="0.9"/>
<line x1="596.4" y1="230.2" x2="600.4" y2="230.2" stroke-width="0.9"/>
<line x1="682.5" y1="230.2" x2="678.5" y2="230.2" stroke-width="0.9"/>
<line x1="596.4" y1="218.1" x2="598.6" y2="218.1" stroke-width="0.9"/>
<line x1="682.5" y1="218.1" x2="680.3" y2="218.1" stroke-width="0.9"/>
<line x1="607.2" y1="351.2" x2="607.2" y2="349.0" stroke-width="0.9"/>
<line x1="607.2" y1="217.6" x2="607.2" y2="219.79999999999998" stroke-width="0.9"/>
<line x1="617.9" y1="351.2" x2="617.9" y2="347.2" stroke-width="0.9"/>
<line x1="617.9" y1="217.6" x2="617.9" y2="221.6" stroke-width="0.9"/>
<line x1="628.7" y1="351.2" x2="628.7" y2="349.0" stroke-width="0.9"/>
<line x1="628.7" y1="217.6" x2="628.7" y2="219.79999999999998" stroke-width="0.9"/>
<line x1="639.5" y1="351.2" x2="639.5" y2="349.0" stroke-width="0.9"/>
<line x1="639.5" y1="217.6" x2="639.5" y2="219.79999999999998" stroke-width="0.9"/>
<line x1="650.2" y1="351.2" x2="650.2" y2="349.0" stroke-width="0.9"/>
<line x1="650.2" y1="217.6" x2="650.2" y2="219.79999999999998" stroke-width="0.9"/>
<line x1="661.0" y1="351.2" x2="661.0" y2="347.2" stroke-width="0.9"/>
<line x1="661.0" y1="217.6" x2="661.0" y2="221.6" stroke-width="0.9"/>
<line x1="671.7" y1="351.2" x2="671.7" y2="349.0" stroke-width="0.9"/>
<line x1="671.7" y1="217.6" x2="671.7" y2="219.79999999999998" stroke-width="0.9"/>
</g>
<text x="594.5" y="234.8" font-size="14.5" stroke="#000" stroke-width="0.16" text-anchor="end" textLength="20.7" lengthAdjust="spacingAndGlyphs" >250</text>
<text x="594.5" y="258.9" font-size="14.5" stroke="#000" stroke-width="0.16" text-anchor="end" textLength="20.7" lengthAdjust="spacingAndGlyphs" >200</text>
<text x="594.5" y="283.1" font-size="14.5" stroke="#000" stroke-width="0.16" text-anchor="end" textLength="20.7" lengthAdjust="spacingAndGlyphs" >150</text>
<text x="594.5" y="307.4" font-size="14.5" stroke="#000" stroke-width="0.16" text-anchor="end" textLength="20.7" lengthAdjust="spacingAndGlyphs" >100</text>
<text x="594.5" y="332.1" font-size="14.5" stroke="#000" stroke-width="0.16" text-anchor="end" textLength="13.8" lengthAdjust="spacingAndGlyphs" >50</text>
<text x="594.5" y="356.2" font-size="14.5" stroke="#000" stroke-width="0.16" text-anchor="end" textLength="6.9" lengthAdjust="spacingAndGlyphs" >0</text>
<text x="619.7" y="364" font-size="14" stroke="#000" stroke-width="0.15" text-anchor="middle" textLength="6.6" lengthAdjust="spacingAndGlyphs" >0</text>
<text x="660.9" y="364" font-size="14" stroke="#000" stroke-width="0.15" text-anchor="middle" textLength="13.3" lengthAdjust="spacingAndGlyphs" >20</text>
<text x="588.4" y="377.4" font-size="15" stroke="#000" stroke-width="0.16" textLength="97.2" lengthAdjust="spacingAndGlyphs" >% Cholesterol</text>
<text transform="translate(567.5,298.8) rotate(-90)" font-size="16" stroke="#000" stroke-width="0.18" >t</text>
<text transform="translate(572.3,295) rotate(-90)" font-size="9" textLength="5.2" lengthAdjust="spacingAndGlyphs" >L</text>
<text transform="translate(566.5,283.5) rotate(-90)" font-size="14.5" stroke="#000" stroke-width="0.16" textLength="16.6" lengthAdjust="spacingAndGlyphs" >(s)</text>
</svg>
</body></html>
